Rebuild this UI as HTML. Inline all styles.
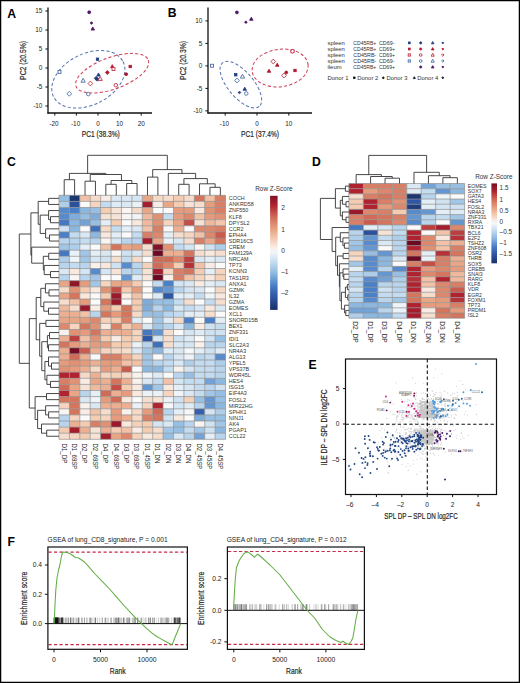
<!DOCTYPE html><html><head><meta charset="utf-8"><style>html,body{margin:0;padding:0;background:#fff;overflow:hidden}svg{display:block}</style></head><body>
<svg width="520" height="683" viewBox="0 0 520 683" font-family="&quot;Liberation Sans&quot;, sans-serif" fill="#222">
<rect x="0" y="0" width="520" height="683" fill="#fff"/>
<text x="7.30" y="17.50" font-size="12.2" fill="#000" font-weight="bold">A</text>
<text x="167.80" y="17.10" font-size="12.2" fill="#000" font-weight="bold">B</text>
<text x="7.00" y="165.80" font-size="12.2" fill="#000" font-weight="bold">C</text>
<text x="312.00" y="165.80" font-size="12.2" fill="#000" font-weight="bold">D</text>
<text x="308.60" y="369.00" font-size="12.2" fill="#000" font-weight="bold">E</text>
<text x="7.60" y="546.30" font-size="12.2" fill="#000" font-weight="bold">F</text>
<line x1="48.00" y1="7.50" x2="48.00" y2="113.60" stroke="#111" stroke-width="1.3"/>
<line x1="47.40" y1="113.00" x2="152.00" y2="113.00" stroke="#111" stroke-width="1.3"/>
<line x1="45.40" y1="11.00" x2="48.00" y2="11.00" stroke="#111" stroke-width="1"/>
<text x="42.40" y="13.20" font-size="6.4" text-anchor="end">15</text>
<line x1="45.40" y1="30.00" x2="48.00" y2="30.00" stroke="#111" stroke-width="1"/>
<text x="42.40" y="32.20" font-size="6.4" text-anchor="end">10</text>
<line x1="45.40" y1="49.00" x2="48.00" y2="49.00" stroke="#111" stroke-width="1"/>
<text x="42.40" y="51.20" font-size="6.4" text-anchor="end">5</text>
<line x1="45.40" y1="68.00" x2="48.00" y2="68.00" stroke="#111" stroke-width="1"/>
<text x="42.40" y="70.20" font-size="6.4" text-anchor="end">0</text>
<line x1="45.40" y1="87.00" x2="48.00" y2="87.00" stroke="#111" stroke-width="1"/>
<text x="42.40" y="89.20" font-size="6.4" text-anchor="end">-5</text>
<line x1="45.40" y1="106.00" x2="48.00" y2="106.00" stroke="#111" stroke-width="1"/>
<text x="42.40" y="108.20" font-size="6.4" text-anchor="end">-10</text>
<line x1="54.80" y1="113.00" x2="54.80" y2="115.60" stroke="#111" stroke-width="1"/>
<text x="54.00" y="125.70" font-size="6.4" text-anchor="middle">-20</text>
<line x1="76.40" y1="113.00" x2="76.40" y2="115.60" stroke="#111" stroke-width="1"/>
<text x="75.60" y="125.70" font-size="6.4" text-anchor="middle">-10</text>
<line x1="98.00" y1="113.00" x2="98.00" y2="115.60" stroke="#111" stroke-width="1"/>
<text x="98.00" y="125.70" font-size="6.4" text-anchor="middle">0</text>
<line x1="119.60" y1="113.00" x2="119.60" y2="115.60" stroke="#111" stroke-width="1"/>
<text x="119.60" y="125.70" font-size="6.4" text-anchor="middle">10</text>
<line x1="141.20" y1="113.00" x2="141.20" y2="115.60" stroke="#111" stroke-width="1"/>
<text x="141.20" y="125.70" font-size="6.4" text-anchor="middle">20</text>
<text x="100.80" y="137.20" font-size="8.3" stroke="#2a2a2a" stroke-width="0.2" text-anchor="middle" fill="#2a2a2a" textLength="38" lengthAdjust="spacingAndGlyphs">PC1 (38.3%)</text>
<text x="26.40" y="60.40" font-size="8.3" stroke="#2a2a2a" stroke-width="0.2" text-anchor="middle" fill="#2a2a2a" textLength="39" lengthAdjust="spacingAndGlyphs" transform="rotate(-90 26.40 60.40)">PC2 (20.5%)</text>
<ellipse cx="88.34" cy="79.29" rx="38.94" ry="25.51" transform="rotate(-27.07 88.34 79.29)" fill="none" stroke="#5273ad" stroke-width="1" stroke-dasharray="3.2 2.2"/>
<ellipse cx="112.18" cy="73.21" rx="38.43" ry="15.84" transform="rotate(-19.94 112.18 73.21)" fill="none" stroke="#cc3a50" stroke-width="1" stroke-dasharray="3.2 2.2"/>
<circle cx="89.20" cy="12.30" r="1.45" fill="#4a1562" stroke="#4a1562" stroke-width="0.8"/>
<path d="M91.50,21.65 L92.85,23.00 L91.50,24.35 L90.15,23.00 Z" fill="#4a1562" stroke="#4a1562" stroke-width="0.8"/>
<path d="M92.80,26.95 L94.56,30.09 L91.04,30.09 Z" fill="#4a1562" stroke="#4a1562" stroke-width="0.8"/>
<rect x="96.30" y="58.00" width="2.40" height="2.40" fill="#1f3f80" stroke="#1f3f80" stroke-width="0.8"/>
<path d="M112.30,64.65 L114.06,67.80 L110.54,67.80 Z" fill="#b0162e" stroke="#b0162e" stroke-width="0.8"/>
<rect x="112.04" y="67.54" width="2.93" height="2.93" fill="#fff" stroke="#c4364f" stroke-width="0.95"/>
<rect x="129.00" y="65.30" width="2.40" height="2.40" fill="#b0162e" stroke="#b0162e" stroke-width="0.8"/>
<path d="M107.30,70.55 L109.25,72.50 L107.30,74.45 L105.35,72.50 Z" fill="#b0162e" stroke="#b0162e" stroke-width="0.8"/>
<circle cx="126.20" cy="74.20" r="1.45" fill="#b0162e" stroke="#b0162e" stroke-width="0.8"/>
<rect x="58.04" y="70.44" width="2.93" height="2.93" fill="#fff" stroke="#5273ad" stroke-width="0.95"/>
<path d="M98.50,72.95 L100.26,76.09 L96.74,76.09 Z" fill="#1f3f80" stroke="#1f3f80" stroke-width="0.8"/>
<path d="M96.20,76.35 L98.15,78.30 L96.20,80.25 L94.25,78.30 Z" fill="#1f3f80" stroke="#1f3f80" stroke-width="0.8"/>
<circle cx="97.30" cy="79.40" r="1.45" fill="#1f3f80" stroke="#1f3f80" stroke-width="0.8"/>
<path d="M100.20,76.54 L102.34,80.38 L98.06,80.38 Z" fill="#fff" stroke="#c4364f" stroke-width="0.95"/>
<path d="M83.10,78.34 L85.24,82.18 L80.96,82.18 Z" fill="#fff" stroke="#5273ad" stroke-width="0.95"/>
<path d="M90.40,81.12 L92.78,83.50 L90.40,85.88 L88.02,83.50 Z" fill="#fff" stroke="#c4364f" stroke-width="0.95"/>
<circle cx="115.80" cy="85.20" r="1.77" fill="#fff" stroke="#c4364f" stroke-width="0.95"/>
<path d="M69.30,91.42 L71.68,93.80 L69.30,96.18 L66.92,93.80 Z" fill="#fff" stroke="#5273ad" stroke-width="0.95"/>
<circle cx="88.30" cy="94.10" r="1.77" fill="#fff" stroke="#5273ad" stroke-width="0.95"/>
<line x1="208.00" y1="7.50" x2="208.00" y2="113.60" stroke="#111" stroke-width="1.3"/>
<line x1="207.40" y1="113.00" x2="312.00" y2="113.00" stroke="#111" stroke-width="1.3"/>
<line x1="205.40" y1="20.90" x2="208.00" y2="20.90" stroke="#111" stroke-width="1"/>
<text x="202.40" y="23.10" font-size="6.4" text-anchor="end">10</text>
<line x1="205.40" y1="43.40" x2="208.00" y2="43.40" stroke="#111" stroke-width="1"/>
<text x="202.40" y="45.60" font-size="6.4" text-anchor="end">5</text>
<line x1="205.40" y1="65.90" x2="208.00" y2="65.90" stroke="#111" stroke-width="1"/>
<text x="202.40" y="68.10" font-size="6.4" text-anchor="end">0</text>
<line x1="205.40" y1="88.40" x2="208.00" y2="88.40" stroke="#111" stroke-width="1"/>
<text x="202.40" y="90.60" font-size="6.4" text-anchor="end">-5</text>
<line x1="205.40" y1="110.90" x2="208.00" y2="110.90" stroke="#111" stroke-width="1"/>
<text x="202.40" y="113.10" font-size="6.4" text-anchor="end">-10</text>
<line x1="225.20" y1="113.00" x2="225.20" y2="115.60" stroke="#111" stroke-width="1"/>
<text x="224.40" y="125.70" font-size="6.4" text-anchor="middle">-10</text>
<line x1="257.00" y1="113.00" x2="257.00" y2="115.60" stroke="#111" stroke-width="1"/>
<text x="257.00" y="125.70" font-size="6.4" text-anchor="middle">0</text>
<line x1="288.80" y1="113.00" x2="288.80" y2="115.60" stroke="#111" stroke-width="1"/>
<text x="288.80" y="125.70" font-size="6.4" text-anchor="middle">10</text>
<text x="260.00" y="137.20" font-size="8.3" stroke="#2a2a2a" stroke-width="0.2" text-anchor="middle" fill="#2a2a2a" textLength="38" lengthAdjust="spacingAndGlyphs">PC1 (37.4%)</text>
<text x="186.40" y="60.40" font-size="8.3" stroke="#2a2a2a" stroke-width="0.2" text-anchor="middle" fill="#2a2a2a" textLength="39" lengthAdjust="spacingAndGlyphs" transform="rotate(-90 186.40 60.40)">PC2 (20.3%)</text>
<ellipse cx="240.86" cy="84.67" rx="28.51" ry="12.8" transform="rotate(49.92 240.86 84.67)" fill="none" stroke="#5273ad" stroke-width="1" stroke-dasharray="3.2 2.2"/>
<ellipse cx="280.13" cy="67.99" rx="28.12" ry="18.75" transform="rotate(-7.39 280.13 67.99)" fill="none" stroke="#cc3a50" stroke-width="1" stroke-dasharray="3.2 2.2"/>
<circle cx="236.90" cy="12.40" r="1.45" fill="#4a1562" stroke="#4a1562" stroke-width="0.8"/>
<path d="M245.90,20.85 L247.25,22.20 L245.90,23.55 L244.55,22.20 Z" fill="#4a1562" stroke="#4a1562" stroke-width="0.8"/>
<path d="M251.30,17.15 L253.06,20.30 L249.54,20.30 Z" fill="#4a1562" stroke="#4a1562" stroke-width="0.8"/>
<rect x="210.54" y="64.29" width="2.93" height="2.93" fill="#fff" stroke="#5273ad" stroke-width="0.95"/>
<rect x="234.55" y="73.55" width="2.40" height="2.40" fill="#1f3f80" stroke="#1f3f80" stroke-width="0.8"/>
<path d="M242.50,74.24 L244.64,78.08 L240.36,78.08 Z" fill="#fff" stroke="#5273ad" stroke-width="0.95"/>
<path d="M237.00,78.12 L239.38,80.50 L237.00,82.88 L234.62,80.50 Z" fill="#fff" stroke="#5273ad" stroke-width="0.95"/>
<path d="M244.75,87.15 L246.51,90.30 L242.99,90.30 Z" fill="#1f3f80" stroke="#1f3f80" stroke-width="0.8"/>
<path d="M239.50,91.15 L240.85,92.50 L239.50,93.85 L238.15,92.50 Z" fill="#1f3f80" stroke="#1f3f80" stroke-width="0.8"/>
<circle cx="246.25" cy="93.50" r="1.77" fill="#fff" stroke="#5273ad" stroke-width="0.95"/>
<rect x="291.04" y="49.79" width="2.93" height="2.93" fill="#fff" stroke="#c4364f" stroke-width="0.95"/>
<circle cx="292.50" cy="51.25" r="1.77" fill="#fff" stroke="#c4364f" stroke-width="0.95"/>
<path d="M273.25,59.12 L275.63,61.50 L273.25,63.88 L270.87,61.50 Z" fill="#fff" stroke="#c4364f" stroke-width="0.95"/>
<path d="M277.25,63.15 L279.01,66.30 L275.49,66.30 Z" fill="#b0162e" stroke="#b0162e" stroke-width="0.8"/>
<path d="M269.00,69.15 L270.76,72.30 L267.24,72.30 Z" fill="#b0162e" stroke="#b0162e" stroke-width="0.8"/>
<circle cx="286.25" cy="72.50" r="1.45" fill="#b0162e" stroke="#b0162e" stroke-width="0.8"/>
<path d="M284.00,73.12 L286.38,75.50 L284.00,77.88 L281.62,75.50 Z" fill="#fff" stroke="#c4364f" stroke-width="0.95"/>
<rect x="293.80" y="69.30" width="2.40" height="2.40" fill="#b0162e" stroke="#b0162e" stroke-width="0.8"/>
<text x="327.50" y="45.00" font-size="5.9" fill="#333">spleen</text>
<text x="353.30" y="45.00" font-size="5.9" fill="#333" textLength="23" lengthAdjust="spacingAndGlyphs">CD45RB+</text>
<text x="379.00" y="45.00" font-size="5.9" fill="#333" textLength="15.5" lengthAdjust="spacingAndGlyphs">CD69-</text>
<rect x="408.40" y="42.00" width="1.80" height="1.80" fill="#1f3f80" stroke="#1f3f80" stroke-width="0.8"/>
<circle cx="420.70" cy="42.90" r="1.09" fill="#1f3f80" stroke="#1f3f80" stroke-width="0.8"/>
<path d="M432.70,41.51 L434.02,43.87 L431.38,43.87 Z" fill="#1f3f80" stroke="#1f3f80" stroke-width="0.8"/>
<path d="M442.80,41.89 L443.81,42.90 L442.80,43.91 L441.79,42.90 Z" fill="#1f3f80" stroke="#1f3f80" stroke-width="0.8"/>
<text x="327.50" y="51.10" font-size="5.9" fill="#333">spleen</text>
<text x="353.30" y="51.10" font-size="5.9" fill="#333" textLength="23" lengthAdjust="spacingAndGlyphs">CD45RB+</text>
<text x="379.00" y="51.10" font-size="5.9" fill="#333" textLength="16" lengthAdjust="spacingAndGlyphs">CD69+</text>
<rect x="408.40" y="48.10" width="1.80" height="1.80" fill="#b0162e" stroke="#b0162e" stroke-width="0.8"/>
<circle cx="420.70" cy="49.00" r="1.09" fill="#b0162e" stroke="#b0162e" stroke-width="0.8"/>
<path d="M432.70,47.61 L434.02,49.97 L431.38,49.97 Z" fill="#b0162e" stroke="#b0162e" stroke-width="0.8"/>
<path d="M442.80,47.99 L443.81,49.00 L442.80,50.01 L441.79,49.00 Z" fill="#b0162e" stroke="#b0162e" stroke-width="0.8"/>
<text x="327.50" y="57.10" font-size="5.9" fill="#333">spleen</text>
<text x="353.30" y="57.10" font-size="5.9" fill="#333" textLength="23" lengthAdjust="spacingAndGlyphs">CD45RB-</text>
<text x="379.00" y="57.10" font-size="5.9" fill="#333" textLength="16" lengthAdjust="spacingAndGlyphs">CD69+</text>
<rect x="408.20" y="53.90" width="2.20" height="2.20" fill="#fff" stroke="#c4364f" stroke-width="0.95"/>
<circle cx="420.70" cy="55.00" r="1.33" fill="#fff" stroke="#c4364f" stroke-width="0.95"/>
<path d="M432.70,53.31 L434.31,56.18 L431.09,56.18 Z" fill="#fff" stroke="#c4364f" stroke-width="0.95"/>
<path d="M442.80,53.76 L444.04,55.00 L442.80,56.24 L441.56,55.00 Z" fill="#fff" stroke="#c4364f" stroke-width="0.95"/>
<text x="327.50" y="63.10" font-size="5.9" fill="#333">spleen</text>
<text x="353.30" y="63.10" font-size="5.9" fill="#333" textLength="23" lengthAdjust="spacingAndGlyphs">CD45RB-</text>
<text x="379.00" y="63.10" font-size="5.9" fill="#333" textLength="15.5" lengthAdjust="spacingAndGlyphs">CD69-</text>
<rect x="408.20" y="59.90" width="2.20" height="2.20" fill="#fff" stroke="#5273ad" stroke-width="0.95"/>
<circle cx="420.70" cy="61.00" r="1.33" fill="#fff" stroke="#5273ad" stroke-width="0.95"/>
<path d="M432.70,59.31 L434.31,62.18 L431.09,62.18 Z" fill="#fff" stroke="#5273ad" stroke-width="0.95"/>
<path d="M442.80,59.76 L444.04,61.00 L442.80,62.24 L441.56,61.00 Z" fill="#fff" stroke="#5273ad" stroke-width="0.95"/>
<text x="327.50" y="69.10" font-size="5.9" fill="#333">ileum</text>
<text x="353.30" y="69.10" font-size="5.9" fill="#333" textLength="23" lengthAdjust="spacingAndGlyphs">CD45RB+</text>
<text x="379.00" y="69.10" font-size="5.9" fill="#333" textLength="16" lengthAdjust="spacingAndGlyphs">CD69+</text>
<circle cx="420.70" cy="67.00" r="1.09" fill="#4a1562" stroke="#4a1562" stroke-width="0.8"/>
<path d="M432.70,65.61 L434.02,67.97 L431.38,67.97 Z" fill="#4a1562" stroke="#4a1562" stroke-width="0.8"/>
<path d="M442.80,65.99 L443.81,67.00 L442.80,68.01 L441.79,67.00 Z" fill="#4a1562" stroke="#4a1562" stroke-width="0.8"/>
<text x="327.50" y="79.90" font-size="5.9" fill="#333">Donor 1</text>
<rect x="353.52" y="77.02" width="1.56" height="1.56" fill="#111" stroke="#111" stroke-width="0.8"/>
<text x="357.30" y="79.90" font-size="5.9" fill="#333">Donor 2</text>
<circle cx="383.30" cy="77.80" r="0.87" fill="#111" stroke="#111" stroke-width="0.8"/>
<text x="386.50" y="79.90" font-size="5.9" fill="#333">Donor 3</text>
<path d="M414.30,76.69 L415.35,78.58 L413.25,78.58 Z" fill="#111" stroke="#111" stroke-width="0.8"/>
<text x="417.30" y="79.90" font-size="5.9" fill="#333">Donor 4</text>
<path d="M442.80,76.79 L443.81,77.80 L442.80,78.81 L441.79,77.80 Z" fill="#111" stroke="#111" stroke-width="0.8"/>
<rect x="59.00" y="195.30" width="10.41" height="6.10" fill="#97bfe3"/>
<rect x="69.41" y="195.30" width="10.41" height="6.10" fill="#1d3772"/>
<rect x="79.82" y="195.30" width="10.41" height="6.10" fill="#f1c2a7"/>
<rect x="90.23" y="195.30" width="10.41" height="6.10" fill="#f6dac8"/>
<rect x="100.64" y="195.30" width="10.41" height="6.10" fill="#f8ece4"/>
<rect x="111.05" y="195.30" width="10.41" height="6.10" fill="#dae8f4"/>
<rect x="121.46" y="195.30" width="10.41" height="6.10" fill="#dae8f4"/>
<rect x="131.87" y="195.30" width="10.41" height="6.10" fill="#d4e5f3"/>
<rect x="142.28" y="195.30" width="10.41" height="6.10" fill="#e9a687"/>
<rect x="152.69" y="195.30" width="10.41" height="6.10" fill="#f6dac8"/>
<rect x="163.10" y="195.30" width="10.41" height="6.10" fill="#f6decf"/>
<rect x="173.51" y="195.30" width="10.41" height="6.10" fill="#f4ccb2"/>
<rect x="183.92" y="195.30" width="10.41" height="6.10" fill="#f6decf"/>
<rect x="194.33" y="195.30" width="10.41" height="6.10" fill="#d4755e"/>
<rect x="204.74" y="195.30" width="10.41" height="6.10" fill="#f1c2a7"/>
<rect x="215.15" y="195.30" width="10.41" height="6.10" fill="#d87f65"/>
<rect x="59.00" y="201.40" width="10.41" height="6.10" fill="#aeceea"/>
<rect x="69.41" y="201.40" width="10.41" height="6.10" fill="#2b519c"/>
<rect x="79.82" y="201.40" width="10.41" height="6.10" fill="#fafafa"/>
<rect x="90.23" y="201.40" width="10.41" height="6.10" fill="#f5d5c0"/>
<rect x="100.64" y="201.40" width="10.41" height="6.10" fill="#c4dcf0"/>
<rect x="111.05" y="201.40" width="10.41" height="6.10" fill="#dfebf5"/>
<rect x="121.46" y="201.40" width="10.41" height="6.10" fill="#dae8f4"/>
<rect x="131.87" y="201.40" width="10.41" height="6.10" fill="#eaf1f7"/>
<rect x="142.28" y="201.40" width="10.41" height="6.10" fill="#a41e2e"/>
<rect x="152.69" y="201.40" width="10.41" height="6.10" fill="#f8ece4"/>
<rect x="163.10" y="201.40" width="10.41" height="6.10" fill="#e9a687"/>
<rect x="173.51" y="201.40" width="10.41" height="6.10" fill="#f4ccb2"/>
<rect x="183.92" y="201.40" width="10.41" height="6.10" fill="#f7e3d6"/>
<rect x="194.33" y="201.40" width="10.41" height="6.10" fill="#f6decf"/>
<rect x="204.74" y="201.40" width="10.41" height="6.10" fill="#e69c7c"/>
<rect x="215.15" y="201.40" width="10.41" height="6.10" fill="#d87f65"/>
<rect x="59.00" y="207.50" width="10.41" height="6.10" fill="#578bcd"/>
<rect x="69.41" y="207.50" width="10.41" height="6.10" fill="#4a80c8"/>
<rect x="79.82" y="207.50" width="10.41" height="6.10" fill="#8cb8e0"/>
<rect x="90.23" y="207.50" width="10.41" height="6.10" fill="#97bfe3"/>
<rect x="100.64" y="207.50" width="10.41" height="6.10" fill="#f4ccb2"/>
<rect x="111.05" y="207.50" width="10.41" height="6.10" fill="#f7e3d6"/>
<rect x="121.46" y="207.50" width="10.41" height="6.10" fill="#f9f5f3"/>
<rect x="131.87" y="207.50" width="10.41" height="6.10" fill="#f6dac8"/>
<rect x="142.28" y="207.50" width="10.41" height="6.10" fill="#e9a687"/>
<rect x="152.69" y="207.50" width="10.41" height="6.10" fill="#fafafa"/>
<rect x="163.10" y="207.50" width="10.41" height="6.10" fill="#fafafa"/>
<rect x="173.51" y="207.50" width="10.41" height="6.10" fill="#e69c7c"/>
<rect x="183.92" y="207.50" width="10.41" height="6.10" fill="#e69c7c"/>
<rect x="194.33" y="207.50" width="10.41" height="6.10" fill="#f8e8dd"/>
<rect x="204.74" y="207.50" width="10.41" height="6.10" fill="#e19274"/>
<rect x="215.15" y="207.50" width="10.41" height="6.10" fill="#d87f65"/>
<rect x="59.00" y="213.60" width="10.41" height="6.10" fill="#578bcd"/>
<rect x="69.41" y="213.60" width="10.41" height="6.10" fill="#7faddb"/>
<rect x="79.82" y="213.60" width="10.41" height="6.10" fill="#97bfe3"/>
<rect x="90.23" y="213.60" width="10.41" height="6.10" fill="#7faddb"/>
<rect x="100.64" y="213.60" width="10.41" height="6.10" fill="#f7e3d6"/>
<rect x="111.05" y="213.60" width="10.41" height="6.10" fill="#f7e3d6"/>
<rect x="121.46" y="213.60" width="10.41" height="6.10" fill="#f9f5f3"/>
<rect x="131.87" y="213.60" width="10.41" height="6.10" fill="#eff4f8"/>
<rect x="142.28" y="213.60" width="10.41" height="6.10" fill="#eeb99c"/>
<rect x="152.69" y="213.60" width="10.41" height="6.10" fill="#e19274"/>
<rect x="163.10" y="213.60" width="10.41" height="6.10" fill="#c4dcf0"/>
<rect x="173.51" y="213.60" width="10.41" height="6.10" fill="#e69c7c"/>
<rect x="183.92" y="213.60" width="10.41" height="6.10" fill="#dd886d"/>
<rect x="194.33" y="213.60" width="10.41" height="6.10" fill="#f1c2a7"/>
<rect x="204.74" y="213.60" width="10.41" height="6.10" fill="#e69c7c"/>
<rect x="215.15" y="213.60" width="10.41" height="6.10" fill="#e19274"/>
<rect x="59.00" y="219.70" width="10.41" height="6.10" fill="#4478c1"/>
<rect x="69.41" y="219.70" width="10.41" height="6.10" fill="#8cb8e0"/>
<rect x="79.82" y="219.70" width="10.41" height="6.10" fill="#72a2d6"/>
<rect x="90.23" y="219.70" width="10.41" height="6.10" fill="#97bfe3"/>
<rect x="100.64" y="219.70" width="10.41" height="6.10" fill="#e4eef6"/>
<rect x="111.05" y="219.70" width="10.41" height="6.10" fill="#f4ccb2"/>
<rect x="121.46" y="219.70" width="10.41" height="6.10" fill="#fafafa"/>
<rect x="131.87" y="219.70" width="10.41" height="6.10" fill="#f8e8dd"/>
<rect x="142.28" y="219.70" width="10.41" height="6.10" fill="#eeb99c"/>
<rect x="152.69" y="219.70" width="10.41" height="6.10" fill="#e19274"/>
<rect x="163.10" y="219.70" width="10.41" height="6.10" fill="#f5d5c0"/>
<rect x="173.51" y="219.70" width="10.41" height="6.10" fill="#e9a687"/>
<rect x="183.92" y="219.70" width="10.41" height="6.10" fill="#c34e47"/>
<rect x="194.33" y="219.70" width="10.41" height="6.10" fill="#f7e3d6"/>
<rect x="204.74" y="219.70" width="10.41" height="6.10" fill="#eeb99c"/>
<rect x="215.15" y="219.70" width="10.41" height="6.10" fill="#f3c7ad"/>
<rect x="59.00" y="225.80" width="10.41" height="6.10" fill="#cfe2f2"/>
<rect x="69.41" y="225.80" width="10.41" height="6.10" fill="#8cb8e0"/>
<rect x="79.82" y="225.80" width="10.41" height="6.10" fill="#fafafa"/>
<rect x="90.23" y="225.80" width="10.41" height="6.10" fill="#3f70ba"/>
<rect x="100.64" y="225.80" width="10.41" height="6.10" fill="#f6dac8"/>
<rect x="111.05" y="225.80" width="10.41" height="6.10" fill="#c4dcf0"/>
<rect x="121.46" y="225.80" width="10.41" height="6.10" fill="#e4eef6"/>
<rect x="131.87" y="225.80" width="10.41" height="6.10" fill="#dae8f4"/>
<rect x="142.28" y="225.80" width="10.41" height="6.10" fill="#f1c2a7"/>
<rect x="152.69" y="225.80" width="10.41" height="6.10" fill="#d87f65"/>
<rect x="163.10" y="225.80" width="10.41" height="6.10" fill="#f5f7f9"/>
<rect x="173.51" y="225.80" width="10.41" height="6.10" fill="#ecaf92"/>
<rect x="183.92" y="225.80" width="10.41" height="6.10" fill="#fafafa"/>
<rect x="194.33" y="225.80" width="10.41" height="6.10" fill="#dd886d"/>
<rect x="204.74" y="225.80" width="10.41" height="6.10" fill="#dd886d"/>
<rect x="215.15" y="225.80" width="10.41" height="6.10" fill="#d87f65"/>
<rect x="59.00" y="231.90" width="10.41" height="6.10" fill="#4a80c8"/>
<rect x="69.41" y="231.90" width="10.41" height="6.10" fill="#c4dcf0"/>
<rect x="79.82" y="231.90" width="10.41" height="6.10" fill="#dae8f4"/>
<rect x="90.23" y="231.90" width="10.41" height="6.10" fill="#8cb8e0"/>
<rect x="100.64" y="231.90" width="10.41" height="6.10" fill="#f8e8dd"/>
<rect x="111.05" y="231.90" width="10.41" height="6.10" fill="#e4eef6"/>
<rect x="121.46" y="231.90" width="10.41" height="6.10" fill="#fafafa"/>
<rect x="131.87" y="231.90" width="10.41" height="6.10" fill="#c4dcf0"/>
<rect x="142.28" y="231.90" width="10.41" height="6.10" fill="#d87f65"/>
<rect x="152.69" y="231.90" width="10.41" height="6.10" fill="#dd886d"/>
<rect x="163.10" y="231.90" width="10.41" height="6.10" fill="#e4eef6"/>
<rect x="173.51" y="231.90" width="10.41" height="6.10" fill="#f6decf"/>
<rect x="183.92" y="231.90" width="10.41" height="6.10" fill="#f5d5c0"/>
<rect x="194.33" y="231.90" width="10.41" height="6.10" fill="#f1c2a7"/>
<rect x="204.74" y="231.90" width="10.41" height="6.10" fill="#dd886d"/>
<rect x="215.15" y="231.90" width="10.41" height="6.10" fill="#c95c4e"/>
<rect x="59.00" y="238.00" width="10.41" height="6.10" fill="#b9d5ed"/>
<rect x="69.41" y="238.00" width="10.41" height="6.10" fill="#b9d5ed"/>
<rect x="79.82" y="238.00" width="10.41" height="6.10" fill="#c4dcf0"/>
<rect x="90.23" y="238.00" width="10.41" height="6.10" fill="#b9d5ed"/>
<rect x="100.64" y="238.00" width="10.41" height="6.10" fill="#f9f5f3"/>
<rect x="111.05" y="238.00" width="10.41" height="6.10" fill="#dae8f4"/>
<rect x="121.46" y="238.00" width="10.41" height="6.10" fill="#b9d5ed"/>
<rect x="131.87" y="238.00" width="10.41" height="6.10" fill="#b9d5ed"/>
<rect x="142.28" y="238.00" width="10.41" height="6.10" fill="#a41e2e"/>
<rect x="152.69" y="238.00" width="10.41" height="6.10" fill="#e9a687"/>
<rect x="163.10" y="238.00" width="10.41" height="6.10" fill="#eaf1f7"/>
<rect x="173.51" y="238.00" width="10.41" height="6.10" fill="#dae8f4"/>
<rect x="183.92" y="238.00" width="10.41" height="6.10" fill="#f6decf"/>
<rect x="194.33" y="238.00" width="10.41" height="6.10" fill="#d87f65"/>
<rect x="204.74" y="238.00" width="10.41" height="6.10" fill="#e9a687"/>
<rect x="215.15" y="238.00" width="10.41" height="6.10" fill="#d4755e"/>
<rect x="59.00" y="244.10" width="10.41" height="6.10" fill="#a2c6e6"/>
<rect x="69.41" y="244.10" width="10.41" height="6.10" fill="#aeceea"/>
<rect x="79.82" y="244.10" width="10.41" height="6.10" fill="#e4eef6"/>
<rect x="90.23" y="244.10" width="10.41" height="6.10" fill="#fafafa"/>
<rect x="100.64" y="244.10" width="10.41" height="6.10" fill="#f1c2a7"/>
<rect x="111.05" y="244.10" width="10.41" height="6.10" fill="#d4755e"/>
<rect x="121.46" y="244.10" width="10.41" height="6.10" fill="#e9a687"/>
<rect x="131.87" y="244.10" width="10.41" height="6.10" fill="#e69c7c"/>
<rect x="142.28" y="244.10" width="10.41" height="6.10" fill="#f6decf"/>
<rect x="152.69" y="244.10" width="10.41" height="6.10" fill="#821227"/>
<rect x="163.10" y="244.10" width="10.41" height="6.10" fill="#e19274"/>
<rect x="173.51" y="244.10" width="10.41" height="6.10" fill="#c4dcf0"/>
<rect x="183.92" y="244.10" width="10.41" height="6.10" fill="#d4e5f3"/>
<rect x="194.33" y="244.10" width="10.41" height="6.10" fill="#f9f5f3"/>
<rect x="204.74" y="244.10" width="10.41" height="6.10" fill="#cfe2f2"/>
<rect x="215.15" y="244.10" width="10.41" height="6.10" fill="#aeceea"/>
<rect x="59.00" y="250.20" width="10.41" height="6.10" fill="#4478c1"/>
<rect x="69.41" y="250.20" width="10.41" height="6.10" fill="#eaf1f7"/>
<rect x="79.82" y="250.20" width="10.41" height="6.10" fill="#a2c6e6"/>
<rect x="90.23" y="250.20" width="10.41" height="6.10" fill="#e4eef6"/>
<rect x="100.64" y="250.20" width="10.41" height="6.10" fill="#dae8f4"/>
<rect x="111.05" y="250.20" width="10.41" height="6.10" fill="#f9f5f3"/>
<rect x="121.46" y="250.20" width="10.41" height="6.10" fill="#cfe2f2"/>
<rect x="131.87" y="250.20" width="10.41" height="6.10" fill="#dae8f4"/>
<rect x="142.28" y="250.20" width="10.41" height="6.10" fill="#f6decf"/>
<rect x="152.69" y="250.20" width="10.41" height="6.10" fill="#6b0a22"/>
<rect x="163.10" y="250.20" width="10.41" height="6.10" fill="#ecaf92"/>
<rect x="173.51" y="250.20" width="10.41" height="6.10" fill="#ecaf92"/>
<rect x="183.92" y="250.20" width="10.41" height="6.10" fill="#d4755e"/>
<rect x="194.33" y="250.20" width="10.41" height="6.10" fill="#f6decf"/>
<rect x="204.74" y="250.20" width="10.41" height="6.10" fill="#f8e8dd"/>
<rect x="215.15" y="250.20" width="10.41" height="6.10" fill="#f6decf"/>
<rect x="59.00" y="256.30" width="10.41" height="6.10" fill="#aeceea"/>
<rect x="69.41" y="256.30" width="10.41" height="6.10" fill="#eff4f8"/>
<rect x="79.82" y="256.30" width="10.41" height="6.10" fill="#a2c6e6"/>
<rect x="90.23" y="256.30" width="10.41" height="6.10" fill="#d4e5f3"/>
<rect x="100.64" y="256.30" width="10.41" height="6.10" fill="#cfe2f2"/>
<rect x="111.05" y="256.30" width="10.41" height="6.10" fill="#f6decf"/>
<rect x="121.46" y="256.30" width="10.41" height="6.10" fill="#c4dcf0"/>
<rect x="131.87" y="256.30" width="10.41" height="6.10" fill="#f6dac8"/>
<rect x="142.28" y="256.30" width="10.41" height="6.10" fill="#fafafa"/>
<rect x="152.69" y="256.30" width="10.41" height="6.10" fill="#cf6b56"/>
<rect x="163.10" y="256.30" width="10.41" height="6.10" fill="#cf6b56"/>
<rect x="173.51" y="256.30" width="10.41" height="6.10" fill="#dd886d"/>
<rect x="183.92" y="256.30" width="10.41" height="6.10" fill="#bc3f3f"/>
<rect x="194.33" y="256.30" width="10.41" height="6.10" fill="#dae8f4"/>
<rect x="204.74" y="256.30" width="10.41" height="6.10" fill="#e4eef6"/>
<rect x="215.15" y="256.30" width="10.41" height="6.10" fill="#dae8f4"/>
<rect x="59.00" y="262.40" width="10.41" height="6.10" fill="#b9d5ed"/>
<rect x="69.41" y="262.40" width="10.41" height="6.10" fill="#c4dcf0"/>
<rect x="79.82" y="262.40" width="10.41" height="6.10" fill="#b9d5ed"/>
<rect x="90.23" y="262.40" width="10.41" height="6.10" fill="#f9f1ec"/>
<rect x="100.64" y="262.40" width="10.41" height="6.10" fill="#f8e8dd"/>
<rect x="111.05" y="262.40" width="10.41" height="6.10" fill="#cfe2f2"/>
<rect x="121.46" y="262.40" width="10.41" height="6.10" fill="#578bcd"/>
<rect x="131.87" y="262.40" width="10.41" height="6.10" fill="#b9d5ed"/>
<rect x="142.28" y="262.40" width="10.41" height="6.10" fill="#f5d1b9"/>
<rect x="152.69" y="262.40" width="10.41" height="6.10" fill="#cf6b56"/>
<rect x="163.10" y="262.40" width="10.41" height="6.10" fill="#dd886d"/>
<rect x="173.51" y="262.40" width="10.41" height="6.10" fill="#f4ccb2"/>
<rect x="183.92" y="262.40" width="10.41" height="6.10" fill="#b63138"/>
<rect x="194.33" y="262.40" width="10.41" height="6.10" fill="#f1c2a7"/>
<rect x="204.74" y="262.40" width="10.41" height="6.10" fill="#f8ece4"/>
<rect x="215.15" y="262.40" width="10.41" height="6.10" fill="#fafafa"/>
<rect x="59.00" y="268.50" width="10.41" height="6.10" fill="#dae8f4"/>
<rect x="69.41" y="268.50" width="10.41" height="6.10" fill="#f8e8dd"/>
<rect x="79.82" y="268.50" width="10.41" height="6.10" fill="#d4e5f3"/>
<rect x="90.23" y="268.50" width="10.41" height="6.10" fill="#578bcd"/>
<rect x="100.64" y="268.50" width="10.41" height="6.10" fill="#d4e5f3"/>
<rect x="111.05" y="268.50" width="10.41" height="6.10" fill="#f7e3d6"/>
<rect x="121.46" y="268.50" width="10.41" height="6.10" fill="#b9d5ed"/>
<rect x="131.87" y="268.50" width="10.41" height="6.10" fill="#b9d5ed"/>
<rect x="142.28" y="268.50" width="10.41" height="6.10" fill="#f7e3d6"/>
<rect x="152.69" y="268.50" width="10.41" height="6.10" fill="#a41e2e"/>
<rect x="163.10" y="268.50" width="10.41" height="6.10" fill="#f5d5c0"/>
<rect x="173.51" y="268.50" width="10.41" height="6.10" fill="#d87f65"/>
<rect x="183.92" y="268.50" width="10.41" height="6.10" fill="#d4755e"/>
<rect x="194.33" y="268.50" width="10.41" height="6.10" fill="#f4ccb2"/>
<rect x="204.74" y="268.50" width="10.41" height="6.10" fill="#e4eef6"/>
<rect x="215.15" y="268.50" width="10.41" height="6.10" fill="#f5d5c0"/>
<rect x="59.00" y="274.60" width="10.41" height="6.10" fill="#b9d5ed"/>
<rect x="69.41" y="274.60" width="10.41" height="6.10" fill="#f9f5f3"/>
<rect x="79.82" y="274.60" width="10.41" height="6.10" fill="#b9d5ed"/>
<rect x="90.23" y="274.60" width="10.41" height="6.10" fill="#a2c6e6"/>
<rect x="100.64" y="274.60" width="10.41" height="6.10" fill="#fafafa"/>
<rect x="111.05" y="274.60" width="10.41" height="6.10" fill="#fafafa"/>
<rect x="121.46" y="274.60" width="10.41" height="6.10" fill="#6496d2"/>
<rect x="131.87" y="274.60" width="10.41" height="6.10" fill="#dfebf5"/>
<rect x="142.28" y="274.60" width="10.41" height="6.10" fill="#f8e8dd"/>
<rect x="152.69" y="274.60" width="10.41" height="6.10" fill="#6b0a22"/>
<rect x="163.10" y="274.60" width="10.41" height="6.10" fill="#f9f1ec"/>
<rect x="173.51" y="274.60" width="10.41" height="6.10" fill="#d87f65"/>
<rect x="183.92" y="274.60" width="10.41" height="6.10" fill="#f1c2a7"/>
<rect x="194.33" y="274.60" width="10.41" height="6.10" fill="#f5d5c0"/>
<rect x="204.74" y="274.60" width="10.41" height="6.10" fill="#f8e8dd"/>
<rect x="215.15" y="274.60" width="10.41" height="6.10" fill="#f5d1b9"/>
<rect x="59.00" y="280.70" width="10.41" height="6.10" fill="#e9a687"/>
<rect x="69.41" y="280.70" width="10.41" height="6.10" fill="#8e1629"/>
<rect x="79.82" y="280.70" width="10.41" height="6.10" fill="#e69c7c"/>
<rect x="90.23" y="280.70" width="10.41" height="6.10" fill="#a2c6e6"/>
<rect x="100.64" y="280.70" width="10.41" height="6.10" fill="#f5d5c0"/>
<rect x="111.05" y="280.70" width="10.41" height="6.10" fill="#e9a687"/>
<rect x="121.46" y="280.70" width="10.41" height="6.10" fill="#e9a687"/>
<rect x="131.87" y="280.70" width="10.41" height="6.10" fill="#f4ccb2"/>
<rect x="142.28" y="280.70" width="10.41" height="6.10" fill="#fafafa"/>
<rect x="152.69" y="280.70" width="10.41" height="6.10" fill="#c4dcf0"/>
<rect x="163.10" y="280.70" width="10.41" height="6.10" fill="#4a80c8"/>
<rect x="173.51" y="280.70" width="10.41" height="6.10" fill="#d4e5f3"/>
<rect x="183.92" y="280.70" width="10.41" height="6.10" fill="#dae8f4"/>
<rect x="194.33" y="280.70" width="10.41" height="6.10" fill="#f8ece4"/>
<rect x="204.74" y="280.70" width="10.41" height="6.10" fill="#e4eef6"/>
<rect x="215.15" y="280.70" width="10.41" height="6.10" fill="#dae8f4"/>
<rect x="59.00" y="286.80" width="10.41" height="6.10" fill="#f6decf"/>
<rect x="69.41" y="286.80" width="10.41" height="6.10" fill="#e19274"/>
<rect x="79.82" y="286.80" width="10.41" height="6.10" fill="#f4ccb2"/>
<rect x="90.23" y="286.80" width="10.41" height="6.10" fill="#f8e8dd"/>
<rect x="100.64" y="286.80" width="10.41" height="6.10" fill="#e19274"/>
<rect x="111.05" y="286.80" width="10.41" height="6.10" fill="#c34e47"/>
<rect x="121.46" y="286.80" width="10.41" height="6.10" fill="#f4ccb2"/>
<rect x="131.87" y="286.80" width="10.41" height="6.10" fill="#e69c7c"/>
<rect x="142.28" y="286.80" width="10.41" height="6.10" fill="#fafafa"/>
<rect x="152.69" y="286.80" width="10.41" height="6.10" fill="#578bcd"/>
<rect x="163.10" y="286.80" width="10.41" height="6.10" fill="#6496d2"/>
<rect x="173.51" y="286.80" width="10.41" height="6.10" fill="#b9d5ed"/>
<rect x="183.92" y="286.80" width="10.41" height="6.10" fill="#d4e5f3"/>
<rect x="194.33" y="286.80" width="10.41" height="6.10" fill="#dae8f4"/>
<rect x="204.74" y="286.80" width="10.41" height="6.10" fill="#fafafa"/>
<rect x="215.15" y="286.80" width="10.41" height="6.10" fill="#f6dac8"/>
<rect x="59.00" y="292.90" width="10.41" height="6.10" fill="#e9a687"/>
<rect x="69.41" y="292.90" width="10.41" height="6.10" fill="#d4755e"/>
<rect x="79.82" y="292.90" width="10.41" height="6.10" fill="#f8e8dd"/>
<rect x="90.23" y="292.90" width="10.41" height="6.10" fill="#fafafa"/>
<rect x="100.64" y="292.90" width="10.41" height="6.10" fill="#f4ccb2"/>
<rect x="111.05" y="292.90" width="10.41" height="6.10" fill="#991a2b"/>
<rect x="121.46" y="292.90" width="10.41" height="6.10" fill="#f8ece4"/>
<rect x="131.87" y="292.90" width="10.41" height="6.10" fill="#f1c2a7"/>
<rect x="142.28" y="292.90" width="10.41" height="6.10" fill="#fafafa"/>
<rect x="152.69" y="292.90" width="10.41" height="6.10" fill="#dfebf5"/>
<rect x="163.10" y="292.90" width="10.41" height="6.10" fill="#2e58a6"/>
<rect x="173.51" y="292.90" width="10.41" height="6.10" fill="#e4eef6"/>
<rect x="183.92" y="292.90" width="10.41" height="6.10" fill="#e4eef6"/>
<rect x="194.33" y="292.90" width="10.41" height="6.10" fill="#c4dcf0"/>
<rect x="204.74" y="292.90" width="10.41" height="6.10" fill="#eff4f8"/>
<rect x="215.15" y="292.90" width="10.41" height="6.10" fill="#f8e8dd"/>
<rect x="59.00" y="299.00" width="10.41" height="6.10" fill="#f6decf"/>
<rect x="69.41" y="299.00" width="10.41" height="6.10" fill="#f1c2a7"/>
<rect x="79.82" y="299.00" width="10.41" height="6.10" fill="#e69c7c"/>
<rect x="90.23" y="299.00" width="10.41" height="6.10" fill="#fafafa"/>
<rect x="100.64" y="299.00" width="10.41" height="6.10" fill="#d4755e"/>
<rect x="111.05" y="299.00" width="10.41" height="6.10" fill="#991a2b"/>
<rect x="121.46" y="299.00" width="10.41" height="6.10" fill="#fafafa"/>
<rect x="131.87" y="299.00" width="10.41" height="6.10" fill="#f4ccb2"/>
<rect x="142.28" y="299.00" width="10.41" height="6.10" fill="#7faddb"/>
<rect x="152.69" y="299.00" width="10.41" height="6.10" fill="#97bfe3"/>
<rect x="163.10" y="299.00" width="10.41" height="6.10" fill="#97bfe3"/>
<rect x="173.51" y="299.00" width="10.41" height="6.10" fill="#c4dcf0"/>
<rect x="183.92" y="299.00" width="10.41" height="6.10" fill="#f6decf"/>
<rect x="194.33" y="299.00" width="10.41" height="6.10" fill="#fafafa"/>
<rect x="204.74" y="299.00" width="10.41" height="6.10" fill="#c4dcf0"/>
<rect x="215.15" y="299.00" width="10.41" height="6.10" fill="#f6decf"/>
<rect x="59.00" y="305.10" width="10.41" height="6.10" fill="#eeb99c"/>
<rect x="69.41" y="305.10" width="10.41" height="6.10" fill="#f6decf"/>
<rect x="79.82" y="305.10" width="10.41" height="6.10" fill="#991a2b"/>
<rect x="90.23" y="305.10" width="10.41" height="6.10" fill="#f8ece4"/>
<rect x="100.64" y="305.10" width="10.41" height="6.10" fill="#e69c7c"/>
<rect x="111.05" y="305.10" width="10.41" height="6.10" fill="#f4ccb2"/>
<rect x="121.46" y="305.10" width="10.41" height="6.10" fill="#d4755e"/>
<rect x="131.87" y="305.10" width="10.41" height="6.10" fill="#f4ccb2"/>
<rect x="142.28" y="305.10" width="10.41" height="6.10" fill="#7faddb"/>
<rect x="152.69" y="305.10" width="10.41" height="6.10" fill="#b9d5ed"/>
<rect x="163.10" y="305.10" width="10.41" height="6.10" fill="#8cb8e0"/>
<rect x="173.51" y="305.10" width="10.41" height="6.10" fill="#dae8f4"/>
<rect x="183.92" y="305.10" width="10.41" height="6.10" fill="#c4dcf0"/>
<rect x="194.33" y="305.10" width="10.41" height="6.10" fill="#d4e5f3"/>
<rect x="204.74" y="305.10" width="10.41" height="6.10" fill="#f8e8dd"/>
<rect x="215.15" y="305.10" width="10.41" height="6.10" fill="#dae8f4"/>
<rect x="59.00" y="311.20" width="10.41" height="6.10" fill="#ecaf92"/>
<rect x="69.41" y="311.20" width="10.41" height="6.10" fill="#ecaf92"/>
<rect x="79.82" y="311.20" width="10.41" height="6.10" fill="#f1c2a7"/>
<rect x="90.23" y="311.20" width="10.41" height="6.10" fill="#b9d5ed"/>
<rect x="100.64" y="311.20" width="10.41" height="6.10" fill="#d4755e"/>
<rect x="111.05" y="311.20" width="10.41" height="6.10" fill="#e69c7c"/>
<rect x="121.46" y="311.20" width="10.41" height="6.10" fill="#d4755e"/>
<rect x="131.87" y="311.20" width="10.41" height="6.10" fill="#f6dac8"/>
<rect x="142.28" y="311.20" width="10.41" height="6.10" fill="#97bfe3"/>
<rect x="152.69" y="311.20" width="10.41" height="6.10" fill="#97bfe3"/>
<rect x="163.10" y="311.20" width="10.41" height="6.10" fill="#b9d5ed"/>
<rect x="173.51" y="311.20" width="10.41" height="6.10" fill="#c4dcf0"/>
<rect x="183.92" y="311.20" width="10.41" height="6.10" fill="#e4eef6"/>
<rect x="194.33" y="311.20" width="10.41" height="6.10" fill="#e4eef6"/>
<rect x="204.74" y="311.20" width="10.41" height="6.10" fill="#f6decf"/>
<rect x="215.15" y="311.20" width="10.41" height="6.10" fill="#fafafa"/>
<rect x="59.00" y="317.30" width="10.41" height="6.10" fill="#e9a687"/>
<rect x="69.41" y="317.30" width="10.41" height="6.10" fill="#e9a687"/>
<rect x="79.82" y="317.30" width="10.41" height="6.10" fill="#e69c7c"/>
<rect x="90.23" y="317.30" width="10.41" height="6.10" fill="#dd886d"/>
<rect x="100.64" y="317.30" width="10.41" height="6.10" fill="#f5d1b9"/>
<rect x="111.05" y="317.30" width="10.41" height="6.10" fill="#f4ccb2"/>
<rect x="121.46" y="317.30" width="10.41" height="6.10" fill="#d87f65"/>
<rect x="131.87" y="317.30" width="10.41" height="6.10" fill="#dfebf5"/>
<rect x="142.28" y="317.30" width="10.41" height="6.10" fill="#fafafa"/>
<rect x="152.69" y="317.30" width="10.41" height="6.10" fill="#a2c6e6"/>
<rect x="163.10" y="317.30" width="10.41" height="6.10" fill="#dfebf5"/>
<rect x="173.51" y="317.30" width="10.41" height="6.10" fill="#f6dac8"/>
<rect x="183.92" y="317.30" width="10.41" height="6.10" fill="#4a80c8"/>
<rect x="194.33" y="317.30" width="10.41" height="6.10" fill="#fafafa"/>
<rect x="204.74" y="317.30" width="10.41" height="6.10" fill="#4a80c8"/>
<rect x="215.15" y="317.30" width="10.41" height="6.10" fill="#e4eef6"/>
<rect x="59.00" y="323.40" width="10.41" height="6.10" fill="#dd886d"/>
<rect x="69.41" y="323.40" width="10.41" height="6.10" fill="#f5d5c0"/>
<rect x="79.82" y="323.40" width="10.41" height="6.10" fill="#d4755e"/>
<rect x="90.23" y="323.40" width="10.41" height="6.10" fill="#e19274"/>
<rect x="100.64" y="323.40" width="10.41" height="6.10" fill="#f8e8dd"/>
<rect x="111.05" y="323.40" width="10.41" height="6.10" fill="#d87f65"/>
<rect x="121.46" y="323.40" width="10.41" height="6.10" fill="#f4ccb2"/>
<rect x="131.87" y="323.40" width="10.41" height="6.10" fill="#ecaf92"/>
<rect x="142.28" y="323.40" width="10.41" height="6.10" fill="#dae8f4"/>
<rect x="152.69" y="323.40" width="10.41" height="6.10" fill="#a2c6e6"/>
<rect x="163.10" y="323.40" width="10.41" height="6.10" fill="#b9d5ed"/>
<rect x="173.51" y="323.40" width="10.41" height="6.10" fill="#dae8f4"/>
<rect x="183.92" y="323.40" width="10.41" height="6.10" fill="#8cb8e0"/>
<rect x="194.33" y="323.40" width="10.41" height="6.10" fill="#f8ece4"/>
<rect x="204.74" y="323.40" width="10.41" height="6.10" fill="#cfe2f2"/>
<rect x="215.15" y="323.40" width="10.41" height="6.10" fill="#c4dcf0"/>
<rect x="59.00" y="329.50" width="10.41" height="6.10" fill="#f9f1ec"/>
<rect x="69.41" y="329.50" width="10.41" height="6.10" fill="#e19274"/>
<rect x="79.82" y="329.50" width="10.41" height="6.10" fill="#e69c7c"/>
<rect x="90.23" y="329.50" width="10.41" height="6.10" fill="#d4755e"/>
<rect x="100.64" y="329.50" width="10.41" height="6.10" fill="#ecaf92"/>
<rect x="111.05" y="329.50" width="10.41" height="6.10" fill="#ecaf92"/>
<rect x="121.46" y="329.50" width="10.41" height="6.10" fill="#ecaf92"/>
<rect x="131.87" y="329.50" width="10.41" height="6.10" fill="#f5d5c0"/>
<rect x="142.28" y="329.50" width="10.41" height="6.10" fill="#4478c1"/>
<rect x="152.69" y="329.50" width="10.41" height="6.10" fill="#6496d2"/>
<rect x="163.10" y="329.50" width="10.41" height="6.10" fill="#f6decf"/>
<rect x="173.51" y="329.50" width="10.41" height="6.10" fill="#fafafa"/>
<rect x="183.92" y="329.50" width="10.41" height="6.10" fill="#d4e5f3"/>
<rect x="194.33" y="329.50" width="10.41" height="6.10" fill="#dfebf5"/>
<rect x="204.74" y="329.50" width="10.41" height="6.10" fill="#cfe2f2"/>
<rect x="215.15" y="329.50" width="10.41" height="6.10" fill="#cfe2f2"/>
<rect x="59.00" y="335.60" width="10.41" height="6.10" fill="#ecaf92"/>
<rect x="69.41" y="335.60" width="10.41" height="6.10" fill="#bc3f3f"/>
<rect x="79.82" y="335.60" width="10.41" height="6.10" fill="#f1c2a7"/>
<rect x="90.23" y="335.60" width="10.41" height="6.10" fill="#e19274"/>
<rect x="100.64" y="335.60" width="10.41" height="6.10" fill="#f4ccb2"/>
<rect x="111.05" y="335.60" width="10.41" height="6.10" fill="#f8ece4"/>
<rect x="121.46" y="335.60" width="10.41" height="6.10" fill="#f4ccb2"/>
<rect x="131.87" y="335.60" width="10.41" height="6.10" fill="#f5d5c0"/>
<rect x="142.28" y="335.60" width="10.41" height="6.10" fill="#2e58a6"/>
<rect x="152.69" y="335.60" width="10.41" height="6.10" fill="#d4e5f3"/>
<rect x="163.10" y="335.60" width="10.41" height="6.10" fill="#f6decf"/>
<rect x="173.51" y="335.60" width="10.41" height="6.10" fill="#cfe2f2"/>
<rect x="183.92" y="335.60" width="10.41" height="6.10" fill="#dfebf5"/>
<rect x="194.33" y="335.60" width="10.41" height="6.10" fill="#fafafa"/>
<rect x="204.74" y="335.60" width="10.41" height="6.10" fill="#cfe2f2"/>
<rect x="215.15" y="335.60" width="10.41" height="6.10" fill="#97bfe3"/>
<rect x="59.00" y="341.70" width="10.41" height="6.10" fill="#d4755e"/>
<rect x="69.41" y="341.70" width="10.41" height="6.10" fill="#e69c7c"/>
<rect x="79.82" y="341.70" width="10.41" height="6.10" fill="#ecaf92"/>
<rect x="90.23" y="341.70" width="10.41" height="6.10" fill="#e69c7c"/>
<rect x="100.64" y="341.70" width="10.41" height="6.10" fill="#e69c7c"/>
<rect x="111.05" y="341.70" width="10.41" height="6.10" fill="#f4ccb2"/>
<rect x="121.46" y="341.70" width="10.41" height="6.10" fill="#f4ccb2"/>
<rect x="131.87" y="341.70" width="10.41" height="6.10" fill="#eaf1f7"/>
<rect x="142.28" y="341.70" width="10.41" height="6.10" fill="#b9d5ed"/>
<rect x="152.69" y="341.70" width="10.41" height="6.10" fill="#3f70ba"/>
<rect x="163.10" y="341.70" width="10.41" height="6.10" fill="#f6decf"/>
<rect x="173.51" y="341.70" width="10.41" height="6.10" fill="#dae8f4"/>
<rect x="183.92" y="341.70" width="10.41" height="6.10" fill="#d4e5f3"/>
<rect x="194.33" y="341.70" width="10.41" height="6.10" fill="#f9f1ec"/>
<rect x="204.74" y="341.70" width="10.41" height="6.10" fill="#b9d5ed"/>
<rect x="215.15" y="341.70" width="10.41" height="6.10" fill="#b9d5ed"/>
<rect x="59.00" y="347.80" width="10.41" height="6.10" fill="#ecaf92"/>
<rect x="69.41" y="347.80" width="10.41" height="6.10" fill="#760e24"/>
<rect x="79.82" y="347.80" width="10.41" height="6.10" fill="#c95c4e"/>
<rect x="90.23" y="347.80" width="10.41" height="6.10" fill="#ecaf92"/>
<rect x="100.64" y="347.80" width="10.41" height="6.10" fill="#f5d5c0"/>
<rect x="111.05" y="347.80" width="10.41" height="6.10" fill="#f6dac8"/>
<rect x="121.46" y="347.80" width="10.41" height="6.10" fill="#f6decf"/>
<rect x="131.87" y="347.80" width="10.41" height="6.10" fill="#dae8f4"/>
<rect x="142.28" y="347.80" width="10.41" height="6.10" fill="#a2c6e6"/>
<rect x="152.69" y="347.80" width="10.41" height="6.10" fill="#8cb8e0"/>
<rect x="163.10" y="347.80" width="10.41" height="6.10" fill="#dfebf5"/>
<rect x="173.51" y="347.80" width="10.41" height="6.10" fill="#dae8f4"/>
<rect x="183.92" y="347.80" width="10.41" height="6.10" fill="#f5f7f9"/>
<rect x="194.33" y="347.80" width="10.41" height="6.10" fill="#e4eef6"/>
<rect x="204.74" y="347.80" width="10.41" height="6.10" fill="#cfe2f2"/>
<rect x="215.15" y="347.80" width="10.41" height="6.10" fill="#dfebf5"/>
<rect x="59.00" y="353.90" width="10.41" height="6.10" fill="#ecaf92"/>
<rect x="69.41" y="353.90" width="10.41" height="6.10" fill="#cf6b56"/>
<rect x="79.82" y="353.90" width="10.41" height="6.10" fill="#ecaf92"/>
<rect x="90.23" y="353.90" width="10.41" height="6.10" fill="#fafafa"/>
<rect x="100.64" y="353.90" width="10.41" height="6.10" fill="#d87f65"/>
<rect x="111.05" y="353.90" width="10.41" height="6.10" fill="#d87f65"/>
<rect x="121.46" y="353.90" width="10.41" height="6.10" fill="#ecaf92"/>
<rect x="131.87" y="353.90" width="10.41" height="6.10" fill="#f5d5c0"/>
<rect x="142.28" y="353.90" width="10.41" height="6.10" fill="#a2c6e6"/>
<rect x="152.69" y="353.90" width="10.41" height="6.10" fill="#fafafa"/>
<rect x="163.10" y="353.90" width="10.41" height="6.10" fill="#b9d5ed"/>
<rect x="173.51" y="353.90" width="10.41" height="6.10" fill="#dae8f4"/>
<rect x="183.92" y="353.90" width="10.41" height="6.10" fill="#eff4f8"/>
<rect x="194.33" y="353.90" width="10.41" height="6.10" fill="#b9d5ed"/>
<rect x="204.74" y="353.90" width="10.41" height="6.10" fill="#c4dcf0"/>
<rect x="215.15" y="353.90" width="10.41" height="6.10" fill="#578bcd"/>
<rect x="59.00" y="360.00" width="10.41" height="6.10" fill="#e69c7c"/>
<rect x="69.41" y="360.00" width="10.41" height="6.10" fill="#e19274"/>
<rect x="79.82" y="360.00" width="10.41" height="6.10" fill="#e69c7c"/>
<rect x="90.23" y="360.00" width="10.41" height="6.10" fill="#ecaf92"/>
<rect x="100.64" y="360.00" width="10.41" height="6.10" fill="#e69c7c"/>
<rect x="111.05" y="360.00" width="10.41" height="6.10" fill="#e69c7c"/>
<rect x="121.46" y="360.00" width="10.41" height="6.10" fill="#f1c2a7"/>
<rect x="131.87" y="360.00" width="10.41" height="6.10" fill="#f1c2a7"/>
<rect x="142.28" y="360.00" width="10.41" height="6.10" fill="#a2c6e6"/>
<rect x="152.69" y="360.00" width="10.41" height="6.10" fill="#b9d5ed"/>
<rect x="163.10" y="360.00" width="10.41" height="6.10" fill="#c4dcf0"/>
<rect x="173.51" y="360.00" width="10.41" height="6.10" fill="#dae8f4"/>
<rect x="183.92" y="360.00" width="10.41" height="6.10" fill="#aeceea"/>
<rect x="194.33" y="360.00" width="10.41" height="6.10" fill="#c4dcf0"/>
<rect x="204.74" y="360.00" width="10.41" height="6.10" fill="#c4dcf0"/>
<rect x="215.15" y="360.00" width="10.41" height="6.10" fill="#aeceea"/>
<rect x="59.00" y="366.10" width="10.41" height="6.10" fill="#e19274"/>
<rect x="69.41" y="366.10" width="10.41" height="6.10" fill="#e69c7c"/>
<rect x="79.82" y="366.10" width="10.41" height="6.10" fill="#ecaf92"/>
<rect x="90.23" y="366.10" width="10.41" height="6.10" fill="#f6dac8"/>
<rect x="100.64" y="366.10" width="10.41" height="6.10" fill="#e69c7c"/>
<rect x="111.05" y="366.10" width="10.41" height="6.10" fill="#ecaf92"/>
<rect x="121.46" y="366.10" width="10.41" height="6.10" fill="#c95c4e"/>
<rect x="131.87" y="366.10" width="10.41" height="6.10" fill="#fafafa"/>
<rect x="142.28" y="366.10" width="10.41" height="6.10" fill="#8cb8e0"/>
<rect x="152.69" y="366.10" width="10.41" height="6.10" fill="#8cb8e0"/>
<rect x="163.10" y="366.10" width="10.41" height="6.10" fill="#c4dcf0"/>
<rect x="173.51" y="366.10" width="10.41" height="6.10" fill="#f9f1ec"/>
<rect x="183.92" y="366.10" width="10.41" height="6.10" fill="#d4e5f3"/>
<rect x="194.33" y="366.10" width="10.41" height="6.10" fill="#c4dcf0"/>
<rect x="204.74" y="366.10" width="10.41" height="6.10" fill="#c4dcf0"/>
<rect x="215.15" y="366.10" width="10.41" height="6.10" fill="#b9d5ed"/>
<rect x="59.00" y="372.20" width="10.41" height="6.10" fill="#b02230"/>
<rect x="69.41" y="372.20" width="10.41" height="6.10" fill="#b02230"/>
<rect x="79.82" y="372.20" width="10.41" height="6.10" fill="#f6dac8"/>
<rect x="90.23" y="372.20" width="10.41" height="6.10" fill="#ecaf92"/>
<rect x="100.64" y="372.20" width="10.41" height="6.10" fill="#f5d5c0"/>
<rect x="111.05" y="372.20" width="10.41" height="6.10" fill="#f5d1b9"/>
<rect x="121.46" y="372.20" width="10.41" height="6.10" fill="#f6dac8"/>
<rect x="131.87" y="372.20" width="10.41" height="6.10" fill="#f9f1ec"/>
<rect x="142.28" y="372.20" width="10.41" height="6.10" fill="#eff4f8"/>
<rect x="152.69" y="372.20" width="10.41" height="6.10" fill="#dfebf5"/>
<rect x="163.10" y="372.20" width="10.41" height="6.10" fill="#fafafa"/>
<rect x="173.51" y="372.20" width="10.41" height="6.10" fill="#b9d5ed"/>
<rect x="183.92" y="372.20" width="10.41" height="6.10" fill="#97bfe3"/>
<rect x="194.33" y="372.20" width="10.41" height="6.10" fill="#c4dcf0"/>
<rect x="204.74" y="372.20" width="10.41" height="6.10" fill="#c4dcf0"/>
<rect x="215.15" y="372.20" width="10.41" height="6.10" fill="#b9d5ed"/>
<rect x="59.00" y="378.30" width="10.41" height="6.10" fill="#d87f65"/>
<rect x="69.41" y="378.30" width="10.41" height="6.10" fill="#e19274"/>
<rect x="79.82" y="378.30" width="10.41" height="6.10" fill="#f8ece4"/>
<rect x="90.23" y="378.30" width="10.41" height="6.10" fill="#e9a687"/>
<rect x="100.64" y="378.30" width="10.41" height="6.10" fill="#ecaf92"/>
<rect x="111.05" y="378.30" width="10.41" height="6.10" fill="#d4755e"/>
<rect x="121.46" y="378.30" width="10.41" height="6.10" fill="#ecaf92"/>
<rect x="131.87" y="378.30" width="10.41" height="6.10" fill="#f9f1ec"/>
<rect x="142.28" y="378.30" width="10.41" height="6.10" fill="#dae8f4"/>
<rect x="152.69" y="378.30" width="10.41" height="6.10" fill="#c4dcf0"/>
<rect x="163.10" y="378.30" width="10.41" height="6.10" fill="#f1c2a7"/>
<rect x="173.51" y="378.30" width="10.41" height="6.10" fill="#d4e5f3"/>
<rect x="183.92" y="378.30" width="10.41" height="6.10" fill="#c4dcf0"/>
<rect x="194.33" y="378.30" width="10.41" height="6.10" fill="#c4dcf0"/>
<rect x="204.74" y="378.30" width="10.41" height="6.10" fill="#72a2d6"/>
<rect x="215.15" y="378.30" width="10.41" height="6.10" fill="#8cb8e0"/>
<rect x="59.00" y="384.40" width="10.41" height="6.10" fill="#cf6b56"/>
<rect x="69.41" y="384.40" width="10.41" height="6.10" fill="#e9a687"/>
<rect x="79.82" y="384.40" width="10.41" height="6.10" fill="#f7e3d6"/>
<rect x="90.23" y="384.40" width="10.41" height="6.10" fill="#eeb99c"/>
<rect x="100.64" y="384.40" width="10.41" height="6.10" fill="#ecaf92"/>
<rect x="111.05" y="384.40" width="10.41" height="6.10" fill="#c34e47"/>
<rect x="121.46" y="384.40" width="10.41" height="6.10" fill="#f4ccb2"/>
<rect x="131.87" y="384.40" width="10.41" height="6.10" fill="#f8e8dd"/>
<rect x="142.28" y="384.40" width="10.41" height="6.10" fill="#6496d2"/>
<rect x="152.69" y="384.40" width="10.41" height="6.10" fill="#a2c6e6"/>
<rect x="163.10" y="384.40" width="10.41" height="6.10" fill="#f8e8dd"/>
<rect x="173.51" y="384.40" width="10.41" height="6.10" fill="#e4eef6"/>
<rect x="183.92" y="384.40" width="10.41" height="6.10" fill="#d4e5f3"/>
<rect x="194.33" y="384.40" width="10.41" height="6.10" fill="#c4dcf0"/>
<rect x="204.74" y="384.40" width="10.41" height="6.10" fill="#b9d5ed"/>
<rect x="215.15" y="384.40" width="10.41" height="6.10" fill="#cfe2f2"/>
<rect x="59.00" y="390.50" width="10.41" height="6.10" fill="#b02230"/>
<rect x="69.41" y="390.50" width="10.41" height="6.10" fill="#e9a687"/>
<rect x="79.82" y="390.50" width="10.41" height="6.10" fill="#b9d5ed"/>
<rect x="90.23" y="390.50" width="10.41" height="6.10" fill="#e4eef6"/>
<rect x="100.64" y="390.50" width="10.41" height="6.10" fill="#cf6b56"/>
<rect x="111.05" y="390.50" width="10.41" height="6.10" fill="#ecaf92"/>
<rect x="121.46" y="390.50" width="10.41" height="6.10" fill="#e69c7c"/>
<rect x="131.87" y="390.50" width="10.41" height="6.10" fill="#f8e8dd"/>
<rect x="142.28" y="390.50" width="10.41" height="6.10" fill="#eaf1f7"/>
<rect x="152.69" y="390.50" width="10.41" height="6.10" fill="#eaf1f7"/>
<rect x="163.10" y="390.50" width="10.41" height="6.10" fill="#f5d5c0"/>
<rect x="173.51" y="390.50" width="10.41" height="6.10" fill="#eff4f8"/>
<rect x="183.92" y="390.50" width="10.41" height="6.10" fill="#dae8f4"/>
<rect x="194.33" y="390.50" width="10.41" height="6.10" fill="#c4dcf0"/>
<rect x="204.74" y="390.50" width="10.41" height="6.10" fill="#a2c6e6"/>
<rect x="215.15" y="390.50" width="10.41" height="6.10" fill="#97bfe3"/>
<rect x="59.00" y="396.60" width="10.41" height="6.10" fill="#d4755e"/>
<rect x="69.41" y="396.60" width="10.41" height="6.10" fill="#d4755e"/>
<rect x="79.82" y="396.60" width="10.41" height="6.10" fill="#dae8f4"/>
<rect x="90.23" y="396.60" width="10.41" height="6.10" fill="#eff4f8"/>
<rect x="100.64" y="396.60" width="10.41" height="6.10" fill="#e69c7c"/>
<rect x="111.05" y="396.60" width="10.41" height="6.10" fill="#cf6b56"/>
<rect x="121.46" y="396.60" width="10.41" height="6.10" fill="#f8e8dd"/>
<rect x="131.87" y="396.60" width="10.41" height="6.10" fill="#fafafa"/>
<rect x="142.28" y="396.60" width="10.41" height="6.10" fill="#f6decf"/>
<rect x="152.69" y="396.60" width="10.41" height="6.10" fill="#f7e3d6"/>
<rect x="163.10" y="396.60" width="10.41" height="6.10" fill="#eaf1f7"/>
<rect x="173.51" y="396.60" width="10.41" height="6.10" fill="#cfe2f2"/>
<rect x="183.92" y="396.60" width="10.41" height="6.10" fill="#f5d1b9"/>
<rect x="194.33" y="396.60" width="10.41" height="6.10" fill="#97bfe3"/>
<rect x="204.74" y="396.60" width="10.41" height="6.10" fill="#6496d2"/>
<rect x="215.15" y="396.60" width="10.41" height="6.10" fill="#97bfe3"/>
<rect x="59.00" y="402.70" width="10.41" height="6.10" fill="#f5d5c0"/>
<rect x="69.41" y="402.70" width="10.41" height="6.10" fill="#d4755e"/>
<rect x="79.82" y="402.70" width="10.41" height="6.10" fill="#f9f1ec"/>
<rect x="90.23" y="402.70" width="10.41" height="6.10" fill="#dae8f4"/>
<rect x="100.64" y="402.70" width="10.41" height="6.10" fill="#ecaf92"/>
<rect x="111.05" y="402.70" width="10.41" height="6.10" fill="#ecaf92"/>
<rect x="121.46" y="402.70" width="10.41" height="6.10" fill="#ecaf92"/>
<rect x="131.87" y="402.70" width="10.41" height="6.10" fill="#eaf1f7"/>
<rect x="142.28" y="402.70" width="10.41" height="6.10" fill="#f5d5c0"/>
<rect x="152.69" y="402.70" width="10.41" height="6.10" fill="#b02230"/>
<rect x="163.10" y="402.70" width="10.41" height="6.10" fill="#f5f7f9"/>
<rect x="173.51" y="402.70" width="10.41" height="6.10" fill="#d4e5f3"/>
<rect x="183.92" y="402.70" width="10.41" height="6.10" fill="#dfebf5"/>
<rect x="194.33" y="402.70" width="10.41" height="6.10" fill="#b9d5ed"/>
<rect x="204.74" y="402.70" width="10.41" height="6.10" fill="#6496d2"/>
<rect x="215.15" y="402.70" width="10.41" height="6.10" fill="#8cb8e0"/>
<rect x="59.00" y="408.80" width="10.41" height="6.10" fill="#f9f5f3"/>
<rect x="69.41" y="408.80" width="10.41" height="6.10" fill="#d4755e"/>
<rect x="79.82" y="408.80" width="10.41" height="6.10" fill="#f8ece4"/>
<rect x="90.23" y="408.80" width="10.41" height="6.10" fill="#f1c2a7"/>
<rect x="100.64" y="408.80" width="10.41" height="6.10" fill="#f6decf"/>
<rect x="111.05" y="408.80" width="10.41" height="6.10" fill="#e69c7c"/>
<rect x="121.46" y="408.80" width="10.41" height="6.10" fill="#f9f1ec"/>
<rect x="131.87" y="408.80" width="10.41" height="6.10" fill="#f6dac8"/>
<rect x="142.28" y="408.80" width="10.41" height="6.10" fill="#e69c7c"/>
<rect x="152.69" y="408.80" width="10.41" height="6.10" fill="#cf6b56"/>
<rect x="163.10" y="408.80" width="10.41" height="6.10" fill="#b9d5ed"/>
<rect x="173.51" y="408.80" width="10.41" height="6.10" fill="#e4eef6"/>
<rect x="183.92" y="408.80" width="10.41" height="6.10" fill="#f5f7f9"/>
<rect x="194.33" y="408.80" width="10.41" height="6.10" fill="#3460ad"/>
<rect x="204.74" y="408.80" width="10.41" height="6.10" fill="#d4e5f3"/>
<rect x="215.15" y="408.80" width="10.41" height="6.10" fill="#aeceea"/>
<rect x="59.00" y="414.90" width="10.41" height="6.10" fill="#b9d5ed"/>
<rect x="69.41" y="414.90" width="10.41" height="6.10" fill="#f5d5c0"/>
<rect x="79.82" y="414.90" width="10.41" height="6.10" fill="#fafafa"/>
<rect x="90.23" y="414.90" width="10.41" height="6.10" fill="#f4ccb2"/>
<rect x="100.64" y="414.90" width="10.41" height="6.10" fill="#f5d5c0"/>
<rect x="111.05" y="414.90" width="10.41" height="6.10" fill="#e69c7c"/>
<rect x="121.46" y="414.90" width="10.41" height="6.10" fill="#ecaf92"/>
<rect x="131.87" y="414.90" width="10.41" height="6.10" fill="#f6dac8"/>
<rect x="142.28" y="414.90" width="10.41" height="6.10" fill="#d87f65"/>
<rect x="152.69" y="414.90" width="10.41" height="6.10" fill="#d4755e"/>
<rect x="163.10" y="414.90" width="10.41" height="6.10" fill="#cfe2f2"/>
<rect x="173.51" y="414.90" width="10.41" height="6.10" fill="#f8e8dd"/>
<rect x="183.92" y="414.90" width="10.41" height="6.10" fill="#fafafa"/>
<rect x="194.33" y="414.90" width="10.41" height="6.10" fill="#7faddb"/>
<rect x="204.74" y="414.90" width="10.41" height="6.10" fill="#97bfe3"/>
<rect x="215.15" y="414.90" width="10.41" height="6.10" fill="#97bfe3"/>
<rect x="59.00" y="421.00" width="10.41" height="6.10" fill="#b9d5ed"/>
<rect x="69.41" y="421.00" width="10.41" height="6.10" fill="#ecaf92"/>
<rect x="79.82" y="421.00" width="10.41" height="6.10" fill="#f4ccb2"/>
<rect x="90.23" y="421.00" width="10.41" height="6.10" fill="#d87f65"/>
<rect x="100.64" y="421.00" width="10.41" height="6.10" fill="#e19274"/>
<rect x="111.05" y="421.00" width="10.41" height="6.10" fill="#991a2b"/>
<rect x="121.46" y="421.00" width="10.41" height="6.10" fill="#f8e8dd"/>
<rect x="131.87" y="421.00" width="10.41" height="6.10" fill="#f5d1b9"/>
<rect x="142.28" y="421.00" width="10.41" height="6.10" fill="#f4ccb2"/>
<rect x="152.69" y="421.00" width="10.41" height="6.10" fill="#d4e5f3"/>
<rect x="163.10" y="421.00" width="10.41" height="6.10" fill="#dae8f4"/>
<rect x="173.51" y="421.00" width="10.41" height="6.10" fill="#97bfe3"/>
<rect x="183.92" y="421.00" width="10.41" height="6.10" fill="#b9d5ed"/>
<rect x="194.33" y="421.00" width="10.41" height="6.10" fill="#f9f5f3"/>
<rect x="204.74" y="421.00" width="10.41" height="6.10" fill="#cfe2f2"/>
<rect x="215.15" y="421.00" width="10.41" height="6.10" fill="#a2c6e6"/>
<rect x="59.00" y="427.10" width="10.41" height="6.10" fill="#f4ccb2"/>
<rect x="69.41" y="427.10" width="10.41" height="6.10" fill="#a41e2e"/>
<rect x="79.82" y="427.10" width="10.41" height="6.10" fill="#ecaf92"/>
<rect x="90.23" y="427.10" width="10.41" height="6.10" fill="#f7e3d6"/>
<rect x="100.64" y="427.10" width="10.41" height="6.10" fill="#ecaf92"/>
<rect x="111.05" y="427.10" width="10.41" height="6.10" fill="#f4ccb2"/>
<rect x="121.46" y="427.10" width="10.41" height="6.10" fill="#f1c2a7"/>
<rect x="131.87" y="427.10" width="10.41" height="6.10" fill="#f8ece4"/>
<rect x="142.28" y="427.10" width="10.41" height="6.10" fill="#f4ccb2"/>
<rect x="152.69" y="427.10" width="10.41" height="6.10" fill="#f6decf"/>
<rect x="163.10" y="427.10" width="10.41" height="6.10" fill="#a2c6e6"/>
<rect x="173.51" y="427.10" width="10.41" height="6.10" fill="#97bfe3"/>
<rect x="183.92" y="427.10" width="10.41" height="6.10" fill="#c4dcf0"/>
<rect x="194.33" y="427.10" width="10.41" height="6.10" fill="#a2c6e6"/>
<rect x="204.74" y="427.10" width="10.41" height="6.10" fill="#cfe2f2"/>
<rect x="215.15" y="427.10" width="10.41" height="6.10" fill="#8cb8e0"/>
<rect x="59.00" y="433.20" width="10.41" height="6.10" fill="#f6decf"/>
<rect x="69.41" y="433.20" width="10.41" height="6.10" fill="#f5d5c0"/>
<rect x="79.82" y="433.20" width="10.41" height="6.10" fill="#f4ccb2"/>
<rect x="90.23" y="433.20" width="10.41" height="6.10" fill="#f7e3d6"/>
<rect x="100.64" y="433.20" width="10.41" height="6.10" fill="#a41e2e"/>
<rect x="111.05" y="433.20" width="10.41" height="6.10" fill="#e9a687"/>
<rect x="121.46" y="433.20" width="10.41" height="6.10" fill="#dd886d"/>
<rect x="131.87" y="433.20" width="10.41" height="6.10" fill="#f5d1b9"/>
<rect x="142.28" y="433.20" width="10.41" height="6.10" fill="#f8e8dd"/>
<rect x="152.69" y="433.20" width="10.41" height="6.10" fill="#f6decf"/>
<rect x="163.10" y="433.20" width="10.41" height="6.10" fill="#97bfe3"/>
<rect x="173.51" y="433.20" width="10.41" height="6.10" fill="#dae8f4"/>
<rect x="183.92" y="433.20" width="10.41" height="6.10" fill="#b9d5ed"/>
<rect x="194.33" y="433.20" width="10.41" height="6.10" fill="#72a2d6"/>
<rect x="204.74" y="433.20" width="10.41" height="6.10" fill="#e4eef6"/>
<rect x="215.15" y="433.20" width="10.41" height="6.10" fill="#b9d5ed"/>
<path d="M59.00,195.30H225.56M59.00,201.40H225.56M59.00,207.50H225.56M59.00,213.60H225.56M59.00,219.70H225.56M59.00,225.80H225.56M59.00,231.90H225.56M59.00,238.00H225.56M59.00,244.10H225.56M59.00,250.20H225.56M59.00,256.30H225.56M59.00,262.40H225.56M59.00,268.50H225.56M59.00,274.60H225.56M59.00,280.70H225.56M59.00,286.80H225.56M59.00,292.90H225.56M59.00,299.00H225.56M59.00,305.10H225.56M59.00,311.20H225.56M59.00,317.30H225.56M59.00,323.40H225.56M59.00,329.50H225.56M59.00,335.60H225.56M59.00,341.70H225.56M59.00,347.80H225.56M59.00,353.90H225.56M59.00,360.00H225.56M59.00,366.10H225.56M59.00,372.20H225.56M59.00,378.30H225.56M59.00,384.40H225.56M59.00,390.50H225.56M59.00,396.60H225.56M59.00,402.70H225.56M59.00,408.80H225.56M59.00,414.90H225.56M59.00,421.00H225.56M59.00,427.10H225.56M59.00,433.20H225.56M59.00,439.30H225.56M59.00,195.30V439.30M69.41,195.30V439.30M79.82,195.30V439.30M90.23,195.30V439.30M100.64,195.30V439.30M111.05,195.30V439.30M121.46,195.30V439.30M131.87,195.30V439.30M142.28,195.30V439.30M152.69,195.30V439.30M163.10,195.30V439.30M173.51,195.30V439.30M183.92,195.30V439.30M194.33,195.30V439.30M204.74,195.30V439.30M215.15,195.30V439.30M225.56,195.30V439.30" stroke="#8e8e8e" stroke-width="0.7" fill="none"/>
<text x="228.80" y="200.25" font-size="5.4" fill="#333">COCH</text>
<text x="228.80" y="206.35" font-size="5.4" fill="#333">ANKRD58</text>
<text x="228.80" y="212.45" font-size="5.4" fill="#333">ZNF550</text>
<text x="228.80" y="218.55" font-size="5.4" fill="#333">KLF8</text>
<text x="228.80" y="224.65" font-size="5.4" fill="#333">DPYSL2</text>
<text x="228.80" y="230.75" font-size="5.4" fill="#333">CCR2</text>
<text x="228.80" y="236.85" font-size="5.4" fill="#333">EPHA4</text>
<text x="228.80" y="242.95" font-size="5.4" fill="#333">SDR16C5</text>
<text x="228.80" y="249.05" font-size="5.4" fill="#333">CREM</text>
<text x="228.80" y="255.15" font-size="5.4" fill="#333">FAM129A</text>
<text x="228.80" y="261.25" font-size="5.4" fill="#333">NRCAM</text>
<text x="228.80" y="267.35" font-size="5.4" fill="#333">TP73</text>
<text x="228.80" y="273.45" font-size="5.4" fill="#333">KCNN3</text>
<text x="228.80" y="279.55" font-size="5.4" fill="#333">TAS1R3</text>
<text x="228.80" y="285.65" font-size="5.4" fill="#333">ANXA1</text>
<text x="228.80" y="291.75" font-size="5.4" fill="#333">GZMK</text>
<text x="228.80" y="297.85" font-size="5.4" fill="#333">IL32</text>
<text x="228.80" y="303.95" font-size="5.4" fill="#333">GZMA</text>
<text x="228.80" y="310.05" font-size="5.4" fill="#333">EOMES</text>
<text x="228.80" y="316.15" font-size="5.4" fill="#333">XCL1</text>
<text x="228.80" y="322.25" font-size="5.4" fill="#333">SNORD15B</text>
<text x="228.80" y="328.35" font-size="5.4" fill="#333">BEX1</text>
<text x="228.80" y="334.45" font-size="5.4" fill="#333">ZNF331</text>
<text x="228.80" y="340.55" font-size="5.4" fill="#333">IDI1</text>
<text x="228.80" y="346.65" font-size="5.4" fill="#333">SLC2A3</text>
<text x="228.80" y="352.75" font-size="5.4" fill="#333">NR4A3</text>
<text x="228.80" y="358.85" font-size="5.4" fill="#333">ALG13</text>
<text x="228.80" y="364.95" font-size="5.4" fill="#333">YPEL5</text>
<text x="228.80" y="371.05" font-size="5.4" fill="#333">VPS37B</text>
<text x="228.80" y="377.15" font-size="5.4" fill="#333">WDR45L</text>
<text x="228.80" y="383.25" font-size="5.4" fill="#333">HES4</text>
<text x="228.80" y="389.35" font-size="5.4" fill="#333">ISG15</text>
<text x="228.80" y="395.45" font-size="5.4" fill="#333">EIF4A3</text>
<text x="228.80" y="401.55" font-size="5.4" fill="#333">FOSL2</text>
<text x="228.80" y="407.65" font-size="5.4" fill="#333">MIR22HG</text>
<text x="228.80" y="413.75" font-size="5.4" fill="#333">SPHK1</text>
<text x="228.80" y="419.85" font-size="5.4" fill="#333">NINJ1</text>
<text x="228.80" y="425.95" font-size="5.4" fill="#333">AK4</text>
<text x="228.80" y="432.05" font-size="5.4" fill="#333">PGAP1</text>
<text x="228.80" y="438.15" font-size="5.4" fill="#333">CCL22</text>
<text x="61.50" y="443.40" font-size="7.8" fill="#2a2a2a" textLength="20" lengthAdjust="spacingAndGlyphs" transform="rotate(90 61.50 443.40)">D1_DP</text>
<text x="71.91" y="443.40" font-size="7.8" fill="#2a2a2a" textLength="26" lengthAdjust="spacingAndGlyphs" transform="rotate(90 71.91 443.40)">D1_69SP</text>
<text x="82.33" y="443.40" font-size="7.8" fill="#2a2a2a" textLength="20" lengthAdjust="spacingAndGlyphs" transform="rotate(90 82.33 443.40)">D2_DP</text>
<text x="92.73" y="443.40" font-size="7.8" fill="#2a2a2a" textLength="26" lengthAdjust="spacingAndGlyphs" transform="rotate(90 92.73 443.40)">D2_69SP</text>
<text x="103.14" y="443.40" font-size="7.8" fill="#2a2a2a" textLength="20" lengthAdjust="spacingAndGlyphs" transform="rotate(90 103.14 443.40)">D4_DP</text>
<text x="113.55" y="443.40" font-size="7.8" fill="#2a2a2a" textLength="26" lengthAdjust="spacingAndGlyphs" transform="rotate(90 113.55 443.40)">D4_69SP</text>
<text x="123.97" y="443.40" font-size="7.8" fill="#2a2a2a" textLength="20" lengthAdjust="spacingAndGlyphs" transform="rotate(90 123.97 443.40)">D3_DP</text>
<text x="134.38" y="443.40" font-size="7.8" fill="#2a2a2a" textLength="26" lengthAdjust="spacingAndGlyphs" transform="rotate(90 134.38 443.40)">D3_69SP</text>
<text x="144.79" y="443.40" font-size="7.8" fill="#2a2a2a" textLength="26" lengthAdjust="spacingAndGlyphs" transform="rotate(90 144.79 443.40)">D1_45SP</text>
<text x="155.19" y="443.40" font-size="7.8" fill="#2a2a2a" textLength="20" lengthAdjust="spacingAndGlyphs" transform="rotate(90 155.19 443.40)">D1_DN</text>
<text x="165.61" y="443.40" font-size="7.8" fill="#2a2a2a" textLength="20" lengthAdjust="spacingAndGlyphs" transform="rotate(90 165.61 443.40)">D2_DN</text>
<text x="176.02" y="443.40" font-size="7.8" fill="#2a2a2a" textLength="20" lengthAdjust="spacingAndGlyphs" transform="rotate(90 176.02 443.40)">D3_DN</text>
<text x="186.43" y="443.40" font-size="7.8" fill="#2a2a2a" textLength="20" lengthAdjust="spacingAndGlyphs" transform="rotate(90 186.43 443.40)">D4_DN</text>
<text x="196.84" y="443.40" font-size="7.8" fill="#2a2a2a" textLength="26" lengthAdjust="spacingAndGlyphs" transform="rotate(90 196.84 443.40)">D2_45SP</text>
<text x="207.25" y="443.40" font-size="7.8" fill="#2a2a2a" textLength="26" lengthAdjust="spacingAndGlyphs" transform="rotate(90 207.25 443.40)">D3_45SP</text>
<text x="217.66" y="443.40" font-size="7.8" fill="#2a2a2a" textLength="26" lengthAdjust="spacingAndGlyphs" transform="rotate(90 217.66 443.40)">D4_45SP</text>
<path d="M64.20,195.30V179.70H74.61V195.30M85.03,195.30V181.20H95.44V195.30M105.84,195.30V184.30H116.25V195.30M126.67,195.30V183.50H137.07V195.30M111.05,184.30V180.50H131.87V183.50M90.23,181.20V174.50H121.46V180.50M69.41,179.70V173.40H105.84V174.50M147.49,195.30V177.10H157.89V195.30M178.72,195.30V184.30H189.12V195.30M209.94,195.30V187.30H220.35V195.30M199.53,195.30V183.80H215.15V187.30M183.92,184.30V178.60H207.34V183.80M168.31,195.30V173.40H195.63V178.60M152.69,177.10V169.60H181.97V173.40M87.63,173.40V155.30H167.33V169.60" stroke="#333" stroke-width="0.9" fill="none"/>
<path d="M59.00,198.35H48.60V204.45H59.00M59.00,216.65H50.50V222.75H59.00M59.00,210.55H48.60V219.70H50.50M59.00,234.95H49.50V241.05H59.00M59.00,228.85H45.60V238.00H49.50M48.60,215.12H40.20V233.43H45.60M48.60,201.40H38.20V224.28H40.20M59.00,253.25H48.70V259.35H59.00M59.00,271.55H50.50V277.65H59.00M59.00,265.45H44.20V274.60H50.50M48.70,256.30H43.30V270.02H44.20M59.00,247.15H31.70V263.16H43.30M38.20,212.84H30.90V255.16H31.70M59.00,289.85H49.00V295.95H59.00M59.00,283.75H45.40V292.90H49.00M59.00,308.15H48.50V314.25H59.00M59.00,302.05H43.80V311.20H48.50M45.40,288.32H40.80V306.62H43.80M59.00,320.35H45.90V326.45H59.00M59.00,332.55H49.50V338.65H59.00M59.00,344.75H48.50V350.85H59.00M49.50,335.60H47.40V347.80H48.50M59.00,363.05H51.50V369.15H59.00M59.00,356.95H48.50V366.10H51.50M59.00,381.35H50.50V387.45H59.00M59.00,375.25H46.90V384.40H50.50M48.50,361.52H44.90V379.82H46.90M47.40,341.70H41.80V370.67H44.90M45.90,323.40H39.70V356.19H41.80M40.80,297.48H36.20V339.79H39.70M59.00,393.55H46.50V399.65H59.00M59.00,411.85H48.60V417.95H59.00M59.00,405.75H45.60V414.90H48.60M59.00,430.15H46.70V436.25H59.00M59.00,424.05H41.50V433.20H46.70M45.60,410.32H37.60V428.62H41.50M46.50,396.60H35.10V419.48H37.60M36.20,318.63H29.30V408.04H35.10M30.90,234.00H19.30V363.34H29.30" stroke="#333" stroke-width="0.9" fill="none"/>
<defs><linearGradient id="g270" x1="0" y1="0" x2="0" y2="1"><stop offset="0.000" stop-color="#801126"/><stop offset="0.042" stop-color="#981a2b"/><stop offset="0.083" stop-color="#b02330"/><stop offset="0.125" stop-color="#bd4140"/><stop offset="0.167" stop-color="#ca6050"/><stop offset="0.208" stop-color="#d57860"/><stop offset="0.250" stop-color="#df8c70"/><stop offset="0.292" stop-color="#e7a181"/><stop offset="0.333" stop-color="#edb598"/><stop offset="0.375" stop-color="#f3c9ae"/><stop offset="0.417" stop-color="#f6dccb"/><stop offset="0.458" stop-color="#f9efe9"/><stop offset="0.500" stop-color="#f0f4f8"/><stop offset="0.542" stop-color="#d9e8f4"/><stop offset="0.583" stop-color="#c3dbf0"/><stop offset="0.625" stop-color="#abcce9"/><stop offset="0.667" stop-color="#94bde2"/><stop offset="0.708" stop-color="#7aa9d9"/><stop offset="0.750" stop-color="#5e91cf"/><stop offset="0.792" stop-color="#477cc4"/><stop offset="0.833" stop-color="#3b6bb6"/><stop offset="0.875" stop-color="#2f5aa8"/><stop offset="0.917" stop-color="#284c93"/><stop offset="0.958" stop-color="#213e7e"/><stop offset="1.000" stop-color="#1a3068"/></linearGradient></defs>
<rect x="270.10" y="195.80" width="7.50" height="114.10" fill="url(#g270)"/>
<text x="281.20" y="210.40" font-size="6.6" fill="#333">2</text>
<text x="281.20" y="232.00" font-size="6.6" fill="#333">1</text>
<text x="281.20" y="252.90" font-size="6.6" fill="#333">0</text>
<text x="281.20" y="274.00" font-size="6.6" fill="#333">–1</text>
<text x="281.20" y="294.70" font-size="6.6" fill="#333">–2</text>
<text x="255.20" y="190.60" font-size="6.6" fill="#333" textLength="37.4" lengthAdjust="spacingAndGlyphs">Row Z-Score</text>
<rect x="348.90" y="183.50" width="14.46" height="5.18" fill="#b02230"/>
<rect x="363.36" y="183.50" width="14.46" height="5.18" fill="#d87f65"/>
<rect x="377.82" y="183.50" width="14.46" height="5.18" fill="#d87f65"/>
<rect x="392.28" y="183.50" width="14.46" height="5.18" fill="#d87f65"/>
<rect x="406.74" y="183.50" width="14.46" height="5.18" fill="#dae8f4"/>
<rect x="421.20" y="183.50" width="14.46" height="5.18" fill="#72a2d6"/>
<rect x="435.66" y="183.50" width="14.46" height="5.18" fill="#97bfe3"/>
<rect x="450.12" y="183.50" width="14.46" height="5.18" fill="#97bfe3"/>
<rect x="348.90" y="188.68" width="14.46" height="5.18" fill="#b02230"/>
<rect x="363.36" y="188.68" width="14.46" height="5.18" fill="#e69c7c"/>
<rect x="377.82" y="188.68" width="14.46" height="5.18" fill="#dd886d"/>
<rect x="392.28" y="188.68" width="14.46" height="5.18" fill="#d87f65"/>
<rect x="406.74" y="188.68" width="14.46" height="5.18" fill="#dfebf5"/>
<rect x="421.20" y="188.68" width="14.46" height="5.18" fill="#c4dcf0"/>
<rect x="435.66" y="188.68" width="14.46" height="5.18" fill="#6496d2"/>
<rect x="450.12" y="188.68" width="14.46" height="5.18" fill="#8cb8e0"/>
<rect x="348.90" y="193.86" width="14.46" height="5.18" fill="#f6decf"/>
<rect x="363.36" y="193.86" width="14.46" height="5.18" fill="#d87f65"/>
<rect x="377.82" y="193.86" width="14.46" height="5.18" fill="#d4755e"/>
<rect x="392.28" y="193.86" width="14.46" height="5.18" fill="#d87f65"/>
<rect x="406.74" y="193.86" width="14.46" height="5.18" fill="#1d3772"/>
<rect x="421.20" y="193.86" width="14.46" height="5.18" fill="#b9d5ed"/>
<rect x="435.66" y="193.86" width="14.46" height="5.18" fill="#eff4f8"/>
<rect x="450.12" y="193.86" width="14.46" height="5.18" fill="#fafafa"/>
<rect x="348.90" y="199.04" width="14.46" height="5.18" fill="#f4ccb2"/>
<rect x="363.36" y="199.04" width="14.46" height="5.18" fill="#b02230"/>
<rect x="377.82" y="199.04" width="14.46" height="5.18" fill="#d87f65"/>
<rect x="392.28" y="199.04" width="14.46" height="5.18" fill="#e19274"/>
<rect x="406.74" y="199.04" width="14.46" height="5.18" fill="#2e58a6"/>
<rect x="421.20" y="199.04" width="14.46" height="5.18" fill="#e4eef6"/>
<rect x="435.66" y="199.04" width="14.46" height="5.18" fill="#cfe2f2"/>
<rect x="450.12" y="199.04" width="14.46" height="5.18" fill="#a2c6e6"/>
<rect x="348.90" y="204.22" width="14.46" height="5.18" fill="#f4ccb2"/>
<rect x="363.36" y="204.22" width="14.46" height="5.18" fill="#b02230"/>
<rect x="377.82" y="204.22" width="14.46" height="5.18" fill="#e69c7c"/>
<rect x="392.28" y="204.22" width="14.46" height="5.18" fill="#dd886d"/>
<rect x="406.74" y="204.22" width="14.46" height="5.18" fill="#213d7d"/>
<rect x="421.20" y="204.22" width="14.46" height="5.18" fill="#e4eef6"/>
<rect x="435.66" y="204.22" width="14.46" height="5.18" fill="#d4e5f3"/>
<rect x="450.12" y="204.22" width="14.46" height="5.18" fill="#cfe2f2"/>
<rect x="348.90" y="209.40" width="14.46" height="5.18" fill="#991a2b"/>
<rect x="363.36" y="209.40" width="14.46" height="5.18" fill="#dd886d"/>
<rect x="377.82" y="209.40" width="14.46" height="5.18" fill="#d87f65"/>
<rect x="392.28" y="209.40" width="14.46" height="5.18" fill="#f4ccb2"/>
<rect x="406.74" y="209.40" width="14.46" height="5.18" fill="#578bcd"/>
<rect x="421.20" y="209.40" width="14.46" height="5.18" fill="#6496d2"/>
<rect x="435.66" y="209.40" width="14.46" height="5.18" fill="#e4eef6"/>
<rect x="450.12" y="209.40" width="14.46" height="5.18" fill="#dfebf5"/>
<rect x="348.90" y="214.58" width="14.46" height="5.18" fill="#d87f65"/>
<rect x="363.36" y="214.58" width="14.46" height="5.18" fill="#cf6b56"/>
<rect x="377.82" y="214.58" width="14.46" height="5.18" fill="#d4755e"/>
<rect x="392.28" y="214.58" width="14.46" height="5.18" fill="#d87f65"/>
<rect x="406.74" y="214.58" width="14.46" height="5.18" fill="#6496d2"/>
<rect x="421.20" y="214.58" width="14.46" height="5.18" fill="#b9d5ed"/>
<rect x="435.66" y="214.58" width="14.46" height="5.18" fill="#c4dcf0"/>
<rect x="450.12" y="214.58" width="14.46" height="5.18" fill="#a2c6e6"/>
<rect x="348.90" y="219.76" width="14.46" height="5.18" fill="#d87f65"/>
<rect x="363.36" y="219.76" width="14.46" height="5.18" fill="#c95c4e"/>
<rect x="377.82" y="219.76" width="14.46" height="5.18" fill="#d4755e"/>
<rect x="392.28" y="219.76" width="14.46" height="5.18" fill="#dd886d"/>
<rect x="406.74" y="219.76" width="14.46" height="5.18" fill="#578bcd"/>
<rect x="421.20" y="219.76" width="14.46" height="5.18" fill="#b9d5ed"/>
<rect x="435.66" y="219.76" width="14.46" height="5.18" fill="#fafafa"/>
<rect x="450.12" y="219.76" width="14.46" height="5.18" fill="#6496d2"/>
<rect x="348.90" y="224.94" width="14.46" height="5.18" fill="#4478c1"/>
<rect x="363.36" y="224.94" width="14.46" height="5.18" fill="#e4eef6"/>
<rect x="377.82" y="224.94" width="14.46" height="5.18" fill="#d4e5f3"/>
<rect x="392.28" y="224.94" width="14.46" height="5.18" fill="#b9d5ed"/>
<rect x="406.74" y="224.94" width="14.46" height="5.18" fill="#fafafa"/>
<rect x="421.20" y="224.94" width="14.46" height="5.18" fill="#bc3f3f"/>
<rect x="435.66" y="224.94" width="14.46" height="5.18" fill="#a41e2e"/>
<rect x="450.12" y="224.94" width="14.46" height="5.18" fill="#dd886d"/>
<rect x="348.90" y="230.12" width="14.46" height="5.18" fill="#b9d5ed"/>
<rect x="363.36" y="230.12" width="14.46" height="5.18" fill="#2b519c"/>
<rect x="377.82" y="230.12" width="14.46" height="5.18" fill="#f7e3d6"/>
<rect x="392.28" y="230.12" width="14.46" height="5.18" fill="#c4dcf0"/>
<rect x="406.74" y="230.12" width="14.46" height="5.18" fill="#b02230"/>
<rect x="421.20" y="230.12" width="14.46" height="5.18" fill="#fafafa"/>
<rect x="435.66" y="230.12" width="14.46" height="5.18" fill="#f1c2a7"/>
<rect x="450.12" y="230.12" width="14.46" height="5.18" fill="#bc3f3f"/>
<rect x="348.90" y="235.30" width="14.46" height="5.18" fill="#aeceea"/>
<rect x="363.36" y="235.30" width="14.46" height="5.18" fill="#6496d2"/>
<rect x="377.82" y="235.30" width="14.46" height="5.18" fill="#c4dcf0"/>
<rect x="392.28" y="235.30" width="14.46" height="5.18" fill="#aeceea"/>
<rect x="406.74" y="235.30" width="14.46" height="5.18" fill="#b02230"/>
<rect x="421.20" y="235.30" width="14.46" height="5.18" fill="#dd886d"/>
<rect x="435.66" y="235.30" width="14.46" height="5.18" fill="#f8e8dd"/>
<rect x="450.12" y="235.30" width="14.46" height="5.18" fill="#b63138"/>
<rect x="348.90" y="240.48" width="14.46" height="5.18" fill="#a2c6e6"/>
<rect x="363.36" y="240.48" width="14.46" height="5.18" fill="#578bcd"/>
<rect x="377.82" y="240.48" width="14.46" height="5.18" fill="#dae8f4"/>
<rect x="392.28" y="240.48" width="14.46" height="5.18" fill="#b9d5ed"/>
<rect x="406.74" y="240.48" width="14.46" height="5.18" fill="#6b0a22"/>
<rect x="421.20" y="240.48" width="14.46" height="5.18" fill="#dd886d"/>
<rect x="435.66" y="240.48" width="14.46" height="5.18" fill="#f1c2a7"/>
<rect x="450.12" y="240.48" width="14.46" height="5.18" fill="#ecaf92"/>
<rect x="348.90" y="245.66" width="14.46" height="5.18" fill="#97bfe3"/>
<rect x="363.36" y="245.66" width="14.46" height="5.18" fill="#6496d2"/>
<rect x="377.82" y="245.66" width="14.46" height="5.18" fill="#fafafa"/>
<rect x="392.28" y="245.66" width="14.46" height="5.18" fill="#b9d5ed"/>
<rect x="406.74" y="245.66" width="14.46" height="5.18" fill="#b02230"/>
<rect x="421.20" y="245.66" width="14.46" height="5.18" fill="#e19274"/>
<rect x="435.66" y="245.66" width="14.46" height="5.18" fill="#f1c2a7"/>
<rect x="450.12" y="245.66" width="14.46" height="5.18" fill="#d87f65"/>
<rect x="348.90" y="250.84" width="14.46" height="5.18" fill="#f5d5c0"/>
<rect x="363.36" y="250.84" width="14.46" height="5.18" fill="#97bfe3"/>
<rect x="377.82" y="250.84" width="14.46" height="5.18" fill="#6496d2"/>
<rect x="392.28" y="250.84" width="14.46" height="5.18" fill="#b9d5ed"/>
<rect x="406.74" y="250.84" width="14.46" height="5.18" fill="#d4755e"/>
<rect x="421.20" y="250.84" width="14.46" height="5.18" fill="#e4eef6"/>
<rect x="435.66" y="250.84" width="14.46" height="5.18" fill="#b63138"/>
<rect x="450.12" y="250.84" width="14.46" height="5.18" fill="#d4755e"/>
<rect x="348.90" y="256.02" width="14.46" height="5.18" fill="#f6decf"/>
<rect x="363.36" y="256.02" width="14.46" height="5.18" fill="#578bcd"/>
<rect x="377.82" y="256.02" width="14.46" height="5.18" fill="#8cb8e0"/>
<rect x="392.28" y="256.02" width="14.46" height="5.18" fill="#dae8f4"/>
<rect x="406.74" y="256.02" width="14.46" height="5.18" fill="#6b0a22"/>
<rect x="421.20" y="256.02" width="14.46" height="5.18" fill="#eaf1f7"/>
<rect x="435.66" y="256.02" width="14.46" height="5.18" fill="#d87f65"/>
<rect x="450.12" y="256.02" width="14.46" height="5.18" fill="#ecaf92"/>
<rect x="348.90" y="261.20" width="14.46" height="5.18" fill="#a2c6e6"/>
<rect x="363.36" y="261.20" width="14.46" height="5.18" fill="#578bcd"/>
<rect x="377.82" y="261.20" width="14.46" height="5.18" fill="#8cb8e0"/>
<rect x="392.28" y="261.20" width="14.46" height="5.18" fill="#fafafa"/>
<rect x="406.74" y="261.20" width="14.46" height="5.18" fill="#d87f65"/>
<rect x="421.20" y="261.20" width="14.46" height="5.18" fill="#c34e47"/>
<rect x="435.66" y="261.20" width="14.46" height="5.18" fill="#d87f65"/>
<rect x="450.12" y="261.20" width="14.46" height="5.18" fill="#e9a687"/>
<rect x="348.90" y="266.38" width="14.46" height="5.18" fill="#e4eef6"/>
<rect x="363.36" y="266.38" width="14.46" height="5.18" fill="#578bcd"/>
<rect x="377.82" y="266.38" width="14.46" height="5.18" fill="#b9d5ed"/>
<rect x="392.28" y="266.38" width="14.46" height="5.18" fill="#578bcd"/>
<rect x="406.74" y="266.38" width="14.46" height="5.18" fill="#b02230"/>
<rect x="421.20" y="266.38" width="14.46" height="5.18" fill="#e69c7c"/>
<rect x="435.66" y="266.38" width="14.46" height="5.18" fill="#dd886d"/>
<rect x="450.12" y="266.38" width="14.46" height="5.18" fill="#e69c7c"/>
<rect x="348.90" y="271.56" width="14.46" height="5.18" fill="#b9d5ed"/>
<rect x="363.36" y="271.56" width="14.46" height="5.18" fill="#aeceea"/>
<rect x="377.82" y="271.56" width="14.46" height="5.18" fill="#6496d2"/>
<rect x="392.28" y="271.56" width="14.46" height="5.18" fill="#97bfe3"/>
<rect x="406.74" y="271.56" width="14.46" height="5.18" fill="#b02230"/>
<rect x="421.20" y="271.56" width="14.46" height="5.18" fill="#dd886d"/>
<rect x="435.66" y="271.56" width="14.46" height="5.18" fill="#d4755e"/>
<rect x="450.12" y="271.56" width="14.46" height="5.18" fill="#eeb99c"/>
<rect x="348.90" y="276.74" width="14.46" height="5.18" fill="#c4dcf0"/>
<rect x="363.36" y="276.74" width="14.46" height="5.18" fill="#578bcd"/>
<rect x="377.82" y="276.74" width="14.46" height="5.18" fill="#72a2d6"/>
<rect x="392.28" y="276.74" width="14.46" height="5.18" fill="#aeceea"/>
<rect x="406.74" y="276.74" width="14.46" height="5.18" fill="#b63138"/>
<rect x="421.20" y="276.74" width="14.46" height="5.18" fill="#f1c2a7"/>
<rect x="435.66" y="276.74" width="14.46" height="5.18" fill="#b02230"/>
<rect x="450.12" y="276.74" width="14.46" height="5.18" fill="#eeb99c"/>
<rect x="348.90" y="281.92" width="14.46" height="5.18" fill="#b9d5ed"/>
<rect x="363.36" y="281.92" width="14.46" height="5.18" fill="#4a80c8"/>
<rect x="377.82" y="281.92" width="14.46" height="5.18" fill="#b9d5ed"/>
<rect x="392.28" y="281.92" width="14.46" height="5.18" fill="#b9d5ed"/>
<rect x="406.74" y="281.92" width="14.46" height="5.18" fill="#b02230"/>
<rect x="421.20" y="281.92" width="14.46" height="5.18" fill="#f1c2a7"/>
<rect x="435.66" y="281.92" width="14.46" height="5.18" fill="#dd886d"/>
<rect x="450.12" y="281.92" width="14.46" height="5.18" fill="#d87f65"/>
<rect x="348.90" y="287.10" width="14.46" height="5.18" fill="#d4e5f3"/>
<rect x="363.36" y="287.10" width="14.46" height="5.18" fill="#4a80c8"/>
<rect x="377.82" y="287.10" width="14.46" height="5.18" fill="#cfe2f2"/>
<rect x="392.28" y="287.10" width="14.46" height="5.18" fill="#b9d5ed"/>
<rect x="406.74" y="287.10" width="14.46" height="5.18" fill="#b02230"/>
<rect x="421.20" y="287.10" width="14.46" height="5.18" fill="#f8e8dd"/>
<rect x="435.66" y="287.10" width="14.46" height="5.18" fill="#dd886d"/>
<rect x="450.12" y="287.10" width="14.46" height="5.18" fill="#c95c4e"/>
<rect x="348.90" y="292.28" width="14.46" height="5.18" fill="#b9d5ed"/>
<rect x="363.36" y="292.28" width="14.46" height="5.18" fill="#4a80c8"/>
<rect x="377.82" y="292.28" width="14.46" height="5.18" fill="#c4dcf0"/>
<rect x="392.28" y="292.28" width="14.46" height="5.18" fill="#c4dcf0"/>
<rect x="406.74" y="292.28" width="14.46" height="5.18" fill="#d4755e"/>
<rect x="421.20" y="292.28" width="14.46" height="5.18" fill="#f6decf"/>
<rect x="435.66" y="292.28" width="14.46" height="5.18" fill="#dd886d"/>
<rect x="450.12" y="292.28" width="14.46" height="5.18" fill="#b02230"/>
<rect x="348.90" y="297.46" width="14.46" height="5.18" fill="#b9d5ed"/>
<rect x="363.36" y="297.46" width="14.46" height="5.18" fill="#578bcd"/>
<rect x="377.82" y="297.46" width="14.46" height="5.18" fill="#b9d5ed"/>
<rect x="392.28" y="297.46" width="14.46" height="5.18" fill="#a2c6e6"/>
<rect x="406.74" y="297.46" width="14.46" height="5.18" fill="#d4755e"/>
<rect x="421.20" y="297.46" width="14.46" height="5.18" fill="#e9a687"/>
<rect x="435.66" y="297.46" width="14.46" height="5.18" fill="#e69c7c"/>
<rect x="450.12" y="297.46" width="14.46" height="5.18" fill="#b63138"/>
<rect x="348.90" y="302.64" width="14.46" height="5.18" fill="#8cb8e0"/>
<rect x="363.36" y="302.64" width="14.46" height="5.18" fill="#8cb8e0"/>
<rect x="377.82" y="302.64" width="14.46" height="5.18" fill="#8cb8e0"/>
<rect x="392.28" y="302.64" width="14.46" height="5.18" fill="#eff4f8"/>
<rect x="406.74" y="302.64" width="14.46" height="5.18" fill="#b02230"/>
<rect x="421.20" y="302.64" width="14.46" height="5.18" fill="#e69c7c"/>
<rect x="435.66" y="302.64" width="14.46" height="5.18" fill="#e69c7c"/>
<rect x="450.12" y="302.64" width="14.46" height="5.18" fill="#d87f65"/>
<rect x="348.90" y="307.82" width="14.46" height="5.18" fill="#72a2d6"/>
<rect x="363.36" y="307.82" width="14.46" height="5.18" fill="#72a2d6"/>
<rect x="377.82" y="307.82" width="14.46" height="5.18" fill="#b9d5ed"/>
<rect x="392.28" y="307.82" width="14.46" height="5.18" fill="#eaf1f7"/>
<rect x="406.74" y="307.82" width="14.46" height="5.18" fill="#a41e2e"/>
<rect x="421.20" y="307.82" width="14.46" height="5.18" fill="#f8ece4"/>
<rect x="435.66" y="307.82" width="14.46" height="5.18" fill="#d4755e"/>
<rect x="450.12" y="307.82" width="14.46" height="5.18" fill="#e69c7c"/>
<rect x="348.90" y="313.00" width="14.46" height="5.18" fill="#aeceea"/>
<rect x="363.36" y="313.00" width="14.46" height="5.18" fill="#8cb8e0"/>
<rect x="377.82" y="313.00" width="14.46" height="5.18" fill="#8cb8e0"/>
<rect x="392.28" y="313.00" width="14.46" height="5.18" fill="#c4dcf0"/>
<rect x="406.74" y="313.00" width="14.46" height="5.18" fill="#a41e2e"/>
<rect x="421.20" y="313.00" width="14.46" height="5.18" fill="#f6decf"/>
<rect x="435.66" y="313.00" width="14.46" height="5.18" fill="#d87f65"/>
<rect x="450.12" y="313.00" width="14.46" height="5.18" fill="#d4755e"/>
<path d="M348.90,183.50H464.58M348.90,188.68H464.58M348.90,193.86H464.58M348.90,199.04H464.58M348.90,204.22H464.58M348.90,209.40H464.58M348.90,214.58H464.58M348.90,219.76H464.58M348.90,224.94H464.58M348.90,230.12H464.58M348.90,235.30H464.58M348.90,240.48H464.58M348.90,245.66H464.58M348.90,250.84H464.58M348.90,256.02H464.58M348.90,261.20H464.58M348.90,266.38H464.58M348.90,271.56H464.58M348.90,276.74H464.58M348.90,281.92H464.58M348.90,287.10H464.58M348.90,292.28H464.58M348.90,297.46H464.58M348.90,302.64H464.58M348.90,307.82H464.58M348.90,313.00H464.58M348.90,318.18H464.58M348.90,183.50V318.18M363.36,183.50V318.18M377.82,183.50V318.18M392.28,183.50V318.18M406.74,183.50V318.18M421.20,183.50V318.18M435.66,183.50V318.18M450.12,183.50V318.18M464.58,183.50V318.18" stroke="#8e8e8e" stroke-width="0.7" fill="none"/>
<text x="467.70" y="187.89" font-size="5.2" fill="#333">EOMES</text>
<text x="467.70" y="193.07" font-size="5.2" fill="#333">SOX7</text>
<text x="467.70" y="198.25" font-size="5.2" fill="#333">GATA3</text>
<text x="467.70" y="203.43" font-size="5.2" fill="#333">HES4</text>
<text x="467.70" y="208.61" font-size="5.2" fill="#333">FOSL2</text>
<text x="467.70" y="213.79" font-size="5.2" fill="#333">NR4A3</text>
<text x="467.70" y="218.97" font-size="5.2" fill="#333">ZNF331</text>
<text x="467.70" y="224.15" font-size="5.2" fill="#333">RXRA</text>
<text x="467.70" y="229.33" font-size="5.2" fill="#333">TBX21</text>
<text x="467.70" y="234.51" font-size="5.2" fill="#333">BCL6</text>
<text x="467.70" y="239.69" font-size="5.2" fill="#333">E2F2</text>
<text x="467.70" y="244.87" font-size="5.2" fill="#333">TSHZ2</text>
<text x="467.70" y="250.05" font-size="5.2" fill="#333">ZNF608</text>
<text x="467.70" y="255.23" font-size="5.2" fill="#333">OSR2</text>
<text x="467.70" y="260.41" font-size="5.2" fill="#333">THRB</text>
<text x="467.70" y="265.59" font-size="5.2" fill="#333">SOX5</text>
<text x="467.70" y="270.77" font-size="5.2" fill="#333">CREB5</text>
<text x="467.70" y="275.95" font-size="5.2" fill="#333">SNAI3</text>
<text x="467.70" y="281.13" font-size="5.2" fill="#333">RARG</text>
<text x="467.70" y="286.31" font-size="5.2" fill="#333">KLF8</text>
<text x="467.70" y="291.49" font-size="5.2" fill="#333">VDR</text>
<text x="467.70" y="296.67" font-size="5.2" fill="#333">EGR2</text>
<text x="467.70" y="301.85" font-size="5.2" fill="#333">FOXM1</text>
<text x="467.70" y="307.03" font-size="5.2" fill="#333">TP73</text>
<text x="467.70" y="312.21" font-size="5.2" fill="#333">PRDM1</text>
<text x="467.70" y="317.39" font-size="5.2" fill="#333">ISL2</text>
<text x="353.43" y="321.20" font-size="7.8" fill="#2a2a2a" textLength="21.6" lengthAdjust="spacingAndGlyphs" transform="rotate(90 353.43 321.20)">D2_DP</text>
<text x="367.89" y="321.20" font-size="7.8" fill="#2a2a2a" textLength="21.6" lengthAdjust="spacingAndGlyphs" transform="rotate(90 367.89 321.20)">D1_DP</text>
<text x="382.35" y="321.20" font-size="7.8" fill="#2a2a2a" textLength="21.6" lengthAdjust="spacingAndGlyphs" transform="rotate(90 382.35 321.20)">D3_DP</text>
<text x="396.81" y="321.20" font-size="7.8" fill="#2a2a2a" textLength="21.6" lengthAdjust="spacingAndGlyphs" transform="rotate(90 396.81 321.20)">D4_DP</text>
<text x="411.27" y="321.20" font-size="7.8" fill="#2a2a2a" textLength="21.6" lengthAdjust="spacingAndGlyphs" transform="rotate(90 411.27 321.20)">D1_DN</text>
<text x="425.73" y="321.20" font-size="7.8" fill="#2a2a2a" textLength="21.6" lengthAdjust="spacingAndGlyphs" transform="rotate(90 425.73 321.20)">D2_DN</text>
<text x="440.19" y="321.20" font-size="7.8" fill="#2a2a2a" textLength="21.6" lengthAdjust="spacingAndGlyphs" transform="rotate(90 440.19 321.20)">D3_DN</text>
<text x="454.65" y="321.20" font-size="7.8" fill="#2a2a2a" textLength="21.6" lengthAdjust="spacingAndGlyphs" transform="rotate(90 454.65 321.20)">D4_DN</text>
<path d="M385.05,183.50V178.20H399.51V183.50M370.59,183.50V176.50H392.28V178.20M356.13,183.50V174.60H381.43V176.50M442.89,183.50V177.70H457.35V183.50M428.43,183.50V175.70H450.12V177.70M413.97,183.50V172.30H439.27V175.70M368.78,174.60V155.40H426.62V172.30" stroke="#333" stroke-width="0.9" fill="none"/>
<path d="M348.90,186.09H345.40V191.27H348.90M348.90,201.63H346.00V206.81H348.90M348.90,196.45H342.40V204.22H346.00M348.90,217.17H346.00V222.35H348.90M348.90,211.99H342.40V219.76H346.00M342.40,200.33H340.30V215.88H342.40M345.40,188.68H335.40V208.10H340.30M348.90,243.07H344.40V248.25H348.90M348.90,237.89H342.90V245.66H344.40M348.90,232.71H340.30V241.77H342.90M348.90,253.43H343.10V258.61H348.90M348.90,274.15H343.80V279.33H348.90M348.90,268.97H343.00V276.74H343.80M348.90,284.51H347.40V289.69H348.90M348.90,294.87H347.80V300.05H348.90M347.40,287.10H345.40V297.46H347.80M348.90,310.41H345.80V315.59H348.90M348.90,305.23H344.60V313.00H345.80M345.40,292.28H341.40V309.12H344.60M343.00,272.86H339.90V300.70H341.40M348.90,263.79H339.40V286.78H339.90M343.10,256.02H337.50V275.28H339.40M340.30,237.24H335.70V265.65H337.50M348.90,227.53H332.10V251.45H335.70M335.40,198.39H320.40V239.49H332.10" stroke="#333" stroke-width="0.9" fill="none"/>
<defs><linearGradient id="g491" x1="0" y1="0" x2="0" y2="1"><stop offset="0.000" stop-color="#740d24"/><stop offset="0.042" stop-color="#8c1629"/><stop offset="0.083" stop-color="#a51e2e"/><stop offset="0.125" stop-color="#b73339"/><stop offset="0.167" stop-color="#c45249"/><stop offset="0.208" stop-color="#d16f59"/><stop offset="0.250" stop-color="#db8469"/><stop offset="0.292" stop-color="#e5997a"/><stop offset="0.333" stop-color="#ebae90"/><stop offset="0.375" stop-color="#f1c2a7"/><stop offset="0.417" stop-color="#f5d6c2"/><stop offset="0.458" stop-color="#f8eae1"/><stop offset="0.500" stop-color="#f6f8f9"/><stop offset="0.542" stop-color="#dfebf5"/><stop offset="0.583" stop-color="#c8def1"/><stop offset="0.625" stop-color="#b0cfea"/><stop offset="0.667" stop-color="#98c0e3"/><stop offset="0.708" stop-color="#7eacdb"/><stop offset="0.750" stop-color="#6294d1"/><stop offset="0.792" stop-color="#487dc6"/><stop offset="0.833" stop-color="#3c6cb7"/><stop offset="0.875" stop-color="#305ba9"/><stop offset="0.917" stop-color="#284c94"/><stop offset="0.958" stop-color="#213e7e"/><stop offset="1.000" stop-color="#1a3068"/></linearGradient></defs>
<rect x="491.40" y="183.40" width="5.60" height="79.90" fill="url(#g491)"/>
<text x="499.60" y="190.40" font-size="6.4" fill="#333">1.5</text>
<text x="499.60" y="201.80" font-size="6.4" fill="#333">1</text>
<text x="499.60" y="212.70" font-size="6.4" fill="#333">0.5</text>
<text x="499.60" y="223.50" font-size="6.4" fill="#333">0</text>
<text x="499.60" y="234.30" font-size="6.4" fill="#333">–0.5</text>
<text x="499.60" y="244.90" font-size="6.4" fill="#333">–1</text>
<text x="499.60" y="256.00" font-size="6.4" fill="#333">–1.5</text>
<text x="475.20" y="178.90" font-size="6.4" fill="#333" textLength="37.3" lengthAdjust="spacingAndGlyphs">Row Z-Score</text>
<defs><clipPath id="clipE"><rect x="345.5" y="359.0" width="151.0" height="135.5"/></clipPath></defs>
<g clip-path="url(#clipE)">
<circle cx="402.4" cy="426.7" r="0.55" fill="#c8c8c8"/><circle cx="431.6" cy="406.2" r="0.55" fill="#c8c8c8"/><circle cx="402.5" cy="451.5" r="0.55" fill="#c8c8c8"/><circle cx="435.5" cy="414.2" r="0.55" fill="#c8c8c8"/><circle cx="449.7" cy="401.9" r="0.55" fill="#c8c8c8"/><circle cx="421.6" cy="429.9" r="0.55" fill="#c8c8c8"/><circle cx="467.5" cy="414.8" r="0.55" fill="#c8c8c8"/><circle cx="409.9" cy="446.7" r="0.55" fill="#c8c8c8"/><circle cx="433.8" cy="418.3" r="0.55" fill="#c8c8c8"/><circle cx="410.6" cy="443.1" r="0.55" fill="#c8c8c8"/><circle cx="413.5" cy="442.6" r="0.55" fill="#c8c8c8"/><circle cx="412.9" cy="377.9" r="0.55" fill="#c8c8c8"/><circle cx="456.2" cy="415.1" r="0.55" fill="#c8c8c8"/><circle cx="419.5" cy="439.1" r="0.55" fill="#c8c8c8"/><circle cx="425.2" cy="412.5" r="0.55" fill="#c8c8c8"/><circle cx="449.8" cy="405.6" r="0.55" fill="#c8c8c8"/><circle cx="396.5" cy="417.4" r="0.55" fill="#c8c8c8"/><circle cx="390.7" cy="411.7" r="0.55" fill="#c8c8c8"/><circle cx="439.7" cy="428.8" r="0.55" fill="#c8c8c8"/><circle cx="402.9" cy="450.9" r="0.55" fill="#c8c8c8"/><circle cx="422.5" cy="419.3" r="0.55" fill="#c8c8c8"/><circle cx="401.5" cy="399.3" r="0.55" fill="#c8c8c8"/><circle cx="423.8" cy="432.6" r="0.55" fill="#c8c8c8"/><circle cx="423.6" cy="418.4" r="0.55" fill="#c8c8c8"/><circle cx="451.9" cy="406.0" r="0.55" fill="#c8c8c8"/><circle cx="433.0" cy="405.0" r="0.55" fill="#c8c8c8"/><circle cx="412.8" cy="425.7" r="0.55" fill="#c8c8c8"/><circle cx="440.1" cy="404.0" r="0.55" fill="#c8c8c8"/><circle cx="436.7" cy="410.4" r="0.55" fill="#c8c8c8"/><circle cx="426.5" cy="412.8" r="0.55" fill="#c8c8c8"/><circle cx="432.2" cy="429.1" r="0.55" fill="#c8c8c8"/><circle cx="396.9" cy="416.1" r="0.55" fill="#c8c8c8"/><circle cx="418.4" cy="432.2" r="0.55" fill="#c8c8c8"/><circle cx="425.6" cy="437.7" r="0.55" fill="#c8c8c8"/><circle cx="412.3" cy="434.5" r="0.55" fill="#c8c8c8"/><circle cx="410.1" cy="438.2" r="0.55" fill="#c8c8c8"/><circle cx="381.9" cy="428.3" r="0.55" fill="#c8c8c8"/><circle cx="401.1" cy="430.7" r="0.55" fill="#c8c8c8"/><circle cx="430.7" cy="429.9" r="0.55" fill="#c8c8c8"/><circle cx="444.6" cy="391.4" r="0.55" fill="#c8c8c8"/><circle cx="428.8" cy="433.7" r="0.55" fill="#c8c8c8"/><circle cx="433.8" cy="399.1" r="0.55" fill="#c8c8c8"/><circle cx="433.9" cy="425.3" r="0.55" fill="#c8c8c8"/><circle cx="440.6" cy="433.2" r="0.55" fill="#c8c8c8"/><circle cx="435.7" cy="423.7" r="0.55" fill="#c8c8c8"/><circle cx="422.0" cy="398.1" r="0.55" fill="#c8c8c8"/><circle cx="411.6" cy="436.3" r="0.55" fill="#c8c8c8"/><circle cx="435.7" cy="400.0" r="0.55" fill="#c8c8c8"/><circle cx="434.6" cy="417.0" r="0.55" fill="#c8c8c8"/><circle cx="392.2" cy="446.3" r="0.55" fill="#c8c8c8"/><circle cx="412.9" cy="436.7" r="0.55" fill="#c8c8c8"/><circle cx="421.1" cy="410.0" r="0.55" fill="#c8c8c8"/><circle cx="433.3" cy="418.5" r="0.55" fill="#c8c8c8"/><circle cx="408.2" cy="416.1" r="0.55" fill="#c8c8c8"/><circle cx="434.4" cy="411.2" r="0.55" fill="#c8c8c8"/><circle cx="460.6" cy="439.2" r="0.55" fill="#c8c8c8"/><circle cx="408.9" cy="449.1" r="0.55" fill="#c8c8c8"/><circle cx="415.3" cy="432.1" r="0.55" fill="#c8c8c8"/><circle cx="426.6" cy="423.6" r="0.55" fill="#c8c8c8"/><circle cx="410.1" cy="466.1" r="0.55" fill="#c8c8c8"/><circle cx="447.6" cy="414.4" r="0.55" fill="#c8c8c8"/><circle cx="395.8" cy="431.8" r="0.55" fill="#c8c8c8"/><circle cx="395.8" cy="382.8" r="0.55" fill="#c8c8c8"/><circle cx="442.6" cy="410.3" r="0.55" fill="#c8c8c8"/><circle cx="420.4" cy="458.1" r="0.55" fill="#c8c8c8"/><circle cx="421.2" cy="449.1" r="0.55" fill="#c8c8c8"/><circle cx="433.6" cy="453.7" r="0.55" fill="#c8c8c8"/><circle cx="407.8" cy="412.3" r="0.55" fill="#c8c8c8"/><circle cx="451.6" cy="433.4" r="0.55" fill="#c8c8c8"/><circle cx="397.1" cy="421.0" r="0.55" fill="#c8c8c8"/><circle cx="401.8" cy="441.7" r="0.55" fill="#c8c8c8"/><circle cx="406.6" cy="417.6" r="0.55" fill="#c8c8c8"/><circle cx="418.0" cy="430.9" r="0.55" fill="#c8c8c8"/><circle cx="388.6" cy="473.0" r="0.55" fill="#c8c8c8"/><circle cx="443.5" cy="435.0" r="0.55" fill="#c8c8c8"/><circle cx="402.0" cy="416.8" r="0.55" fill="#c8c8c8"/><circle cx="407.3" cy="438.5" r="0.55" fill="#c8c8c8"/><circle cx="427.2" cy="429.3" r="0.55" fill="#c8c8c8"/><circle cx="423.4" cy="428.9" r="0.55" fill="#c8c8c8"/><circle cx="407.6" cy="440.7" r="0.55" fill="#c8c8c8"/><circle cx="426.7" cy="401.3" r="0.55" fill="#c8c8c8"/><circle cx="399.7" cy="432.8" r="0.55" fill="#c8c8c8"/><circle cx="415.3" cy="406.7" r="0.55" fill="#c8c8c8"/><circle cx="426.5" cy="415.6" r="0.55" fill="#c8c8c8"/><circle cx="444.3" cy="430.5" r="0.55" fill="#c8c8c8"/><circle cx="417.6" cy="435.7" r="0.55" fill="#c8c8c8"/><circle cx="395.2" cy="423.4" r="0.55" fill="#c8c8c8"/><circle cx="435.7" cy="431.2" r="0.55" fill="#c8c8c8"/><circle cx="410.4" cy="436.1" r="0.55" fill="#c8c8c8"/><circle cx="436.6" cy="407.7" r="0.55" fill="#c8c8c8"/><circle cx="440.7" cy="444.2" r="0.55" fill="#c8c8c8"/><circle cx="413.3" cy="464.0" r="0.55" fill="#c8c8c8"/><circle cx="421.6" cy="416.9" r="0.55" fill="#c8c8c8"/><circle cx="410.3" cy="403.6" r="0.55" fill="#c8c8c8"/><circle cx="457.5" cy="407.9" r="0.55" fill="#c8c8c8"/><circle cx="449.4" cy="410.6" r="0.55" fill="#c8c8c8"/><circle cx="410.1" cy="435.2" r="0.55" fill="#c8c8c8"/><circle cx="419.7" cy="425.6" r="0.55" fill="#c8c8c8"/><circle cx="424.1" cy="416.9" r="0.55" fill="#c8c8c8"/><circle cx="446.5" cy="411.5" r="0.55" fill="#c8c8c8"/><circle cx="400.6" cy="426.0" r="0.55" fill="#c8c8c8"/><circle cx="438.6" cy="455.3" r="0.55" fill="#c8c8c8"/><circle cx="418.8" cy="435.9" r="0.55" fill="#c8c8c8"/><circle cx="396.7" cy="430.1" r="0.55" fill="#c8c8c8"/><circle cx="429.3" cy="412.6" r="0.55" fill="#c8c8c8"/><circle cx="408.4" cy="411.3" r="0.55" fill="#c8c8c8"/><circle cx="399.9" cy="435.8" r="0.55" fill="#c8c8c8"/><circle cx="424.1" cy="439.9" r="0.55" fill="#c8c8c8"/><circle cx="433.1" cy="453.3" r="0.55" fill="#c8c8c8"/><circle cx="457.4" cy="395.9" r="0.55" fill="#c8c8c8"/><circle cx="421.8" cy="433.5" r="0.55" fill="#c8c8c8"/><circle cx="400.4" cy="427.0" r="0.55" fill="#c8c8c8"/><circle cx="407.5" cy="417.1" r="0.55" fill="#c8c8c8"/><circle cx="445.6" cy="436.1" r="0.55" fill="#c8c8c8"/><circle cx="441.4" cy="425.0" r="0.55" fill="#c8c8c8"/><circle cx="431.1" cy="399.9" r="0.55" fill="#c8c8c8"/><circle cx="433.6" cy="441.2" r="0.55" fill="#c8c8c8"/><circle cx="421.0" cy="436.2" r="0.55" fill="#c8c8c8"/><circle cx="462.3" cy="436.8" r="0.55" fill="#c8c8c8"/><circle cx="444.5" cy="420.8" r="0.55" fill="#c8c8c8"/><circle cx="407.3" cy="401.2" r="0.55" fill="#c8c8c8"/><circle cx="433.2" cy="432.8" r="0.55" fill="#c8c8c8"/><circle cx="439.4" cy="411.9" r="0.55" fill="#c8c8c8"/><circle cx="395.5" cy="442.5" r="0.55" fill="#c8c8c8"/><circle cx="419.3" cy="426.4" r="0.55" fill="#c8c8c8"/><circle cx="451.7" cy="405.4" r="0.55" fill="#c8c8c8"/><circle cx="430.6" cy="411.0" r="0.55" fill="#c8c8c8"/><circle cx="425.6" cy="432.5" r="0.55" fill="#c8c8c8"/><circle cx="435.7" cy="406.8" r="0.55" fill="#c8c8c8"/><circle cx="418.0" cy="455.2" r="0.55" fill="#c8c8c8"/><circle cx="408.0" cy="463.7" r="0.55" fill="#c8c8c8"/><circle cx="381.6" cy="437.6" r="0.55" fill="#c8c8c8"/><circle cx="433.8" cy="416.4" r="0.55" fill="#c8c8c8"/><circle cx="409.4" cy="432.0" r="0.55" fill="#c8c8c8"/><circle cx="420.1" cy="447.4" r="0.55" fill="#c8c8c8"/><circle cx="390.7" cy="440.3" r="0.55" fill="#c8c8c8"/><circle cx="409.6" cy="434.6" r="0.55" fill="#c8c8c8"/><circle cx="399.1" cy="413.9" r="0.55" fill="#c8c8c8"/><circle cx="432.9" cy="428.0" r="0.55" fill="#c8c8c8"/><circle cx="429.8" cy="405.6" r="0.55" fill="#c8c8c8"/><circle cx="400.0" cy="433.5" r="0.55" fill="#c8c8c8"/><circle cx="468.0" cy="403.5" r="0.55" fill="#c8c8c8"/><circle cx="406.1" cy="432.6" r="0.55" fill="#c8c8c8"/><circle cx="430.3" cy="441.1" r="0.55" fill="#c8c8c8"/><circle cx="397.2" cy="432.8" r="0.55" fill="#c8c8c8"/><circle cx="442.9" cy="411.3" r="0.55" fill="#c8c8c8"/><circle cx="386.6" cy="418.4" r="0.55" fill="#c8c8c8"/><circle cx="436.2" cy="409.7" r="0.55" fill="#c8c8c8"/><circle cx="438.2" cy="449.6" r="0.55" fill="#c8c8c8"/><circle cx="408.6" cy="428.3" r="0.55" fill="#c8c8c8"/><circle cx="431.9" cy="403.2" r="0.55" fill="#c8c8c8"/><circle cx="431.4" cy="426.1" r="0.55" fill="#c8c8c8"/><circle cx="417.6" cy="439.3" r="0.55" fill="#c8c8c8"/><circle cx="408.7" cy="413.9" r="0.55" fill="#c8c8c8"/><circle cx="445.4" cy="403.2" r="0.55" fill="#c8c8c8"/><circle cx="438.1" cy="408.0" r="0.55" fill="#c8c8c8"/><circle cx="423.4" cy="415.4" r="0.55" fill="#c8c8c8"/><circle cx="405.4" cy="434.3" r="0.55" fill="#c8c8c8"/><circle cx="410.8" cy="418.7" r="0.55" fill="#c8c8c8"/><circle cx="413.4" cy="430.2" r="0.55" fill="#c8c8c8"/><circle cx="430.3" cy="402.8" r="0.55" fill="#c8c8c8"/><circle cx="409.8" cy="443.8" r="0.55" fill="#c8c8c8"/><circle cx="437.4" cy="437.0" r="0.55" fill="#c8c8c8"/><circle cx="431.1" cy="431.2" r="0.55" fill="#c8c8c8"/><circle cx="421.6" cy="453.0" r="0.55" fill="#c8c8c8"/><circle cx="435.6" cy="428.6" r="0.55" fill="#c8c8c8"/><circle cx="408.0" cy="399.5" r="0.55" fill="#c8c8c8"/><circle cx="435.6" cy="369.0" r="0.55" fill="#c8c8c8"/><circle cx="421.4" cy="437.3" r="0.55" fill="#c8c8c8"/><circle cx="449.9" cy="400.3" r="0.55" fill="#c8c8c8"/><circle cx="402.0" cy="419.5" r="0.55" fill="#c8c8c8"/><circle cx="434.8" cy="420.3" r="0.55" fill="#c8c8c8"/><circle cx="461.6" cy="433.1" r="0.55" fill="#c8c8c8"/><circle cx="438.6" cy="408.5" r="0.55" fill="#c8c8c8"/><circle cx="424.4" cy="442.5" r="0.55" fill="#c8c8c8"/><circle cx="419.0" cy="435.6" r="0.55" fill="#c8c8c8"/><circle cx="403.8" cy="437.5" r="0.55" fill="#c8c8c8"/><circle cx="414.6" cy="431.7" r="0.55" fill="#c8c8c8"/><circle cx="428.0" cy="414.5" r="0.55" fill="#c8c8c8"/><circle cx="451.4" cy="454.1" r="0.55" fill="#c8c8c8"/><circle cx="441.6" cy="424.2" r="0.55" fill="#c8c8c8"/><circle cx="414.5" cy="413.5" r="0.55" fill="#c8c8c8"/><circle cx="405.3" cy="432.8" r="0.55" fill="#c8c8c8"/><circle cx="421.1" cy="427.5" r="0.55" fill="#c8c8c8"/><circle cx="429.4" cy="431.1" r="0.55" fill="#c8c8c8"/><circle cx="426.9" cy="415.7" r="0.55" fill="#c8c8c8"/><circle cx="420.4" cy="426.5" r="0.55" fill="#c8c8c8"/><circle cx="431.9" cy="444.4" r="0.55" fill="#c8c8c8"/><circle cx="438.9" cy="436.2" r="0.55" fill="#c8c8c8"/><circle cx="454.2" cy="417.9" r="0.55" fill="#c8c8c8"/><circle cx="421.4" cy="393.2" r="0.55" fill="#c8c8c8"/><circle cx="422.4" cy="451.4" r="0.55" fill="#c8c8c8"/><circle cx="430.3" cy="436.9" r="0.55" fill="#c8c8c8"/><circle cx="451.5" cy="434.4" r="0.55" fill="#c8c8c8"/><circle cx="413.4" cy="452.5" r="0.55" fill="#c8c8c8"/><circle cx="425.1" cy="439.8" r="0.55" fill="#c8c8c8"/><circle cx="422.3" cy="431.3" r="0.55" fill="#c8c8c8"/><circle cx="412.9" cy="414.8" r="0.55" fill="#c8c8c8"/><circle cx="439.4" cy="419.0" r="0.55" fill="#c8c8c8"/><circle cx="408.0" cy="446.4" r="0.55" fill="#c8c8c8"/><circle cx="428.0" cy="388.2" r="0.55" fill="#c8c8c8"/><circle cx="415.6" cy="439.6" r="0.55" fill="#c8c8c8"/><circle cx="411.4" cy="445.6" r="0.55" fill="#c8c8c8"/><circle cx="406.7" cy="433.9" r="0.55" fill="#c8c8c8"/><circle cx="448.0" cy="417.1" r="0.55" fill="#c8c8c8"/><circle cx="414.6" cy="452.2" r="0.55" fill="#c8c8c8"/><circle cx="427.0" cy="424.5" r="0.55" fill="#c8c8c8"/><circle cx="422.5" cy="437.0" r="0.55" fill="#c8c8c8"/><circle cx="441.4" cy="429.8" r="0.55" fill="#c8c8c8"/><circle cx="378.6" cy="442.2" r="0.55" fill="#c8c8c8"/><circle cx="372.5" cy="462.4" r="0.55" fill="#c8c8c8"/><circle cx="403.2" cy="452.7" r="0.55" fill="#c8c8c8"/><circle cx="443.9" cy="409.2" r="0.55" fill="#c8c8c8"/><circle cx="423.7" cy="429.7" r="0.55" fill="#c8c8c8"/><circle cx="433.1" cy="406.8" r="0.55" fill="#c8c8c8"/><circle cx="418.8" cy="430.1" r="0.55" fill="#c8c8c8"/><circle cx="410.0" cy="437.9" r="0.55" fill="#c8c8c8"/><circle cx="417.8" cy="406.0" r="0.55" fill="#c8c8c8"/><circle cx="410.4" cy="434.1" r="0.55" fill="#c8c8c8"/><circle cx="420.4" cy="438.5" r="0.55" fill="#c8c8c8"/><circle cx="439.3" cy="399.2" r="0.55" fill="#c8c8c8"/><circle cx="395.2" cy="414.5" r="0.55" fill="#c8c8c8"/><circle cx="423.3" cy="430.1" r="0.55" fill="#c8c8c8"/><circle cx="464.5" cy="414.0" r="0.55" fill="#c8c8c8"/><circle cx="456.7" cy="399.7" r="0.55" fill="#c8c8c8"/><circle cx="405.7" cy="423.9" r="0.55" fill="#c8c8c8"/><circle cx="424.2" cy="406.9" r="0.55" fill="#c8c8c8"/><circle cx="454.7" cy="418.4" r="0.55" fill="#c8c8c8"/><circle cx="416.6" cy="432.0" r="0.55" fill="#c8c8c8"/><circle cx="410.0" cy="441.3" r="0.55" fill="#c8c8c8"/><circle cx="436.6" cy="409.5" r="0.55" fill="#c8c8c8"/><circle cx="414.1" cy="442.7" r="0.55" fill="#c8c8c8"/><circle cx="421.7" cy="406.3" r="0.55" fill="#c8c8c8"/><circle cx="465.7" cy="411.7" r="0.55" fill="#c8c8c8"/><circle cx="422.1" cy="436.6" r="0.55" fill="#c8c8c8"/><circle cx="450.7" cy="395.5" r="0.55" fill="#c8c8c8"/><circle cx="428.5" cy="443.9" r="0.55" fill="#c8c8c8"/><circle cx="414.7" cy="419.0" r="0.55" fill="#c8c8c8"/><circle cx="414.6" cy="445.8" r="0.55" fill="#c8c8c8"/><circle cx="403.0" cy="443.6" r="0.55" fill="#c8c8c8"/><circle cx="423.6" cy="434.8" r="0.55" fill="#c8c8c8"/><circle cx="423.7" cy="383.7" r="0.55" fill="#c8c8c8"/><circle cx="453.8" cy="430.5" r="0.55" fill="#c8c8c8"/><circle cx="417.0" cy="428.9" r="0.55" fill="#c8c8c8"/><circle cx="445.4" cy="406.4" r="0.55" fill="#c8c8c8"/><circle cx="400.4" cy="439.5" r="0.55" fill="#c8c8c8"/><circle cx="409.7" cy="417.7" r="0.55" fill="#c8c8c8"/><circle cx="427.2" cy="410.8" r="0.55" fill="#c8c8c8"/><circle cx="422.3" cy="454.0" r="0.55" fill="#c8c8c8"/><circle cx="431.1" cy="419.3" r="0.55" fill="#c8c8c8"/><circle cx="432.1" cy="441.7" r="0.55" fill="#c8c8c8"/><circle cx="424.8" cy="435.0" r="0.55" fill="#c8c8c8"/><circle cx="411.6" cy="424.0" r="0.55" fill="#c8c8c8"/><circle cx="406.4" cy="415.1" r="0.55" fill="#c8c8c8"/><circle cx="422.4" cy="459.1" r="0.55" fill="#c8c8c8"/><circle cx="405.2" cy="438.1" r="0.55" fill="#c8c8c8"/><circle cx="417.7" cy="438.7" r="0.55" fill="#c8c8c8"/><circle cx="424.5" cy="430.7" r="0.55" fill="#c8c8c8"/><circle cx="429.2" cy="402.0" r="0.55" fill="#c8c8c8"/><circle cx="436.1" cy="414.8" r="0.55" fill="#c8c8c8"/><circle cx="419.3" cy="449.3" r="0.55" fill="#c8c8c8"/><circle cx="421.4" cy="417.8" r="0.55" fill="#c8c8c8"/><circle cx="406.1" cy="412.4" r="0.55" fill="#c8c8c8"/><circle cx="417.7" cy="421.7" r="0.55" fill="#c8c8c8"/><circle cx="388.6" cy="451.0" r="0.55" fill="#c8c8c8"/><circle cx="428.2" cy="435.7" r="0.55" fill="#c8c8c8"/><circle cx="416.3" cy="414.0" r="0.55" fill="#c8c8c8"/><circle cx="412.8" cy="418.0" r="0.55" fill="#c8c8c8"/><circle cx="412.1" cy="417.7" r="0.55" fill="#c8c8c8"/><circle cx="429.6" cy="440.9" r="0.55" fill="#c8c8c8"/><circle cx="434.8" cy="437.8" r="0.55" fill="#c8c8c8"/><circle cx="436.3" cy="398.5" r="0.55" fill="#c8c8c8"/><circle cx="433.6" cy="430.1" r="0.55" fill="#c8c8c8"/><circle cx="443.8" cy="415.9" r="0.55" fill="#c8c8c8"/><circle cx="402.0" cy="437.7" r="0.55" fill="#c8c8c8"/><circle cx="447.7" cy="421.7" r="0.55" fill="#c8c8c8"/><circle cx="443.2" cy="411.3" r="0.55" fill="#c8c8c8"/><circle cx="425.1" cy="430.8" r="0.55" fill="#c8c8c8"/><circle cx="447.8" cy="405.2" r="0.55" fill="#c8c8c8"/><circle cx="429.2" cy="427.0" r="0.55" fill="#c8c8c8"/><circle cx="440.9" cy="400.1" r="0.55" fill="#c8c8c8"/><circle cx="415.8" cy="436.8" r="0.55" fill="#c8c8c8"/><circle cx="428.8" cy="398.6" r="0.55" fill="#c8c8c8"/><circle cx="394.5" cy="438.4" r="0.55" fill="#c8c8c8"/><circle cx="411.1" cy="421.1" r="0.55" fill="#c8c8c8"/><circle cx="414.0" cy="443.7" r="0.55" fill="#c8c8c8"/><circle cx="396.7" cy="439.7" r="0.55" fill="#c8c8c8"/><circle cx="413.5" cy="460.5" r="0.55" fill="#c8c8c8"/><circle cx="396.2" cy="419.5" r="0.55" fill="#c8c8c8"/><circle cx="406.6" cy="456.1" r="0.55" fill="#c8c8c8"/><circle cx="434.6" cy="448.0" r="0.55" fill="#c8c8c8"/><circle cx="456.4" cy="438.3" r="0.55" fill="#c8c8c8"/><circle cx="410.1" cy="443.7" r="0.55" fill="#c8c8c8"/><circle cx="415.7" cy="453.8" r="0.55" fill="#c8c8c8"/><circle cx="420.5" cy="471.8" r="0.55" fill="#c8c8c8"/><circle cx="410.7" cy="423.9" r="0.55" fill="#c8c8c8"/><circle cx="437.1" cy="416.0" r="0.55" fill="#c8c8c8"/><circle cx="442.0" cy="404.9" r="0.55" fill="#c8c8c8"/><circle cx="425.1" cy="433.9" r="0.55" fill="#c8c8c8"/><circle cx="440.9" cy="413.1" r="0.55" fill="#c8c8c8"/><circle cx="390.9" cy="452.5" r="0.55" fill="#c8c8c8"/><circle cx="425.9" cy="413.8" r="0.55" fill="#c8c8c8"/><circle cx="418.7" cy="446.4" r="0.55" fill="#c8c8c8"/><circle cx="425.2" cy="415.3" r="0.55" fill="#c8c8c8"/><circle cx="421.3" cy="417.0" r="0.55" fill="#c8c8c8"/><circle cx="424.1" cy="437.9" r="0.55" fill="#c8c8c8"/><circle cx="393.2" cy="443.5" r="0.55" fill="#c8c8c8"/><circle cx="410.2" cy="428.2" r="0.55" fill="#c8c8c8"/><circle cx="463.0" cy="400.9" r="0.55" fill="#c8c8c8"/><circle cx="428.8" cy="437.4" r="0.55" fill="#c8c8c8"/><circle cx="403.0" cy="435.2" r="0.55" fill="#c8c8c8"/><circle cx="415.4" cy="383.2" r="0.55" fill="#c8c8c8"/><circle cx="416.5" cy="436.7" r="0.55" fill="#c8c8c8"/><circle cx="442.7" cy="417.7" r="0.55" fill="#c8c8c8"/><circle cx="402.2" cy="413.2" r="0.55" fill="#c8c8c8"/><circle cx="418.0" cy="446.8" r="0.55" fill="#c8c8c8"/><circle cx="428.9" cy="416.2" r="0.55" fill="#c8c8c8"/><circle cx="417.6" cy="416.8" r="0.55" fill="#c8c8c8"/><circle cx="437.5" cy="433.7" r="0.55" fill="#c8c8c8"/><circle cx="388.1" cy="472.6" r="0.55" fill="#c8c8c8"/><circle cx="421.2" cy="407.7" r="0.55" fill="#c8c8c8"/><circle cx="440.6" cy="398.8" r="0.55" fill="#c8c8c8"/><circle cx="455.2" cy="414.4" r="0.55" fill="#c8c8c8"/><circle cx="441.5" cy="442.0" r="0.55" fill="#c8c8c8"/><circle cx="435.2" cy="415.5" r="0.55" fill="#c8c8c8"/><circle cx="421.8" cy="432.4" r="0.55" fill="#c8c8c8"/><circle cx="404.3" cy="429.6" r="0.55" fill="#c8c8c8"/><circle cx="445.3" cy="423.4" r="0.55" fill="#c8c8c8"/><circle cx="413.4" cy="403.9" r="0.55" fill="#c8c8c8"/><circle cx="428.8" cy="432.5" r="0.55" fill="#c8c8c8"/><circle cx="403.2" cy="436.9" r="0.55" fill="#c8c8c8"/><circle cx="441.2" cy="395.9" r="0.55" fill="#c8c8c8"/><circle cx="417.8" cy="415.3" r="0.55" fill="#c8c8c8"/><circle cx="436.4" cy="415.1" r="0.55" fill="#c8c8c8"/><circle cx="396.8" cy="429.4" r="0.55" fill="#c8c8c8"/><circle cx="406.8" cy="413.3" r="0.55" fill="#c8c8c8"/><circle cx="436.9" cy="411.6" r="0.55" fill="#c8c8c8"/><circle cx="379.9" cy="430.6" r="0.55" fill="#c8c8c8"/><circle cx="435.4" cy="440.3" r="0.55" fill="#c8c8c8"/><circle cx="440.0" cy="418.6" r="0.55" fill="#c8c8c8"/><circle cx="420.3" cy="436.9" r="0.55" fill="#c8c8c8"/><circle cx="405.9" cy="437.6" r="0.55" fill="#c8c8c8"/><circle cx="476.3" cy="404.6" r="0.55" fill="#c8c8c8"/><circle cx="427.0" cy="433.7" r="0.55" fill="#c8c8c8"/><circle cx="412.8" cy="437.0" r="0.55" fill="#c8c8c8"/><circle cx="408.2" cy="417.3" r="0.55" fill="#c8c8c8"/><circle cx="418.8" cy="414.0" r="0.55" fill="#c8c8c8"/><circle cx="403.6" cy="418.1" r="0.55" fill="#c8c8c8"/><circle cx="422.9" cy="415.5" r="0.55" fill="#c8c8c8"/><circle cx="421.6" cy="439.1" r="0.55" fill="#c8c8c8"/><circle cx="444.1" cy="424.8" r="0.55" fill="#c8c8c8"/><circle cx="407.6" cy="406.3" r="0.55" fill="#c8c8c8"/><circle cx="431.3" cy="418.1" r="0.55" fill="#c8c8c8"/><circle cx="444.8" cy="405.6" r="0.55" fill="#c8c8c8"/><circle cx="420.6" cy="435.3" r="0.55" fill="#c8c8c8"/><circle cx="396.7" cy="417.9" r="0.55" fill="#c8c8c8"/><circle cx="417.2" cy="430.9" r="0.55" fill="#c8c8c8"/><circle cx="424.9" cy="416.2" r="0.55" fill="#c8c8c8"/><circle cx="435.8" cy="410.4" r="0.55" fill="#c8c8c8"/><circle cx="458.0" cy="398.9" r="0.55" fill="#c8c8c8"/><circle cx="405.0" cy="423.6" r="0.55" fill="#c8c8c8"/><circle cx="426.8" cy="451.6" r="0.55" fill="#c8c8c8"/><circle cx="440.7" cy="418.0" r="0.55" fill="#c8c8c8"/><circle cx="408.3" cy="470.4" r="0.55" fill="#c8c8c8"/><circle cx="429.6" cy="444.4" r="0.55" fill="#c8c8c8"/><circle cx="409.8" cy="411.8" r="0.55" fill="#c8c8c8"/><circle cx="436.5" cy="411.9" r="0.55" fill="#c8c8c8"/><circle cx="393.2" cy="436.9" r="0.55" fill="#c8c8c8"/><circle cx="434.1" cy="439.9" r="0.55" fill="#c8c8c8"/><circle cx="439.3" cy="398.7" r="0.55" fill="#c8c8c8"/><circle cx="441.1" cy="430.1" r="0.55" fill="#c8c8c8"/><circle cx="411.3" cy="415.3" r="0.55" fill="#c8c8c8"/><circle cx="440.4" cy="401.3" r="0.55" fill="#c8c8c8"/><circle cx="444.0" cy="419.9" r="0.55" fill="#c8c8c8"/><circle cx="429.2" cy="431.8" r="0.55" fill="#c8c8c8"/><circle cx="434.5" cy="416.0" r="0.55" fill="#c8c8c8"/><circle cx="399.9" cy="443.8" r="0.55" fill="#c8c8c8"/><circle cx="404.6" cy="401.5" r="0.55" fill="#c8c8c8"/><circle cx="411.1" cy="416.7" r="0.55" fill="#c8c8c8"/><circle cx="456.3" cy="386.1" r="0.55" fill="#c8c8c8"/><circle cx="447.8" cy="392.9" r="0.55" fill="#c8c8c8"/><circle cx="402.2" cy="437.5" r="0.55" fill="#c8c8c8"/><circle cx="410.9" cy="433.8" r="0.55" fill="#c8c8c8"/><circle cx="468.3" cy="435.2" r="0.55" fill="#c8c8c8"/><circle cx="433.0" cy="440.5" r="0.55" fill="#c8c8c8"/><circle cx="446.3" cy="398.3" r="0.55" fill="#c8c8c8"/><circle cx="414.6" cy="397.4" r="0.55" fill="#c8c8c8"/><circle cx="424.7" cy="405.5" r="0.55" fill="#c8c8c8"/><circle cx="428.7" cy="431.8" r="0.55" fill="#c8c8c8"/><circle cx="416.9" cy="429.2" r="0.55" fill="#c8c8c8"/><circle cx="434.0" cy="419.9" r="0.55" fill="#c8c8c8"/><circle cx="410.1" cy="451.1" r="0.55" fill="#c8c8c8"/><circle cx="406.5" cy="417.4" r="0.55" fill="#c8c8c8"/><circle cx="413.8" cy="432.4" r="0.55" fill="#c8c8c8"/><circle cx="410.1" cy="431.2" r="0.55" fill="#c8c8c8"/><circle cx="409.4" cy="435.5" r="0.55" fill="#c8c8c8"/><circle cx="420.4" cy="429.5" r="0.55" fill="#c8c8c8"/><circle cx="418.8" cy="434.1" r="0.55" fill="#c8c8c8"/><circle cx="403.0" cy="421.1" r="0.55" fill="#c8c8c8"/><circle cx="424.8" cy="449.6" r="0.55" fill="#c8c8c8"/><circle cx="368.2" cy="439.5" r="0.55" fill="#c8c8c8"/><circle cx="441.1" cy="444.2" r="0.55" fill="#c8c8c8"/><circle cx="440.7" cy="429.7" r="0.55" fill="#c8c8c8"/><circle cx="405.4" cy="433.8" r="0.55" fill="#c8c8c8"/><circle cx="435.8" cy="428.5" r="0.55" fill="#c8c8c8"/><circle cx="449.4" cy="408.5" r="0.55" fill="#c8c8c8"/><circle cx="445.9" cy="431.9" r="0.55" fill="#c8c8c8"/><circle cx="400.0" cy="447.4" r="0.55" fill="#c8c8c8"/><circle cx="415.6" cy="409.1" r="0.55" fill="#c8c8c8"/><circle cx="431.4" cy="419.3" r="0.55" fill="#c8c8c8"/><circle cx="448.4" cy="409.6" r="0.55" fill="#c8c8c8"/><circle cx="410.9" cy="431.3" r="0.55" fill="#c8c8c8"/><circle cx="417.4" cy="413.3" r="0.55" fill="#c8c8c8"/><circle cx="424.0" cy="419.5" r="0.55" fill="#c8c8c8"/><circle cx="461.3" cy="433.1" r="0.55" fill="#c8c8c8"/><circle cx="406.0" cy="456.8" r="0.55" fill="#c8c8c8"/><circle cx="422.9" cy="444.7" r="0.55" fill="#c8c8c8"/><circle cx="429.8" cy="427.0" r="0.55" fill="#c8c8c8"/><circle cx="438.6" cy="407.2" r="0.55" fill="#c8c8c8"/><circle cx="418.8" cy="414.3" r="0.55" fill="#c8c8c8"/><circle cx="457.0" cy="401.9" r="0.55" fill="#c8c8c8"/><circle cx="430.3" cy="436.7" r="0.55" fill="#c8c8c8"/><circle cx="409.3" cy="414.5" r="0.55" fill="#c8c8c8"/><circle cx="427.5" cy="422.8" r="0.55" fill="#c8c8c8"/><circle cx="416.2" cy="411.3" r="0.55" fill="#c8c8c8"/><circle cx="427.3" cy="412.0" r="0.55" fill="#c8c8c8"/><circle cx="455.7" cy="429.3" r="0.55" fill="#c8c8c8"/><circle cx="434.4" cy="394.9" r="0.55" fill="#c8c8c8"/><circle cx="411.6" cy="415.9" r="0.55" fill="#c8c8c8"/><circle cx="440.0" cy="392.7" r="0.55" fill="#c8c8c8"/><circle cx="434.9" cy="421.7" r="0.55" fill="#c8c8c8"/><circle cx="436.1" cy="392.4" r="0.55" fill="#c8c8c8"/><circle cx="431.1" cy="420.5" r="0.55" fill="#c8c8c8"/><circle cx="409.2" cy="400.6" r="0.55" fill="#c8c8c8"/><circle cx="441.9" cy="436.3" r="0.55" fill="#c8c8c8"/><circle cx="440.9" cy="402.2" r="0.55" fill="#c8c8c8"/><circle cx="425.8" cy="411.9" r="0.55" fill="#c8c8c8"/><circle cx="420.6" cy="435.7" r="0.55" fill="#c8c8c8"/><circle cx="428.7" cy="413.6" r="0.55" fill="#c8c8c8"/><circle cx="407.9" cy="453.1" r="0.55" fill="#c8c8c8"/><circle cx="405.8" cy="415.4" r="0.55" fill="#c8c8c8"/><circle cx="440.5" cy="432.7" r="0.55" fill="#c8c8c8"/><circle cx="425.3" cy="412.2" r="0.55" fill="#c8c8c8"/><circle cx="418.6" cy="431.8" r="0.55" fill="#c8c8c8"/><circle cx="420.6" cy="415.2" r="0.55" fill="#c8c8c8"/><circle cx="425.8" cy="430.5" r="0.55" fill="#c8c8c8"/><circle cx="417.1" cy="403.0" r="0.55" fill="#c8c8c8"/><circle cx="423.7" cy="413.1" r="0.55" fill="#c8c8c8"/><circle cx="412.9" cy="431.6" r="0.55" fill="#c8c8c8"/><circle cx="464.0" cy="438.3" r="0.55" fill="#c8c8c8"/><circle cx="442.0" cy="415.6" r="0.55" fill="#c8c8c8"/><circle cx="423.5" cy="439.9" r="0.55" fill="#c8c8c8"/><circle cx="400.2" cy="440.4" r="0.55" fill="#c8c8c8"/><circle cx="407.4" cy="413.8" r="0.55" fill="#c8c8c8"/><circle cx="427.6" cy="441.4" r="0.55" fill="#c8c8c8"/><circle cx="390.3" cy="437.4" r="0.55" fill="#c8c8c8"/><circle cx="415.0" cy="444.6" r="0.55" fill="#c8c8c8"/><circle cx="433.5" cy="424.6" r="0.55" fill="#c8c8c8"/><circle cx="435.3" cy="403.8" r="0.55" fill="#c8c8c8"/><circle cx="425.1" cy="408.8" r="0.55" fill="#c8c8c8"/><circle cx="427.7" cy="449.7" r="0.55" fill="#c8c8c8"/><circle cx="426.6" cy="434.7" r="0.55" fill="#c8c8c8"/><circle cx="411.3" cy="428.6" r="0.55" fill="#c8c8c8"/><circle cx="405.7" cy="439.6" r="0.55" fill="#c8c8c8"/><circle cx="445.9" cy="413.3" r="0.55" fill="#c8c8c8"/><circle cx="418.5" cy="445.8" r="0.55" fill="#c8c8c8"/><circle cx="430.9" cy="429.5" r="0.55" fill="#c8c8c8"/><circle cx="425.4" cy="430.1" r="0.55" fill="#c8c8c8"/><circle cx="442.0" cy="429.7" r="0.55" fill="#c8c8c8"/><circle cx="394.1" cy="442.1" r="0.55" fill="#c8c8c8"/><circle cx="424.1" cy="416.7" r="0.55" fill="#c8c8c8"/><circle cx="408.2" cy="442.9" r="0.55" fill="#c8c8c8"/><circle cx="421.3" cy="406.2" r="0.55" fill="#c8c8c8"/><circle cx="450.4" cy="401.7" r="0.55" fill="#c8c8c8"/><circle cx="429.6" cy="413.1" r="0.55" fill="#c8c8c8"/><circle cx="437.5" cy="401.3" r="0.55" fill="#c8c8c8"/><circle cx="438.1" cy="443.2" r="0.55" fill="#c8c8c8"/><circle cx="439.7" cy="414.1" r="0.55" fill="#c8c8c8"/><circle cx="415.5" cy="420.1" r="0.55" fill="#c8c8c8"/><circle cx="442.6" cy="414.3" r="0.55" fill="#c8c8c8"/><circle cx="426.9" cy="467.5" r="0.55" fill="#c8c8c8"/><circle cx="435.0" cy="408.5" r="0.55" fill="#c8c8c8"/><circle cx="423.2" cy="429.5" r="0.55" fill="#c8c8c8"/><circle cx="425.5" cy="393.4" r="0.55" fill="#c8c8c8"/><circle cx="434.2" cy="410.1" r="0.55" fill="#c8c8c8"/><circle cx="418.0" cy="412.1" r="0.55" fill="#c8c8c8"/><circle cx="427.4" cy="422.1" r="0.55" fill="#c8c8c8"/><circle cx="425.7" cy="448.6" r="0.55" fill="#c8c8c8"/><circle cx="425.0" cy="413.5" r="0.55" fill="#c8c8c8"/><circle cx="411.3" cy="432.9" r="0.55" fill="#c8c8c8"/><circle cx="384.7" cy="429.9" r="0.55" fill="#c8c8c8"/><circle cx="413.2" cy="418.5" r="0.55" fill="#c8c8c8"/><circle cx="408.8" cy="411.1" r="0.55" fill="#c8c8c8"/><circle cx="438.5" cy="435.2" r="0.55" fill="#c8c8c8"/><circle cx="437.8" cy="431.3" r="0.55" fill="#c8c8c8"/><circle cx="397.6" cy="416.1" r="0.55" fill="#c8c8c8"/><circle cx="401.5" cy="415.0" r="0.55" fill="#c8c8c8"/><circle cx="426.8" cy="410.7" r="0.55" fill="#c8c8c8"/><circle cx="432.2" cy="405.2" r="0.55" fill="#c8c8c8"/><circle cx="429.4" cy="414.7" r="0.55" fill="#c8c8c8"/><circle cx="427.7" cy="407.6" r="0.55" fill="#c8c8c8"/><circle cx="416.7" cy="412.4" r="0.55" fill="#c8c8c8"/><circle cx="449.2" cy="417.6" r="0.55" fill="#c8c8c8"/><circle cx="430.9" cy="430.4" r="0.55" fill="#c8c8c8"/><circle cx="418.4" cy="423.1" r="0.55" fill="#c8c8c8"/><circle cx="414.4" cy="419.2" r="0.55" fill="#c8c8c8"/><circle cx="393.0" cy="414.4" r="0.55" fill="#c8c8c8"/><circle cx="420.4" cy="437.7" r="0.55" fill="#c8c8c8"/><circle cx="417.0" cy="420.8" r="0.55" fill="#c8c8c8"/><circle cx="404.8" cy="411.9" r="0.55" fill="#c8c8c8"/><circle cx="417.2" cy="459.3" r="0.55" fill="#c8c8c8"/><circle cx="438.4" cy="418.6" r="0.55" fill="#c8c8c8"/><circle cx="418.0" cy="422.9" r="0.55" fill="#c8c8c8"/><circle cx="410.0" cy="407.0" r="0.55" fill="#c8c8c8"/><circle cx="419.8" cy="428.6" r="0.55" fill="#c8c8c8"/><circle cx="416.5" cy="413.1" r="0.55" fill="#c8c8c8"/><circle cx="414.5" cy="430.5" r="0.55" fill="#c8c8c8"/><circle cx="419.8" cy="437.6" r="0.55" fill="#c8c8c8"/><circle cx="419.5" cy="448.3" r="0.55" fill="#c8c8c8"/><circle cx="430.4" cy="414.9" r="0.55" fill="#c8c8c8"/><circle cx="418.3" cy="403.9" r="0.55" fill="#c8c8c8"/><circle cx="409.4" cy="421.7" r="0.55" fill="#c8c8c8"/><circle cx="425.5" cy="412.3" r="0.55" fill="#c8c8c8"/><circle cx="416.7" cy="418.9" r="0.55" fill="#c8c8c8"/><circle cx="427.1" cy="423.2" r="0.55" fill="#c8c8c8"/><circle cx="394.8" cy="445.7" r="0.55" fill="#c8c8c8"/><circle cx="437.6" cy="422.4" r="0.55" fill="#c8c8c8"/><circle cx="433.8" cy="426.8" r="0.55" fill="#c8c8c8"/><circle cx="402.0" cy="464.5" r="0.55" fill="#c8c8c8"/><circle cx="431.9" cy="430.4" r="0.55" fill="#c8c8c8"/><circle cx="418.4" cy="431.7" r="0.55" fill="#c8c8c8"/><circle cx="421.5" cy="417.3" r="0.55" fill="#c8c8c8"/><circle cx="416.9" cy="436.9" r="0.55" fill="#c8c8c8"/><circle cx="436.5" cy="413.4" r="0.55" fill="#c8c8c8"/><circle cx="416.8" cy="445.5" r="0.55" fill="#c8c8c8"/><circle cx="422.3" cy="428.7" r="0.55" fill="#c8c8c8"/><circle cx="406.8" cy="439.4" r="0.55" fill="#c8c8c8"/><circle cx="417.4" cy="417.2" r="0.55" fill="#c8c8c8"/><circle cx="439.0" cy="418.0" r="0.55" fill="#c8c8c8"/><circle cx="440.6" cy="431.6" r="0.55" fill="#c8c8c8"/><circle cx="421.5" cy="403.9" r="0.55" fill="#c8c8c8"/><circle cx="430.9" cy="407.3" r="0.55" fill="#c8c8c8"/><circle cx="391.4" cy="460.5" r="0.55" fill="#c8c8c8"/><circle cx="408.8" cy="415.4" r="0.55" fill="#c8c8c8"/><circle cx="450.9" cy="425.1" r="0.55" fill="#c8c8c8"/><circle cx="410.6" cy="440.1" r="0.55" fill="#c8c8c8"/><circle cx="411.5" cy="423.2" r="0.55" fill="#c8c8c8"/><circle cx="435.6" cy="431.2" r="0.55" fill="#c8c8c8"/><circle cx="408.7" cy="430.8" r="0.55" fill="#c8c8c8"/><circle cx="393.3" cy="403.9" r="0.55" fill="#c8c8c8"/><circle cx="430.0" cy="415.2" r="0.55" fill="#c8c8c8"/><circle cx="426.9" cy="401.9" r="0.55" fill="#c8c8c8"/><circle cx="410.7" cy="444.7" r="0.55" fill="#c8c8c8"/><circle cx="407.8" cy="443.9" r="0.55" fill="#c8c8c8"/><circle cx="445.4" cy="452.1" r="0.55" fill="#c8c8c8"/><circle cx="415.5" cy="416.1" r="0.55" fill="#c8c8c8"/><circle cx="434.6" cy="430.0" r="0.55" fill="#c8c8c8"/><circle cx="417.8" cy="449.6" r="0.55" fill="#c8c8c8"/><circle cx="406.2" cy="466.3" r="0.55" fill="#c8c8c8"/><circle cx="427.9" cy="431.6" r="0.55" fill="#c8c8c8"/><circle cx="409.0" cy="442.0" r="0.55" fill="#c8c8c8"/><circle cx="408.2" cy="435.9" r="0.55" fill="#c8c8c8"/><circle cx="417.0" cy="403.3" r="0.55" fill="#c8c8c8"/><circle cx="411.1" cy="431.7" r="0.55" fill="#c8c8c8"/><circle cx="423.5" cy="412.1" r="0.55" fill="#c8c8c8"/><circle cx="432.4" cy="406.2" r="0.55" fill="#c8c8c8"/><circle cx="444.8" cy="404.2" r="0.55" fill="#c8c8c8"/><circle cx="437.7" cy="409.9" r="0.55" fill="#c8c8c8"/><circle cx="426.1" cy="441.2" r="0.55" fill="#c8c8c8"/><circle cx="441.3" cy="393.8" r="0.55" fill="#c8c8c8"/><circle cx="392.8" cy="436.7" r="0.55" fill="#c8c8c8"/><circle cx="402.2" cy="417.6" r="0.55" fill="#c8c8c8"/><circle cx="423.1" cy="401.8" r="0.55" fill="#c8c8c8"/><circle cx="416.2" cy="415.8" r="0.55" fill="#c8c8c8"/><circle cx="425.3" cy="453.2" r="0.55" fill="#c8c8c8"/><circle cx="433.9" cy="438.7" r="0.55" fill="#c8c8c8"/><circle cx="399.8" cy="422.0" r="0.55" fill="#c8c8c8"/><circle cx="438.4" cy="443.6" r="0.55" fill="#c8c8c8"/><circle cx="435.2" cy="411.1" r="0.55" fill="#c8c8c8"/><circle cx="417.4" cy="436.7" r="0.55" fill="#c8c8c8"/><circle cx="416.6" cy="441.9" r="0.55" fill="#c8c8c8"/><circle cx="411.7" cy="440.2" r="0.55" fill="#c8c8c8"/><circle cx="421.4" cy="433.2" r="0.55" fill="#c8c8c8"/><circle cx="437.0" cy="417.5" r="0.55" fill="#c8c8c8"/><circle cx="417.0" cy="474.4" r="0.55" fill="#c8c8c8"/><circle cx="434.6" cy="412.4" r="0.55" fill="#c8c8c8"/><circle cx="444.5" cy="415.1" r="0.55" fill="#c8c8c8"/><circle cx="406.9" cy="429.3" r="0.55" fill="#c8c8c8"/><circle cx="412.2" cy="404.1" r="0.55" fill="#c8c8c8"/><circle cx="430.8" cy="433.1" r="0.55" fill="#c8c8c8"/><circle cx="404.9" cy="418.5" r="0.55" fill="#c8c8c8"/><circle cx="428.0" cy="465.4" r="0.55" fill="#c8c8c8"/><circle cx="403.1" cy="417.4" r="0.55" fill="#c8c8c8"/><circle cx="393.9" cy="442.7" r="0.55" fill="#c8c8c8"/><circle cx="429.8" cy="415.8" r="0.55" fill="#c8c8c8"/><circle cx="454.6" cy="393.3" r="0.55" fill="#c8c8c8"/><circle cx="423.2" cy="408.1" r="0.55" fill="#c8c8c8"/><circle cx="434.4" cy="412.6" r="0.55" fill="#c8c8c8"/><circle cx="445.4" cy="415.6" r="0.55" fill="#c8c8c8"/><circle cx="438.3" cy="403.9" r="0.55" fill="#c8c8c8"/><circle cx="421.5" cy="415.3" r="0.55" fill="#c8c8c8"/><circle cx="407.1" cy="429.1" r="0.55" fill="#c8c8c8"/><circle cx="434.9" cy="429.4" r="0.55" fill="#c8c8c8"/><circle cx="433.0" cy="417.6" r="0.55" fill="#c8c8c8"/><circle cx="365.0" cy="439.5" r="0.55" fill="#c8c8c8"/><circle cx="433.6" cy="393.3" r="0.55" fill="#c8c8c8"/><circle cx="405.7" cy="429.7" r="0.55" fill="#c8c8c8"/><circle cx="429.4" cy="437.2" r="0.55" fill="#c8c8c8"/><circle cx="443.7" cy="411.8" r="0.55" fill="#c8c8c8"/><circle cx="410.2" cy="447.0" r="0.55" fill="#c8c8c8"/><circle cx="416.5" cy="392.9" r="0.55" fill="#c8c8c8"/><circle cx="459.7" cy="449.0" r="0.55" fill="#c8c8c8"/><circle cx="393.0" cy="425.6" r="0.55" fill="#c8c8c8"/><circle cx="428.3" cy="419.6" r="0.55" fill="#c8c8c8"/><circle cx="405.2" cy="412.1" r="0.55" fill="#c8c8c8"/><circle cx="415.8" cy="411.2" r="0.55" fill="#c8c8c8"/><circle cx="435.1" cy="420.7" r="0.55" fill="#c8c8c8"/><circle cx="444.3" cy="417.0" r="0.55" fill="#c8c8c8"/><circle cx="434.6" cy="446.0" r="0.55" fill="#c8c8c8"/><circle cx="421.8" cy="440.8" r="0.55" fill="#c8c8c8"/><circle cx="433.9" cy="448.1" r="0.55" fill="#c8c8c8"/><circle cx="428.9" cy="466.6" r="0.55" fill="#c8c8c8"/><circle cx="457.3" cy="392.4" r="0.55" fill="#c8c8c8"/><circle cx="401.5" cy="419.2" r="0.55" fill="#c8c8c8"/><circle cx="423.3" cy="392.7" r="0.55" fill="#c8c8c8"/><circle cx="445.6" cy="415.0" r="0.55" fill="#c8c8c8"/><circle cx="425.8" cy="409.9" r="0.55" fill="#c8c8c8"/><circle cx="406.3" cy="415.1" r="0.55" fill="#c8c8c8"/><circle cx="429.5" cy="436.4" r="0.55" fill="#c8c8c8"/><circle cx="413.0" cy="439.3" r="0.55" fill="#c8c8c8"/><circle cx="416.6" cy="395.8" r="0.55" fill="#c8c8c8"/><circle cx="422.8" cy="435.7" r="0.55" fill="#c8c8c8"/><circle cx="422.5" cy="444.3" r="0.55" fill="#c8c8c8"/><circle cx="418.8" cy="435.2" r="0.55" fill="#c8c8c8"/><circle cx="430.9" cy="417.7" r="0.55" fill="#c8c8c8"/><circle cx="412.7" cy="416.1" r="0.55" fill="#c8c8c8"/><circle cx="443.6" cy="417.5" r="0.55" fill="#c8c8c8"/><circle cx="434.5" cy="424.5" r="0.55" fill="#c8c8c8"/><circle cx="411.0" cy="406.9" r="0.55" fill="#c8c8c8"/><circle cx="462.8" cy="384.4" r="0.55" fill="#c8c8c8"/><circle cx="419.6" cy="404.4" r="0.55" fill="#c8c8c8"/><circle cx="391.1" cy="401.0" r="0.55" fill="#c8c8c8"/><circle cx="437.9" cy="403.5" r="0.55" fill="#c8c8c8"/><circle cx="405.6" cy="416.4" r="0.55" fill="#c8c8c8"/><circle cx="429.0" cy="403.4" r="0.55" fill="#c8c8c8"/><circle cx="449.1" cy="435.7" r="0.55" fill="#c8c8c8"/><circle cx="409.3" cy="442.7" r="0.55" fill="#c8c8c8"/><circle cx="415.7" cy="430.9" r="0.55" fill="#c8c8c8"/><circle cx="437.1" cy="440.1" r="0.55" fill="#c8c8c8"/><circle cx="414.1" cy="421.3" r="0.55" fill="#c8c8c8"/><circle cx="404.9" cy="439.4" r="0.55" fill="#c8c8c8"/><circle cx="447.0" cy="413.2" r="0.55" fill="#c8c8c8"/><circle cx="451.4" cy="417.0" r="0.55" fill="#c8c8c8"/><circle cx="412.6" cy="406.5" r="0.55" fill="#c8c8c8"/><circle cx="440.7" cy="420.5" r="0.55" fill="#c8c8c8"/><circle cx="459.8" cy="380.8" r="0.55" fill="#c8c8c8"/><circle cx="410.9" cy="428.8" r="0.55" fill="#c8c8c8"/><circle cx="436.7" cy="439.0" r="0.55" fill="#c8c8c8"/><circle cx="453.2" cy="426.0" r="0.55" fill="#c8c8c8"/><circle cx="369.0" cy="446.9" r="0.55" fill="#c8c8c8"/><circle cx="455.2" cy="402.7" r="0.55" fill="#c8c8c8"/><circle cx="420.3" cy="437.3" r="0.55" fill="#c8c8c8"/><circle cx="430.0" cy="438.4" r="0.55" fill="#c8c8c8"/><circle cx="389.9" cy="443.2" r="0.55" fill="#c8c8c8"/><circle cx="428.0" cy="412.4" r="0.55" fill="#c8c8c8"/><circle cx="419.2" cy="431.2" r="0.55" fill="#c8c8c8"/><circle cx="395.0" cy="443.6" r="0.55" fill="#c8c8c8"/><circle cx="410.7" cy="428.9" r="0.55" fill="#c8c8c8"/><circle cx="433.8" cy="449.6" r="0.55" fill="#c8c8c8"/><circle cx="426.2" cy="442.9" r="0.55" fill="#c8c8c8"/><circle cx="448.8" cy="431.6" r="0.55" fill="#c8c8c8"/><circle cx="432.9" cy="410.5" r="0.55" fill="#c8c8c8"/><circle cx="444.9" cy="439.2" r="0.55" fill="#c8c8c8"/><circle cx="431.4" cy="416.3" r="0.55" fill="#c8c8c8"/><circle cx="397.9" cy="415.2" r="0.55" fill="#c8c8c8"/><circle cx="396.0" cy="455.9" r="0.55" fill="#c8c8c8"/><circle cx="469.2" cy="390.7" r="0.55" fill="#c8c8c8"/><circle cx="429.9" cy="402.9" r="0.55" fill="#c8c8c8"/><circle cx="443.1" cy="435.5" r="0.55" fill="#c8c8c8"/><circle cx="431.7" cy="401.6" r="0.55" fill="#c8c8c8"/><circle cx="413.7" cy="409.3" r="0.55" fill="#c8c8c8"/><circle cx="419.2" cy="406.8" r="0.55" fill="#c8c8c8"/><circle cx="419.7" cy="435.3" r="0.55" fill="#c8c8c8"/><circle cx="441.7" cy="402.7" r="0.55" fill="#c8c8c8"/><circle cx="441.9" cy="373.6" r="0.55" fill="#c8c8c8"/><circle cx="413.4" cy="451.3" r="0.55" fill="#c8c8c8"/><circle cx="413.9" cy="418.6" r="0.55" fill="#c8c8c8"/><circle cx="415.3" cy="423.4" r="0.55" fill="#c8c8c8"/><circle cx="403.8" cy="427.1" r="0.55" fill="#c8c8c8"/><circle cx="408.2" cy="411.3" r="0.55" fill="#c8c8c8"/><circle cx="425.5" cy="405.1" r="0.55" fill="#c8c8c8"/><circle cx="415.8" cy="398.3" r="0.55" fill="#c8c8c8"/><circle cx="415.7" cy="399.4" r="0.55" fill="#c8c8c8"/><circle cx="415.0" cy="442.8" r="0.55" fill="#c8c8c8"/><circle cx="438.9" cy="426.0" r="0.55" fill="#c8c8c8"/><circle cx="408.3" cy="439.9" r="0.55" fill="#c8c8c8"/><circle cx="439.8" cy="413.7" r="0.55" fill="#c8c8c8"/><circle cx="419.8" cy="410.8" r="0.55" fill="#c8c8c8"/><circle cx="437.1" cy="424.2" r="0.55" fill="#c8c8c8"/><circle cx="417.3" cy="437.1" r="0.55" fill="#c8c8c8"/><circle cx="415.6" cy="423.7" r="0.55" fill="#c8c8c8"/><circle cx="423.2" cy="409.8" r="0.55" fill="#c8c8c8"/><circle cx="406.1" cy="407.9" r="0.55" fill="#c8c8c8"/><circle cx="436.9" cy="436.8" r="0.55" fill="#c8c8c8"/><circle cx="415.9" cy="429.7" r="0.55" fill="#c8c8c8"/><circle cx="404.0" cy="414.8" r="0.55" fill="#c8c8c8"/><circle cx="415.7" cy="439.8" r="0.55" fill="#c8c8c8"/><circle cx="457.0" cy="435.8" r="0.55" fill="#c8c8c8"/><circle cx="447.4" cy="414.2" r="0.55" fill="#c8c8c8"/><circle cx="413.1" cy="408.4" r="0.55" fill="#c8c8c8"/><circle cx="387.5" cy="461.6" r="0.55" fill="#c8c8c8"/><circle cx="476.5" cy="414.4" r="0.55" fill="#c8c8c8"/><circle cx="397.9" cy="416.7" r="0.55" fill="#c8c8c8"/><circle cx="407.7" cy="449.2" r="0.55" fill="#c8c8c8"/><circle cx="403.0" cy="419.5" r="0.55" fill="#c8c8c8"/><circle cx="433.7" cy="377.7" r="0.55" fill="#c8c8c8"/><circle cx="427.5" cy="410.1" r="0.55" fill="#c8c8c8"/><circle cx="434.1" cy="410.0" r="0.55" fill="#c8c8c8"/><circle cx="423.0" cy="431.6" r="0.55" fill="#c8c8c8"/><circle cx="435.8" cy="402.5" r="0.55" fill="#c8c8c8"/><circle cx="403.2" cy="449.1" r="0.55" fill="#c8c8c8"/><circle cx="422.7" cy="398.4" r="0.55" fill="#c8c8c8"/><circle cx="419.8" cy="452.0" r="0.55" fill="#c8c8c8"/><circle cx="437.5" cy="409.1" r="0.55" fill="#c8c8c8"/><circle cx="457.2" cy="411.0" r="0.55" fill="#c8c8c8"/><circle cx="410.8" cy="414.7" r="0.55" fill="#c8c8c8"/><circle cx="415.2" cy="429.5" r="0.55" fill="#c8c8c8"/><circle cx="426.9" cy="436.3" r="0.55" fill="#c8c8c8"/><circle cx="414.6" cy="428.6" r="0.55" fill="#c8c8c8"/><circle cx="415.2" cy="431.3" r="0.55" fill="#c8c8c8"/><circle cx="440.8" cy="410.0" r="0.55" fill="#c8c8c8"/><circle cx="415.3" cy="403.2" r="0.55" fill="#c8c8c8"/><circle cx="423.7" cy="409.8" r="0.55" fill="#c8c8c8"/><circle cx="434.7" cy="418.0" r="0.55" fill="#c8c8c8"/><circle cx="428.2" cy="429.3" r="0.55" fill="#c8c8c8"/><circle cx="429.2" cy="430.3" r="0.55" fill="#c8c8c8"/><circle cx="397.3" cy="453.2" r="0.55" fill="#c8c8c8"/><circle cx="441.4" cy="396.7" r="0.55" fill="#c8c8c8"/><circle cx="420.7" cy="449.5" r="0.55" fill="#c8c8c8"/><circle cx="435.1" cy="406.1" r="0.55" fill="#c8c8c8"/><circle cx="447.4" cy="421.7" r="0.55" fill="#c8c8c8"/><circle cx="440.4" cy="415.2" r="0.55" fill="#c8c8c8"/><circle cx="435.1" cy="415.9" r="0.55" fill="#c8c8c8"/><circle cx="452.7" cy="393.9" r="0.55" fill="#c8c8c8"/><circle cx="414.0" cy="413.3" r="0.55" fill="#c8c8c8"/><circle cx="403.1" cy="457.6" r="0.55" fill="#c8c8c8"/><circle cx="437.5" cy="429.0" r="0.55" fill="#c8c8c8"/><circle cx="414.8" cy="404.9" r="0.55" fill="#c8c8c8"/><circle cx="422.5" cy="411.3" r="0.55" fill="#c8c8c8"/><circle cx="426.5" cy="428.8" r="0.55" fill="#c8c8c8"/><circle cx="402.1" cy="435.6" r="0.55" fill="#c8c8c8"/><circle cx="413.1" cy="419.4" r="0.55" fill="#c8c8c8"/><circle cx="411.0" cy="428.3" r="0.55" fill="#c8c8c8"/><circle cx="423.3" cy="442.5" r="0.55" fill="#c8c8c8"/><circle cx="440.9" cy="418.6" r="0.55" fill="#c8c8c8"/><circle cx="413.5" cy="419.3" r="0.55" fill="#c8c8c8"/><circle cx="405.7" cy="443.8" r="0.55" fill="#c8c8c8"/><circle cx="415.4" cy="411.9" r="0.55" fill="#c8c8c8"/><circle cx="394.8" cy="437.4" r="0.55" fill="#c8c8c8"/><circle cx="419.5" cy="400.3" r="0.55" fill="#c8c8c8"/><circle cx="417.6" cy="405.3" r="0.55" fill="#c8c8c8"/><circle cx="465.8" cy="389.2" r="0.55" fill="#c8c8c8"/><circle cx="430.9" cy="434.3" r="0.55" fill="#c8c8c8"/><circle cx="410.4" cy="404.6" r="0.55" fill="#c8c8c8"/><circle cx="429.2" cy="444.0" r="0.55" fill="#c8c8c8"/><circle cx="450.7" cy="407.3" r="0.55" fill="#c8c8c8"/><circle cx="446.3" cy="411.4" r="0.55" fill="#c8c8c8"/><circle cx="386.2" cy="448.7" r="0.55" fill="#c8c8c8"/><circle cx="421.0" cy="428.5" r="0.55" fill="#c8c8c8"/><circle cx="451.4" cy="415.1" r="0.55" fill="#c8c8c8"/><circle cx="400.9" cy="421.8" r="0.55" fill="#c8c8c8"/><circle cx="429.3" cy="426.2" r="0.55" fill="#c8c8c8"/><circle cx="411.5" cy="407.3" r="0.55" fill="#c8c8c8"/><circle cx="431.1" cy="419.5" r="0.55" fill="#c8c8c8"/><circle cx="436.2" cy="440.0" r="0.55" fill="#c8c8c8"/><circle cx="415.4" cy="430.1" r="0.55" fill="#c8c8c8"/><circle cx="434.3" cy="413.0" r="0.55" fill="#c8c8c8"/><circle cx="444.4" cy="423.7" r="0.55" fill="#c8c8c8"/><circle cx="427.9" cy="438.9" r="0.6" fill="#c6c6c6"/><circle cx="428.0" cy="433.9" r="0.6" fill="#c6c6c6"/><circle cx="425.2" cy="417.6" r="0.6" fill="#c6c6c6"/><circle cx="420.8" cy="439.2" r="0.6" fill="#c6c6c6"/><circle cx="418.4" cy="417.4" r="0.6" fill="#c6c6c6"/><circle cx="427.0" cy="434.1" r="0.6" fill="#c6c6c6"/><circle cx="430.1" cy="407.8" r="0.6" fill="#c6c6c6"/><circle cx="424.8" cy="413.6" r="0.6" fill="#c6c6c6"/><circle cx="421.1" cy="412.2" r="0.6" fill="#c6c6c6"/><circle cx="417.4" cy="410.3" r="0.6" fill="#c6c6c6"/><circle cx="421.3" cy="435.1" r="0.6" fill="#c6c6c6"/><circle cx="422.7" cy="405.9" r="0.6" fill="#c6c6c6"/><circle cx="426.0" cy="444.3" r="0.6" fill="#c6c6c6"/><circle cx="426.5" cy="433.2" r="0.6" fill="#c6c6c6"/><circle cx="420.5" cy="408.2" r="0.6" fill="#c6c6c6"/><circle cx="421.5" cy="437.7" r="0.6" fill="#c6c6c6"/><circle cx="431.5" cy="412.7" r="0.6" fill="#c6c6c6"/><circle cx="427.6" cy="403.3" r="0.6" fill="#c6c6c6"/><circle cx="423.0" cy="401.9" r="0.6" fill="#c6c6c6"/><circle cx="424.4" cy="440.9" r="0.6" fill="#c6c6c6"/><circle cx="425.0" cy="434.4" r="0.6" fill="#c6c6c6"/><circle cx="427.5" cy="402.0" r="0.6" fill="#c6c6c6"/><circle cx="427.4" cy="411.9" r="0.6" fill="#c6c6c6"/><circle cx="419.4" cy="415.3" r="0.6" fill="#c6c6c6"/><circle cx="427.2" cy="441.7" r="0.6" fill="#c6c6c6"/><circle cx="433.8" cy="411.8" r="0.6" fill="#c6c6c6"/><circle cx="434.7" cy="413.7" r="0.6" fill="#c6c6c6"/><circle cx="431.9" cy="406.9" r="0.6" fill="#c6c6c6"/><circle cx="426.6" cy="431.8" r="0.6" fill="#c6c6c6"/><circle cx="426.5" cy="410.6" r="0.6" fill="#c6c6c6"/><circle cx="430.7" cy="410.5" r="0.6" fill="#c6c6c6"/><circle cx="425.6" cy="437.0" r="0.6" fill="#c6c6c6"/><circle cx="428.8" cy="433.7" r="0.6" fill="#c6c6c6"/><circle cx="431.0" cy="439.6" r="0.6" fill="#c6c6c6"/><circle cx="425.9" cy="440.9" r="0.6" fill="#c6c6c6"/><circle cx="434.6" cy="410.6" r="0.6" fill="#c6c6c6"/><circle cx="438.4" cy="411.0" r="0.6" fill="#c6c6c6"/><circle cx="427.5" cy="411.7" r="0.6" fill="#c6c6c6"/><circle cx="420.6" cy="440.4" r="0.6" fill="#c6c6c6"/><circle cx="419.7" cy="417.6" r="0.6" fill="#c6c6c6"/><circle cx="428.0" cy="396.5" r="0.6" fill="#c6c6c6"/><circle cx="433.8" cy="413.3" r="0.6" fill="#c6c6c6"/><circle cx="428.6" cy="432.4" r="0.6" fill="#c6c6c6"/><circle cx="438.2" cy="399.9" r="0.6" fill="#c6c6c6"/><circle cx="427.9" cy="432.3" r="0.6" fill="#c6c6c6"/><circle cx="427.8" cy="430.9" r="0.6" fill="#c6c6c6"/><circle cx="434.6" cy="431.5" r="0.6" fill="#c6c6c6"/><circle cx="428.0" cy="407.5" r="0.6" fill="#c6c6c6"/><circle cx="423.2" cy="431.0" r="0.6" fill="#c6c6c6"/><circle cx="422.7" cy="409.7" r="0.6" fill="#c6c6c6"/><circle cx="425.0" cy="409.1" r="0.6" fill="#c6c6c6"/><circle cx="432.0" cy="434.9" r="0.6" fill="#c6c6c6"/><circle cx="433.3" cy="416.0" r="0.6" fill="#c6c6c6"/><circle cx="425.1" cy="437.6" r="0.6" fill="#c6c6c6"/><circle cx="440.1" cy="439.1" r="0.6" fill="#c6c6c6"/><circle cx="436.0" cy="437.9" r="0.6" fill="#c6c6c6"/><circle cx="432.7" cy="431.3" r="0.6" fill="#c6c6c6"/><circle cx="423.7" cy="441.2" r="0.6" fill="#c6c6c6"/><circle cx="428.6" cy="431.6" r="0.6" fill="#c6c6c6"/><circle cx="427.9" cy="417.4" r="0.6" fill="#c6c6c6"/><circle cx="435.7" cy="401.7" r="0.6" fill="#c6c6c6"/><circle cx="436.4" cy="433.3" r="0.6" fill="#c6c6c6"/><circle cx="419.6" cy="431.5" r="0.6" fill="#c6c6c6"/><circle cx="426.6" cy="417.7" r="0.6" fill="#c6c6c6"/><circle cx="430.5" cy="453.2" r="0.6" fill="#c6c6c6"/><circle cx="422.5" cy="413.6" r="0.6" fill="#c6c6c6"/><circle cx="435.7" cy="416.6" r="0.6" fill="#c6c6c6"/><circle cx="421.0" cy="412.4" r="0.6" fill="#c6c6c6"/><circle cx="423.9" cy="409.3" r="0.6" fill="#c6c6c6"/><circle cx="429.0" cy="414.3" r="0.6" fill="#c6c6c6"/><circle cx="426.4" cy="440.1" r="0.6" fill="#c6c6c6"/><circle cx="424.6" cy="435.7" r="0.6" fill="#c6c6c6"/><circle cx="426.1" cy="407.2" r="0.6" fill="#c6c6c6"/><circle cx="429.0" cy="414.0" r="0.6" fill="#c6c6c6"/><circle cx="425.0" cy="437.5" r="0.6" fill="#c6c6c6"/><circle cx="422.2" cy="443.9" r="0.6" fill="#c6c6c6"/><circle cx="434.5" cy="410.9" r="0.6" fill="#c6c6c6"/><circle cx="427.7" cy="439.0" r="0.6" fill="#c6c6c6"/><circle cx="423.1" cy="436.0" r="0.6" fill="#c6c6c6"/><circle cx="431.8" cy="417.5" r="0.6" fill="#c6c6c6"/><circle cx="428.9" cy="403.0" r="0.6" fill="#c6c6c6"/><circle cx="427.9" cy="409.6" r="0.6" fill="#c6c6c6"/><circle cx="419.3" cy="409.9" r="0.6" fill="#c6c6c6"/><circle cx="426.9" cy="416.6" r="0.6" fill="#c6c6c6"/><circle cx="425.1" cy="432.2" r="0.6" fill="#c6c6c6"/><circle cx="428.8" cy="434.7" r="0.6" fill="#c6c6c6"/><circle cx="438.5" cy="412.9" r="0.6" fill="#c6c6c6"/><circle cx="429.2" cy="432.1" r="0.6" fill="#c6c6c6"/><circle cx="429.9" cy="416.0" r="0.6" fill="#c6c6c6"/><circle cx="421.8" cy="446.5" r="0.6" fill="#c6c6c6"/><circle cx="432.1" cy="414.9" r="0.6" fill="#c6c6c6"/><circle cx="429.7" cy="434.9" r="0.6" fill="#c6c6c6"/><circle cx="429.6" cy="415.5" r="0.6" fill="#c6c6c6"/><circle cx="430.9" cy="415.7" r="0.6" fill="#c6c6c6"/><circle cx="431.2" cy="437.6" r="0.6" fill="#c6c6c6"/><circle cx="418.3" cy="436.2" r="0.6" fill="#c6c6c6"/><circle cx="428.6" cy="416.8" r="0.6" fill="#c6c6c6"/><circle cx="430.6" cy="433.5" r="0.6" fill="#c6c6c6"/><circle cx="432.2" cy="413.2" r="0.6" fill="#c6c6c6"/><circle cx="423.2" cy="407.9" r="0.6" fill="#c6c6c6"/><circle cx="430.4" cy="395.1" r="0.6" fill="#c6c6c6"/><circle cx="418.3" cy="407.7" r="0.6" fill="#c6c6c6"/><circle cx="431.2" cy="449.8" r="0.6" fill="#c6c6c6"/><circle cx="435.5" cy="415.7" r="0.6" fill="#c6c6c6"/><circle cx="429.6" cy="416.3" r="0.6" fill="#c6c6c6"/><circle cx="426.3" cy="411.9" r="0.6" fill="#c6c6c6"/><circle cx="428.4" cy="402.4" r="0.6" fill="#c6c6c6"/><circle cx="423.1" cy="409.9" r="0.6" fill="#c6c6c6"/><circle cx="431.1" cy="417.3" r="0.6" fill="#c6c6c6"/><circle cx="426.1" cy="405.7" r="0.6" fill="#c6c6c6"/><circle cx="419.2" cy="415.9" r="0.6" fill="#c6c6c6"/><circle cx="419.7" cy="444.4" r="0.6" fill="#c6c6c6"/><circle cx="420.8" cy="412.5" r="0.6" fill="#c6c6c6"/><circle cx="420.7" cy="401.0" r="0.6" fill="#c6c6c6"/><circle cx="436.2" cy="436.8" r="0.6" fill="#c6c6c6"/><circle cx="429.9" cy="439.0" r="0.6" fill="#c6c6c6"/><circle cx="425.8" cy="435.3" r="0.6" fill="#c6c6c6"/><circle cx="427.2" cy="406.3" r="0.6" fill="#c6c6c6"/><circle cx="430.7" cy="415.6" r="0.6" fill="#c6c6c6"/><circle cx="424.7" cy="437.6" r="0.6" fill="#c6c6c6"/><circle cx="414.5" cy="430.4" r="0.6" fill="#c6c6c6"/><circle cx="426.3" cy="417.6" r="0.6" fill="#c6c6c6"/><circle cx="425.7" cy="441.5" r="0.6" fill="#c6c6c6"/><circle cx="424.3" cy="417.1" r="0.6" fill="#c6c6c6"/><circle cx="419.0" cy="431.5" r="0.6" fill="#c6c6c6"/><circle cx="425.5" cy="408.6" r="0.6" fill="#c6c6c6"/><circle cx="427.8" cy="436.2" r="0.6" fill="#c6c6c6"/><circle cx="427.8" cy="436.5" r="0.6" fill="#c6c6c6"/><circle cx="420.9" cy="430.2" r="0.6" fill="#c6c6c6"/><circle cx="432.4" cy="414.6" r="0.6" fill="#c6c6c6"/><circle cx="424.0" cy="446.4" r="0.6" fill="#c6c6c6"/><circle cx="424.6" cy="413.1" r="0.6" fill="#c6c6c6"/><circle cx="431.4" cy="443.8" r="0.6" fill="#c6c6c6"/><circle cx="433.6" cy="436.7" r="0.6" fill="#c6c6c6"/><circle cx="424.2" cy="445.7" r="0.6" fill="#c6c6c6"/><circle cx="430.9" cy="403.4" r="0.6" fill="#c6c6c6"/><circle cx="427.0" cy="398.1" r="0.6" fill="#c6c6c6"/><circle cx="421.7" cy="430.6" r="0.6" fill="#c6c6c6"/><circle cx="417.5" cy="442.5" r="0.6" fill="#c6c6c6"/><circle cx="425.4" cy="432.6" r="0.6" fill="#c6c6c6"/><circle cx="438.3" cy="446.0" r="0.6" fill="#c6c6c6"/><circle cx="425.3" cy="435.3" r="0.6" fill="#c6c6c6"/><circle cx="427.4" cy="455.6" r="0.6" fill="#c6c6c6"/><circle cx="432.6" cy="407.9" r="0.6" fill="#c6c6c6"/><circle cx="432.7" cy="441.2" r="0.6" fill="#c6c6c6"/><circle cx="431.4" cy="438.2" r="0.6" fill="#c6c6c6"/><circle cx="422.6" cy="410.1" r="0.6" fill="#c6c6c6"/><circle cx="425.9" cy="416.5" r="0.6" fill="#c6c6c6"/><circle cx="427.7" cy="436.1" r="0.6" fill="#c6c6c6"/><circle cx="427.9" cy="443.5" r="0.6" fill="#c6c6c6"/><circle cx="424.9" cy="411.5" r="0.6" fill="#c6c6c6"/><circle cx="421.7" cy="440.8" r="0.6" fill="#c6c6c6"/><circle cx="420.6" cy="447.7" r="0.6" fill="#c6c6c6"/><circle cx="423.3" cy="451.1" r="0.6" fill="#c6c6c6"/><circle cx="435.5" cy="414.4" r="0.6" fill="#c6c6c6"/><circle cx="425.4" cy="407.4" r="0.6" fill="#c6c6c6"/><circle cx="436.9" cy="433.9" r="0.6" fill="#c6c6c6"/><circle cx="417.9" cy="415.5" r="0.6" fill="#c6c6c6"/><circle cx="428.8" cy="406.9" r="0.6" fill="#c6c6c6"/><circle cx="425.6" cy="415.0" r="0.6" fill="#c6c6c6"/><circle cx="422.6" cy="438.6" r="0.6" fill="#c6c6c6"/><circle cx="423.0" cy="410.9" r="0.6" fill="#c6c6c6"/><circle cx="427.1" cy="440.0" r="0.6" fill="#c6c6c6"/><circle cx="430.7" cy="436.6" r="0.6" fill="#c6c6c6"/><circle cx="427.1" cy="441.2" r="0.6" fill="#c6c6c6"/><circle cx="437.2" cy="410.8" r="0.6" fill="#c6c6c6"/><circle cx="421.9" cy="435.6" r="0.6" fill="#c6c6c6"/><circle cx="435.0" cy="411.4" r="0.6" fill="#c6c6c6"/><circle cx="432.0" cy="415.3" r="0.6" fill="#c6c6c6"/><circle cx="418.1" cy="416.6" r="0.6" fill="#c6c6c6"/><circle cx="418.9" cy="439.1" r="0.6" fill="#c6c6c6"/><circle cx="428.1" cy="396.2" r="0.6" fill="#c6c6c6"/><circle cx="428.7" cy="433.2" r="0.6" fill="#c6c6c6"/><circle cx="427.3" cy="414.7" r="0.6" fill="#c6c6c6"/><circle cx="421.2" cy="407.7" r="0.6" fill="#c6c6c6"/><circle cx="429.7" cy="440.5" r="0.6" fill="#c6c6c6"/><circle cx="431.0" cy="432.1" r="0.6" fill="#c6c6c6"/><circle cx="425.5" cy="432.1" r="0.6" fill="#c6c6c6"/><circle cx="427.9" cy="414.6" r="0.6" fill="#c6c6c6"/><circle cx="426.8" cy="413.9" r="0.6" fill="#c6c6c6"/><circle cx="427.1" cy="436.1" r="0.6" fill="#c6c6c6"/><circle cx="421.6" cy="440.2" r="0.6" fill="#c6c6c6"/><circle cx="440.6" cy="415.9" r="0.6" fill="#c6c6c6"/><circle cx="430.1" cy="439.1" r="0.6" fill="#c6c6c6"/><circle cx="426.3" cy="412.8" r="0.6" fill="#c6c6c6"/><circle cx="423.9" cy="432.5" r="0.6" fill="#c6c6c6"/><circle cx="420.9" cy="409.0" r="0.6" fill="#c6c6c6"/><circle cx="428.8" cy="411.5" r="0.6" fill="#c6c6c6"/><circle cx="422.7" cy="416.6" r="0.6" fill="#c6c6c6"/><circle cx="420.7" cy="410.9" r="0.6" fill="#c6c6c6"/><circle cx="422.5" cy="398.6" r="0.6" fill="#c6c6c6"/><circle cx="417.8" cy="440.8" r="0.6" fill="#c6c6c6"/><circle cx="431.2" cy="434.1" r="0.6" fill="#c6c6c6"/><circle cx="434.8" cy="437.4" r="0.6" fill="#c6c6c6"/><circle cx="420.0" cy="414.4" r="0.6" fill="#c6c6c6"/><circle cx="423.4" cy="454.0" r="0.6" fill="#c6c6c6"/><circle cx="422.9" cy="417.6" r="0.6" fill="#c6c6c6"/><circle cx="425.6" cy="417.3" r="0.6" fill="#c6c6c6"/><circle cx="422.5" cy="431.6" r="0.6" fill="#c6c6c6"/><circle cx="431.9" cy="436.4" r="0.6" fill="#c6c6c6"/><circle cx="437.7" cy="403.7" r="0.6" fill="#c6c6c6"/><circle cx="421.6" cy="439.2" r="0.6" fill="#c6c6c6"/><circle cx="431.1" cy="431.1" r="0.6" fill="#c6c6c6"/><circle cx="417.8" cy="430.2" r="0.6" fill="#c6c6c6"/><circle cx="434.9" cy="455.1" r="0.6" fill="#c6c6c6"/><circle cx="422.2" cy="416.5" r="0.6" fill="#c6c6c6"/><circle cx="421.9" cy="436.8" r="0.6" fill="#c6c6c6"/><circle cx="425.3" cy="440.2" r="0.6" fill="#c6c6c6"/><circle cx="425.5" cy="404.8" r="0.6" fill="#c6c6c6"/><circle cx="418.6" cy="433.9" r="0.6" fill="#c6c6c6"/><circle cx="435.9" cy="410.6" r="0.6" fill="#c6c6c6"/><circle cx="432.3" cy="391.2" r="0.6" fill="#c6c6c6"/><circle cx="423.5" cy="437.9" r="0.6" fill="#c6c6c6"/><circle cx="425.1" cy="436.7" r="0.6" fill="#c6c6c6"/><circle cx="428.6" cy="436.1" r="0.6" fill="#c6c6c6"/><circle cx="417.2" cy="416.7" r="0.6" fill="#c6c6c6"/><circle cx="431.5" cy="438.5" r="0.6" fill="#c6c6c6"/><circle cx="427.3" cy="434.6" r="0.6" fill="#c6c6c6"/><circle cx="430.3" cy="436.2" r="0.6" fill="#c6c6c6"/><circle cx="424.9" cy="415.2" r="0.6" fill="#c6c6c6"/><circle cx="428.1" cy="430.5" r="0.6" fill="#c6c6c6"/><circle cx="422.4" cy="417.3" r="0.6" fill="#c6c6c6"/><circle cx="425.4" cy="433.9" r="0.6" fill="#c6c6c6"/><circle cx="423.7" cy="432.5" r="0.6" fill="#c6c6c6"/><circle cx="422.0" cy="432.0" r="0.6" fill="#c6c6c6"/><circle cx="432.5" cy="402.9" r="0.6" fill="#c6c6c6"/><circle cx="430.1" cy="450.2" r="0.6" fill="#c6c6c6"/><circle cx="416.6" cy="415.9" r="0.6" fill="#c6c6c6"/><circle cx="433.9" cy="410.1" r="0.6" fill="#c6c6c6"/><circle cx="425.5" cy="402.9" r="0.6" fill="#c6c6c6"/><circle cx="430.8" cy="432.4" r="0.6" fill="#c6c6c6"/><circle cx="423.6" cy="416.3" r="0.6" fill="#c6c6c6"/><circle cx="423.0" cy="434.4" r="0.6" fill="#c6c6c6"/><circle cx="423.8" cy="416.1" r="0.6" fill="#c6c6c6"/><circle cx="435.0" cy="416.9" r="0.6" fill="#c6c6c6"/><circle cx="424.8" cy="441.3" r="0.6" fill="#c6c6c6"/><circle cx="424.7" cy="410.0" r="0.6" fill="#c6c6c6"/><circle cx="427.9" cy="444.3" r="0.6" fill="#c6c6c6"/><circle cx="420.3" cy="416.5" r="0.6" fill="#c6c6c6"/><circle cx="427.2" cy="433.2" r="0.6" fill="#c6c6c6"/><circle cx="430.4" cy="432.6" r="0.6" fill="#c6c6c6"/><circle cx="422.1" cy="415.2" r="0.6" fill="#c6c6c6"/><circle cx="433.2" cy="413.7" r="0.6" fill="#c6c6c6"/><circle cx="429.7" cy="417.9" r="0.6" fill="#c6c6c6"/><circle cx="427.5" cy="412.1" r="0.6" fill="#c6c6c6"/><circle cx="424.3" cy="412.3" r="0.6" fill="#c6c6c6"/><circle cx="421.6" cy="437.0" r="0.6" fill="#c6c6c6"/><circle cx="436.9" cy="439.3" r="0.6" fill="#c6c6c6"/><circle cx="421.1" cy="439.2" r="0.6" fill="#c6c6c6"/><circle cx="426.5" cy="408.0" r="0.6" fill="#c6c6c6"/><circle cx="426.4" cy="445.3" r="0.6" fill="#c6c6c6"/><circle cx="424.6" cy="430.3" r="0.6" fill="#c6c6c6"/><circle cx="427.7" cy="402.5" r="0.6" fill="#c6c6c6"/><circle cx="428.5" cy="431.3" r="0.6" fill="#c6c6c6"/><circle cx="430.0" cy="436.9" r="0.6" fill="#c6c6c6"/><circle cx="419.6" cy="430.4" r="0.6" fill="#c6c6c6"/><circle cx="420.7" cy="400.7" r="0.6" fill="#c6c6c6"/><circle cx="423.0" cy="444.6" r="0.6" fill="#c6c6c6"/><circle cx="421.5" cy="417.5" r="0.6" fill="#c6c6c6"/><circle cx="440.8" cy="437.6" r="0.6" fill="#c6c6c6"/><circle cx="426.1" cy="456.8" r="0.6" fill="#c6c6c6"/><circle cx="424.9" cy="416.5" r="0.6" fill="#c6c6c6"/><circle cx="426.5" cy="408.3" r="0.6" fill="#c6c6c6"/><circle cx="431.4" cy="398.6" r="0.6" fill="#c6c6c6"/><circle cx="421.7" cy="417.1" r="0.6" fill="#c6c6c6"/><circle cx="419.4" cy="434.6" r="0.6" fill="#c6c6c6"/><circle cx="431.8" cy="432.9" r="0.6" fill="#c6c6c6"/><circle cx="423.3" cy="410.3" r="0.6" fill="#c6c6c6"/><circle cx="425.3" cy="431.2" r="0.6" fill="#c6c6c6"/><circle cx="425.8" cy="414.6" r="0.6" fill="#c6c6c6"/><circle cx="423.5" cy="417.4" r="0.6" fill="#c6c6c6"/><circle cx="421.8" cy="433.8" r="0.6" fill="#c6c6c6"/><circle cx="425.7" cy="431.3" r="0.6" fill="#c6c6c6"/><circle cx="436.3" cy="430.2" r="0.6" fill="#c6c6c6"/><circle cx="424.7" cy="416.5" r="0.6" fill="#c6c6c6"/><circle cx="423.8" cy="412.8" r="0.6" fill="#c6c6c6"/><circle cx="427.2" cy="410.5" r="0.6" fill="#c6c6c6"/><circle cx="425.3" cy="415.3" r="0.6" fill="#c6c6c6"/><circle cx="423.6" cy="445.5" r="0.6" fill="#c6c6c6"/><circle cx="418.3" cy="410.0" r="0.6" fill="#c6c6c6"/><circle cx="424.5" cy="430.2" r="0.6" fill="#c6c6c6"/><circle cx="435.0" cy="394.7" r="0.6" fill="#c6c6c6"/><circle cx="427.0" cy="414.4" r="0.6" fill="#c6c6c6"/><circle cx="438.3" cy="435.2" r="0.6" fill="#c6c6c6"/><circle cx="427.9" cy="413.7" r="0.6" fill="#c6c6c6"/><circle cx="436.5" cy="443.1" r="0.6" fill="#c6c6c6"/><circle cx="425.6" cy="440.5" r="0.6" fill="#c6c6c6"/><circle cx="432.2" cy="408.4" r="0.6" fill="#c6c6c6"/><circle cx="428.8" cy="415.2" r="0.6" fill="#c6c6c6"/><circle cx="426.2" cy="409.5" r="0.6" fill="#c6c6c6"/><circle cx="426.0" cy="410.9" r="0.6" fill="#c6c6c6"/><circle cx="432.3" cy="434.4" r="0.6" fill="#c6c6c6"/><circle cx="432.3" cy="416.8" r="0.6" fill="#c6c6c6"/><circle cx="419.7" cy="412.7" r="0.6" fill="#c6c6c6"/><circle cx="434.5" cy="416.5" r="0.6" fill="#c6c6c6"/><circle cx="425.5" cy="401.3" r="0.6" fill="#c6c6c6"/><circle cx="428.6" cy="430.4" r="0.6" fill="#c6c6c6"/><circle cx="417.5" cy="445.7" r="0.6" fill="#c6c6c6"/><circle cx="429.7" cy="416.7" r="0.6" fill="#c6c6c6"/><circle cx="427.8" cy="411.8" r="0.6" fill="#c6c6c6"/><circle cx="422.9" cy="401.6" r="0.6" fill="#c6c6c6"/><circle cx="429.5" cy="432.1" r="0.6" fill="#c6c6c6"/><circle cx="425.8" cy="416.7" r="0.6" fill="#c6c6c6"/><circle cx="429.9" cy="414.1" r="0.6" fill="#c6c6c6"/><circle cx="433.8" cy="412.6" r="0.6" fill="#c6c6c6"/><circle cx="432.3" cy="411.2" r="0.6" fill="#c6c6c6"/><circle cx="432.1" cy="437.7" r="0.6" fill="#c6c6c6"/><circle cx="430.5" cy="413.6" r="0.6" fill="#c6c6c6"/><circle cx="424.3" cy="399.5" r="0.6" fill="#c6c6c6"/><circle cx="427.2" cy="438.6" r="0.6" fill="#c6c6c6"/><circle cx="430.7" cy="435.9" r="0.6" fill="#c6c6c6"/><circle cx="430.4" cy="439.6" r="0.6" fill="#c6c6c6"/><circle cx="432.6" cy="437.0" r="0.6" fill="#c6c6c6"/><circle cx="427.7" cy="418.0" r="0.6" fill="#c6c6c6"/><circle cx="417.2" cy="435.1" r="0.6" fill="#c6c6c6"/><circle cx="425.0" cy="408.9" r="0.6" fill="#c6c6c6"/><circle cx="419.3" cy="403.6" r="0.6" fill="#c6c6c6"/><circle cx="425.5" cy="437.8" r="0.6" fill="#c6c6c6"/><circle cx="432.1" cy="439.3" r="0.6" fill="#c6c6c6"/><circle cx="422.4" cy="446.9" r="0.6" fill="#c6c6c6"/><circle cx="426.5" cy="434.8" r="0.6" fill="#c6c6c6"/><circle cx="425.8" cy="413.7" r="0.6" fill="#c6c6c6"/><circle cx="425.5" cy="441.5" r="0.6" fill="#c6c6c6"/><circle cx="429.4" cy="412.6" r="0.6" fill="#c6c6c6"/><circle cx="433.1" cy="401.5" r="0.6" fill="#c6c6c6"/><circle cx="430.0" cy="430.7" r="0.6" fill="#c6c6c6"/><circle cx="431.6" cy="436.4" r="0.6" fill="#c6c6c6"/><circle cx="436.2" cy="410.4" r="0.6" fill="#c6c6c6"/><circle cx="424.9" cy="417.4" r="0.6" fill="#c6c6c6"/><circle cx="426.6" cy="413.7" r="0.6" fill="#c6c6c6"/><circle cx="425.3" cy="432.5" r="0.6" fill="#c6c6c6"/><circle cx="427.2" cy="440.1" r="0.6" fill="#c6c6c6"/><circle cx="434.3" cy="401.8" r="0.6" fill="#c6c6c6"/><circle cx="424.3" cy="409.9" r="0.6" fill="#c6c6c6"/><circle cx="426.3" cy="439.9" r="0.6" fill="#c6c6c6"/><circle cx="432.0" cy="442.6" r="0.6" fill="#c6c6c6"/><circle cx="428.7" cy="406.3" r="0.6" fill="#c6c6c6"/><circle cx="431.9" cy="416.0" r="0.6" fill="#c6c6c6"/><circle cx="425.7" cy="441.5" r="0.6" fill="#c6c6c6"/><circle cx="428.4" cy="417.4" r="0.6" fill="#c6c6c6"/><circle cx="432.3" cy="432.2" r="0.6" fill="#c6c6c6"/><circle cx="423.8" cy="440.2" r="0.6" fill="#c6c6c6"/><circle cx="424.8" cy="433.1" r="0.6" fill="#c6c6c6"/><circle cx="430.4" cy="417.0" r="0.6" fill="#c6c6c6"/><circle cx="427.6" cy="432.8" r="0.6" fill="#c6c6c6"/><circle cx="431.6" cy="438.7" r="0.6" fill="#c6c6c6"/><circle cx="425.1" cy="433.7" r="0.6" fill="#c6c6c6"/><circle cx="425.1" cy="448.2" r="0.6" fill="#c6c6c6"/><circle cx="417.3" cy="438.7" r="0.6" fill="#c6c6c6"/><circle cx="430.9" cy="431.2" r="0.6" fill="#c6c6c6"/><circle cx="422.5" cy="410.6" r="0.6" fill="#c6c6c6"/><circle cx="422.4" cy="431.0" r="0.6" fill="#c6c6c6"/><circle cx="420.2" cy="417.4" r="0.6" fill="#c6c6c6"/><circle cx="431.5" cy="438.9" r="0.6" fill="#c6c6c6"/><circle cx="436.0" cy="417.0" r="0.6" fill="#c6c6c6"/><circle cx="420.5" cy="432.9" r="0.6" fill="#c6c6c6"/><circle cx="417.1" cy="405.7" r="0.6" fill="#c6c6c6"/><circle cx="421.7" cy="411.9" r="0.6" fill="#c6c6c6"/><circle cx="428.2" cy="418.0" r="0.6" fill="#c6c6c6"/><circle cx="433.6" cy="411.6" r="0.6" fill="#c6c6c6"/><circle cx="429.9" cy="437.5" r="0.6" fill="#c6c6c6"/><circle cx="427.1" cy="408.4" r="0.6" fill="#c6c6c6"/><circle cx="419.0" cy="404.3" r="0.6" fill="#c6c6c6"/><circle cx="437.6" cy="416.7" r="0.6" fill="#c6c6c6"/><circle cx="428.5" cy="433.6" r="0.6" fill="#c6c6c6"/><circle cx="426.6" cy="433.2" r="0.6" fill="#c6c6c6"/><circle cx="427.9" cy="439.4" r="0.6" fill="#c6c6c6"/><circle cx="438.4" cy="411.5" r="0.6" fill="#c6c6c6"/><circle cx="432.3" cy="405.9" r="0.6" fill="#c6c6c6"/><circle cx="434.1" cy="415.0" r="0.6" fill="#c6c6c6"/><circle cx="434.2" cy="408.8" r="0.6" fill="#c6c6c6"/><circle cx="433.5" cy="414.6" r="0.6" fill="#c6c6c6"/><circle cx="422.8" cy="399.3" r="0.6" fill="#c6c6c6"/><circle cx="425.3" cy="432.7" r="0.6" fill="#c6c6c6"/><circle cx="433.6" cy="414.1" r="0.6" fill="#c6c6c6"/><circle cx="424.7" cy="448.9" r="0.6" fill="#c6c6c6"/><circle cx="432.7" cy="415.3" r="0.6" fill="#c6c6c6"/><circle cx="414.1" cy="436.2" r="0.6" fill="#c6c6c6"/><circle cx="426.6" cy="406.8" r="0.6" fill="#c6c6c6"/><circle cx="430.9" cy="442.7" r="0.6" fill="#c6c6c6"/><circle cx="423.7" cy="437.9" r="0.6" fill="#c6c6c6"/><circle cx="425.7" cy="408.2" r="0.6" fill="#c6c6c6"/><circle cx="429.2" cy="433.1" r="0.6" fill="#c6c6c6"/><circle cx="418.9" cy="417.7" r="0.6" fill="#c6c6c6"/><circle cx="424.3" cy="434.1" r="0.6" fill="#c6c6c6"/><circle cx="424.4" cy="432.9" r="0.6" fill="#c6c6c6"/><circle cx="420.6" cy="437.1" r="0.6" fill="#c6c6c6"/><circle cx="418.1" cy="441.4" r="0.6" fill="#c6c6c6"/><circle cx="420.1" cy="410.9" r="0.6" fill="#c6c6c6"/><circle cx="422.3" cy="434.5" r="0.6" fill="#c6c6c6"/><circle cx="423.6" cy="436.6" r="0.6" fill="#c6c6c6"/><circle cx="429.0" cy="442.7" r="0.6" fill="#c6c6c6"/><circle cx="420.8" cy="409.6" r="0.6" fill="#c6c6c6"/><circle cx="425.6" cy="433.8" r="0.6" fill="#c6c6c6"/><circle cx="430.6" cy="414.4" r="0.6" fill="#c6c6c6"/><circle cx="428.8" cy="433.3" r="0.6" fill="#c6c6c6"/><circle cx="428.3" cy="415.7" r="0.6" fill="#c6c6c6"/><circle cx="426.8" cy="436.3" r="0.6" fill="#c6c6c6"/><circle cx="422.9" cy="410.0" r="0.6" fill="#c6c6c6"/><circle cx="425.1" cy="409.0" r="0.6" fill="#c6c6c6"/><circle cx="426.4" cy="432.2" r="0.6" fill="#c6c6c6"/><circle cx="428.1" cy="410.5" r="0.6" fill="#c6c6c6"/><circle cx="428.1" cy="432.4" r="0.6" fill="#c6c6c6"/><circle cx="425.8" cy="417.1" r="0.6" fill="#c6c6c6"/><circle cx="422.8" cy="413.5" r="0.6" fill="#c6c6c6"/><circle cx="422.2" cy="434.0" r="0.6" fill="#c6c6c6"/><circle cx="418.9" cy="445.5" r="0.6" fill="#c6c6c6"/><circle cx="424.1" cy="432.1" r="0.6" fill="#c6c6c6"/><circle cx="432.3" cy="411.9" r="0.6" fill="#c6c6c6"/><circle cx="431.1" cy="413.0" r="0.6" fill="#c6c6c6"/><circle cx="433.6" cy="430.6" r="0.6" fill="#c6c6c6"/><circle cx="435.2" cy="434.0" r="0.6" fill="#c6c6c6"/><circle cx="417.4" cy="432.6" r="0.6" fill="#c6c6c6"/><circle cx="430.1" cy="408.9" r="0.6" fill="#c6c6c6"/><circle cx="418.2" cy="431.4" r="0.6" fill="#c6c6c6"/><circle cx="418.0" cy="436.6" r="0.6" fill="#c6c6c6"/><circle cx="429.1" cy="415.3" r="0.6" fill="#c6c6c6"/><circle cx="433.8" cy="399.1" r="0.6" fill="#c6c6c6"/><circle cx="421.0" cy="433.7" r="0.6" fill="#c6c6c6"/><circle cx="424.9" cy="402.9" r="0.6" fill="#c6c6c6"/><circle cx="432.0" cy="404.8" r="0.6" fill="#c6c6c6"/><circle cx="424.3" cy="431.2" r="0.6" fill="#c6c6c6"/><circle cx="430.4" cy="433.0" r="0.6" fill="#c6c6c6"/><circle cx="419.9" cy="410.9" r="0.6" fill="#c6c6c6"/><circle cx="423.0" cy="417.2" r="0.6" fill="#c6c6c6"/><circle cx="426.2" cy="404.7" r="0.6" fill="#c6c6c6"/><circle cx="428.9" cy="434.5" r="0.6" fill="#c6c6c6"/><circle cx="426.2" cy="430.4" r="0.6" fill="#c6c6c6"/><circle cx="429.2" cy="410.5" r="0.6" fill="#c6c6c6"/><circle cx="433.3" cy="396.4" r="0.6" fill="#c6c6c6"/><circle cx="426.9" cy="446.3" r="0.6" fill="#c6c6c6"/><circle cx="427.3" cy="413.6" r="0.6" fill="#c6c6c6"/><circle cx="427.9" cy="448.9" r="0.6" fill="#c6c6c6"/><circle cx="423.8" cy="417.2" r="0.6" fill="#c6c6c6"/><circle cx="427.0" cy="442.8" r="0.6" fill="#c6c6c6"/><circle cx="427.5" cy="408.6" r="0.6" fill="#c6c6c6"/><circle cx="421.5" cy="416.3" r="0.6" fill="#c6c6c6"/><circle cx="423.2" cy="405.2" r="0.6" fill="#c6c6c6"/><circle cx="423.8" cy="416.0" r="0.6" fill="#c6c6c6"/><circle cx="422.7" cy="412.5" r="0.6" fill="#c6c6c6"/><circle cx="431.5" cy="434.5" r="0.6" fill="#c6c6c6"/><circle cx="427.3" cy="416.1" r="0.6" fill="#c6c6c6"/><circle cx="423.4" cy="412.4" r="0.6" fill="#c6c6c6"/><circle cx="418.0" cy="408.9" r="0.6" fill="#c6c6c6"/><circle cx="427.7" cy="414.2" r="0.6" fill="#c6c6c6"/><circle cx="426.9" cy="436.4" r="0.6" fill="#c6c6c6"/><circle cx="427.1" cy="414.4" r="0.6" fill="#c6c6c6"/><circle cx="422.9" cy="443.9" r="0.6" fill="#c6c6c6"/><circle cx="424.7" cy="408.8" r="0.6" fill="#c6c6c6"/><circle cx="417.2" cy="415.2" r="0.6" fill="#c6c6c6"/><circle cx="431.0" cy="448.5" r="0.6" fill="#c6c6c6"/><circle cx="438.7" cy="412.7" r="0.6" fill="#c6c6c6"/><circle cx="430.1" cy="430.3" r="0.6" fill="#c6c6c6"/><circle cx="429.8" cy="412.8" r="0.6" fill="#c6c6c6"/><circle cx="430.8" cy="406.7" r="0.6" fill="#c6c6c6"/><circle cx="435.1" cy="440.6" r="0.6" fill="#c6c6c6"/><circle cx="430.7" cy="415.7" r="0.6" fill="#c6c6c6"/><circle cx="415.4" cy="440.4" r="0.6" fill="#c6c6c6"/><circle cx="427.4" cy="414.9" r="0.6" fill="#c6c6c6"/><circle cx="426.0" cy="410.0" r="0.6" fill="#c6c6c6"/><circle cx="428.2" cy="416.9" r="0.6" fill="#c6c6c6"/><circle cx="421.4" cy="432.6" r="0.6" fill="#c6c6c6"/><circle cx="426.3" cy="431.6" r="0.6" fill="#c6c6c6"/><circle cx="423.4" cy="409.1" r="0.6" fill="#c6c6c6"/><circle cx="426.3" cy="415.1" r="0.6" fill="#c6c6c6"/><circle cx="425.8" cy="413.8" r="0.6" fill="#c6c6c6"/><circle cx="425.5" cy="430.2" r="0.6" fill="#c6c6c6"/><circle cx="422.9" cy="437.4" r="0.6" fill="#c6c6c6"/><circle cx="429.0" cy="430.6" r="0.6" fill="#c6c6c6"/><circle cx="420.7" cy="414.4" r="0.6" fill="#c6c6c6"/><circle cx="426.6" cy="440.5" r="0.6" fill="#c6c6c6"/><circle cx="432.4" cy="446.1" r="0.6" fill="#c6c6c6"/><circle cx="423.8" cy="438.8" r="0.6" fill="#c6c6c6"/><circle cx="420.8" cy="435.2" r="0.6" fill="#c6c6c6"/><circle cx="427.7" cy="432.3" r="0.6" fill="#c6c6c6"/><circle cx="421.2" cy="438.0" r="0.6" fill="#c6c6c6"/><circle cx="432.3" cy="414.9" r="0.6" fill="#c6c6c6"/><circle cx="429.6" cy="431.7" r="0.6" fill="#c6c6c6"/><circle cx="432.1" cy="406.3" r="0.6" fill="#c6c6c6"/><circle cx="426.1" cy="437.6" r="0.6" fill="#c6c6c6"/><circle cx="430.4" cy="430.3" r="0.6" fill="#c6c6c6"/><circle cx="433.3" cy="407.4" r="0.6" fill="#c6c6c6"/><circle cx="433.9" cy="436.8" r="0.6" fill="#c6c6c6"/><circle cx="438.1" cy="437.7" r="0.6" fill="#c6c6c6"/><circle cx="432.5" cy="415.9" r="0.6" fill="#c6c6c6"/><circle cx="435.4" cy="441.2" r="0.6" fill="#c6c6c6"/><circle cx="430.7" cy="411.2" r="0.6" fill="#c6c6c6"/><circle cx="425.4" cy="414.2" r="0.6" fill="#c6c6c6"/><circle cx="421.5" cy="412.6" r="0.6" fill="#c6c6c6"/><circle cx="416.1" cy="441.9" r="0.6" fill="#c6c6c6"/><circle cx="434.9" cy="408.8" r="0.6" fill="#c6c6c6"/><circle cx="426.8" cy="439.8" r="0.6" fill="#c6c6c6"/><circle cx="422.7" cy="435.1" r="0.6" fill="#c6c6c6"/><circle cx="426.2" cy="416.4" r="0.6" fill="#c6c6c6"/><circle cx="428.7" cy="443.9" r="0.6" fill="#c6c6c6"/><circle cx="430.4" cy="416.3" r="0.6" fill="#c6c6c6"/><circle cx="429.2" cy="399.6" r="0.6" fill="#c6c6c6"/><circle cx="437.7" cy="443.9" r="0.6" fill="#c6c6c6"/><circle cx="425.3" cy="439.8" r="0.6" fill="#c6c6c6"/><circle cx="427.3" cy="407.5" r="0.6" fill="#c6c6c6"/><circle cx="418.8" cy="415.9" r="0.6" fill="#c6c6c6"/><circle cx="424.6" cy="433.8" r="0.6" fill="#c6c6c6"/><circle cx="427.5" cy="436.2" r="0.6" fill="#c6c6c6"/><circle cx="438.1" cy="436.2" r="0.6" fill="#c6c6c6"/><circle cx="432.3" cy="443.4" r="0.6" fill="#c6c6c6"/><circle cx="434.3" cy="436.5" r="0.6" fill="#c6c6c6"/><circle cx="427.4" cy="415.7" r="0.6" fill="#c6c6c6"/><circle cx="425.8" cy="440.2" r="0.6" fill="#c6c6c6"/><circle cx="432.4" cy="430.6" r="0.6" fill="#c6c6c6"/><circle cx="422.4" cy="406.3" r="0.6" fill="#c6c6c6"/><circle cx="425.3" cy="432.6" r="0.6" fill="#c6c6c6"/><circle cx="425.0" cy="402.3" r="0.6" fill="#c6c6c6"/><circle cx="428.2" cy="439.3" r="0.6" fill="#c6c6c6"/><circle cx="424.1" cy="416.7" r="0.6" fill="#c6c6c6"/><circle cx="423.4" cy="414.0" r="0.6" fill="#c6c6c6"/><circle cx="427.6" cy="439.0" r="0.6" fill="#c6c6c6"/><circle cx="433.4" cy="411.1" r="0.6" fill="#c6c6c6"/><circle cx="431.5" cy="439.0" r="0.6" fill="#c6c6c6"/><circle cx="428.2" cy="407.3" r="0.7" fill="#c6c6c6"/><circle cx="424.4" cy="402.7" r="0.7" fill="#c6c6c6"/><circle cx="428.9" cy="402.4" r="0.7" fill="#c6c6c6"/><circle cx="429.1" cy="416.4" r="0.7" fill="#c6c6c6"/><circle cx="429.0" cy="411.4" r="0.7" fill="#c6c6c6"/><circle cx="430.9" cy="417.1" r="0.7" fill="#c6c6c6"/><circle cx="430.9" cy="417.6" r="0.7" fill="#c6c6c6"/><circle cx="426.1" cy="401.7" r="0.7" fill="#c6c6c6"/><circle cx="428.2" cy="411.9" r="0.7" fill="#c6c6c6"/><circle cx="431.6" cy="411.5" r="0.7" fill="#c6c6c6"/><circle cx="424.8" cy="401.6" r="0.7" fill="#c6c6c6"/><circle cx="431.2" cy="411.7" r="0.7" fill="#c6c6c6"/><circle cx="433.3" cy="411.2" r="0.7" fill="#c6c6c6"/><circle cx="431.5" cy="414.1" r="0.7" fill="#c6c6c6"/><circle cx="433.4" cy="409.0" r="0.7" fill="#c6c6c6"/><circle cx="432.1" cy="408.0" r="0.7" fill="#c6c6c6"/><circle cx="420.0" cy="406.8" r="0.7" fill="#c6c6c6"/><circle cx="424.6" cy="417.7" r="0.7" fill="#c6c6c6"/><circle cx="425.2" cy="406.0" r="0.7" fill="#c6c6c6"/><circle cx="429.3" cy="403.1" r="0.7" fill="#c6c6c6"/><circle cx="424.0" cy="407.9" r="0.7" fill="#c6c6c6"/><circle cx="421.5" cy="411.2" r="0.7" fill="#c6c6c6"/><circle cx="425.6" cy="414.6" r="0.7" fill="#c6c6c6"/><circle cx="424.5" cy="417.4" r="0.7" fill="#c6c6c6"/><circle cx="422.5" cy="410.2" r="0.7" fill="#c6c6c6"/><circle cx="422.9" cy="401.7" r="0.7" fill="#c6c6c6"/><circle cx="423.9" cy="416.1" r="0.7" fill="#c6c6c6"/><circle cx="423.8" cy="409.5" r="0.7" fill="#c6c6c6"/><circle cx="427.0" cy="405.8" r="0.7" fill="#c6c6c6"/><circle cx="427.1" cy="402.6" r="0.7" fill="#c6c6c6"/><circle cx="424.6" cy="406.1" r="0.7" fill="#c6c6c6"/><circle cx="431.0" cy="414.1" r="0.7" fill="#c6c6c6"/><circle cx="429.4" cy="411.2" r="0.7" fill="#c6c6c6"/><circle cx="431.7" cy="413.6" r="0.7" fill="#c6c6c6"/><circle cx="420.6" cy="403.6" r="0.7" fill="#c6c6c6"/><circle cx="430.0" cy="415.2" r="0.7" fill="#c6c6c6"/><circle cx="433.4" cy="414.1" r="0.7" fill="#c6c6c6"/><circle cx="422.0" cy="410.7" r="0.7" fill="#c6c6c6"/><circle cx="428.4" cy="411.4" r="0.7" fill="#c6c6c6"/><circle cx="421.6" cy="417.3" r="0.7" fill="#c6c6c6"/><circle cx="426.8" cy="405.9" r="0.7" fill="#c6c6c6"/><circle cx="433.2" cy="407.8" r="0.7" fill="#c6c6c6"/><circle cx="420.8" cy="412.4" r="0.7" fill="#c6c6c6"/><circle cx="423.4" cy="405.1" r="0.7" fill="#c6c6c6"/><circle cx="423.9" cy="411.4" r="0.7" fill="#c6c6c6"/><circle cx="424.2" cy="412.3" r="0.7" fill="#c6c6c6"/><circle cx="432.2" cy="417.7" r="0.7" fill="#c6c6c6"/><circle cx="432.0" cy="416.5" r="0.7" fill="#c6c6c6"/><circle cx="423.3" cy="414.9" r="0.7" fill="#c6c6c6"/><circle cx="421.0" cy="411.0" r="0.7" fill="#c6c6c6"/><circle cx="420.8" cy="403.1" r="0.7" fill="#c6c6c6"/><circle cx="432.8" cy="403.6" r="0.7" fill="#c6c6c6"/><circle cx="429.6" cy="410.1" r="0.7" fill="#c6c6c6"/><circle cx="419.8" cy="414.4" r="0.7" fill="#c6c6c6"/><circle cx="420.6" cy="416.0" r="0.7" fill="#c6c6c6"/><circle cx="431.0" cy="409.6" r="0.7" fill="#c6c6c6"/><circle cx="425.9" cy="402.0" r="0.7" fill="#c6c6c6"/><circle cx="429.4" cy="402.1" r="0.7" fill="#c6c6c6"/><circle cx="427.0" cy="416.6" r="0.7" fill="#c6c6c6"/><circle cx="429.1" cy="403.4" r="0.7" fill="#c6c6c6"/><circle cx="429.7" cy="412.9" r="0.7" fill="#c6c6c6"/><circle cx="424.3" cy="414.1" r="0.7" fill="#c6c6c6"/><circle cx="427.7" cy="408.2" r="0.7" fill="#c6c6c6"/><circle cx="427.0" cy="406.0" r="0.7" fill="#c6c6c6"/><circle cx="423.7" cy="416.0" r="0.7" fill="#c6c6c6"/><circle cx="424.6" cy="414.1" r="0.7" fill="#c6c6c6"/><circle cx="424.8" cy="404.6" r="0.7" fill="#c6c6c6"/><circle cx="419.8" cy="417.2" r="0.7" fill="#c6c6c6"/><circle cx="430.1" cy="417.5" r="0.7" fill="#c6c6c6"/><circle cx="427.9" cy="402.5" r="0.7" fill="#c6c6c6"/><circle cx="422.0" cy="402.3" r="0.7" fill="#c6c6c6"/><circle cx="428.2" cy="411.6" r="0.7" fill="#c6c6c6"/><circle cx="432.9" cy="406.3" r="0.7" fill="#c6c6c6"/><circle cx="423.0" cy="405.1" r="0.7" fill="#c6c6c6"/><circle cx="421.8" cy="402.0" r="0.7" fill="#c6c6c6"/><circle cx="426.6" cy="408.3" r="0.7" fill="#c6c6c6"/><circle cx="424.8" cy="417.0" r="0.7" fill="#c6c6c6"/><circle cx="424.1" cy="415.0" r="0.7" fill="#c6c6c6"/><circle cx="427.1" cy="403.2" r="0.7" fill="#c6c6c6"/><circle cx="420.2" cy="411.4" r="0.7" fill="#c6c6c6"/><circle cx="431.8" cy="402.3" r="0.7" fill="#c6c6c6"/><circle cx="429.4" cy="405.3" r="0.7" fill="#c6c6c6"/><circle cx="429.2" cy="415.1" r="0.7" fill="#c6c6c6"/><circle cx="429.8" cy="405.5" r="0.7" fill="#c6c6c6"/><circle cx="421.9" cy="417.3" r="0.7" fill="#c6c6c6"/><circle cx="432.3" cy="416.6" r="0.7" fill="#c6c6c6"/><circle cx="427.2" cy="402.3" r="0.7" fill="#c6c6c6"/><circle cx="424.9" cy="416.3" r="0.7" fill="#c6c6c6"/><circle cx="420.7" cy="406.3" r="0.7" fill="#c6c6c6"/><circle cx="420.4" cy="415.9" r="0.7" fill="#c6c6c6"/><circle cx="424.6" cy="402.8" r="0.7" fill="#c6c6c6"/><circle cx="424.7" cy="404.8" r="0.7" fill="#c6c6c6"/><circle cx="425.7" cy="411.5" r="0.7" fill="#c6c6c6"/><circle cx="428.8" cy="403.1" r="0.7" fill="#c6c6c6"/><circle cx="427.1" cy="402.4" r="0.7" fill="#c6c6c6"/><circle cx="425.8" cy="414.7" r="0.7" fill="#c6c6c6"/><circle cx="423.4" cy="414.9" r="0.7" fill="#c6c6c6"/><circle cx="423.1" cy="407.9" r="0.7" fill="#c6c6c6"/><circle cx="430.7" cy="401.6" r="0.7" fill="#c6c6c6"/><circle cx="427.4" cy="410.2" r="0.7" fill="#c6c6c6"/><circle cx="429.6" cy="417.0" r="0.7" fill="#c6c6c6"/><circle cx="429.3" cy="405.1" r="0.7" fill="#c6c6c6"/><circle cx="422.5" cy="409.4" r="0.7" fill="#c6c6c6"/><circle cx="423.7" cy="410.5" r="0.7" fill="#c6c6c6"/><circle cx="421.0" cy="412.8" r="0.7" fill="#c6c6c6"/><circle cx="425.5" cy="402.3" r="0.7" fill="#c6c6c6"/><circle cx="421.5" cy="416.7" r="0.7" fill="#c6c6c6"/><circle cx="431.4" cy="415.9" r="0.7" fill="#c6c6c6"/><circle cx="425.1" cy="417.5" r="0.7" fill="#c6c6c6"/><circle cx="422.1" cy="413.3" r="0.7" fill="#c6c6c6"/><circle cx="432.7" cy="404.9" r="0.7" fill="#c6c6c6"/><circle cx="419.9" cy="403.6" r="0.7" fill="#c6c6c6"/><circle cx="420.9" cy="414.6" r="0.7" fill="#c6c6c6"/><circle cx="428.1" cy="409.3" r="0.7" fill="#c6c6c6"/><circle cx="421.4" cy="412.0" r="0.7" fill="#c6c6c6"/><circle cx="421.7" cy="403.7" r="0.7" fill="#c6c6c6"/><circle cx="427.9" cy="412.0" r="0.7" fill="#c6c6c6"/><circle cx="430.8" cy="415.0" r="0.7" fill="#c6c6c6"/><circle cx="421.7" cy="406.5" r="0.7" fill="#c6c6c6"/><circle cx="421.8" cy="409.5" r="0.7" fill="#c6c6c6"/><circle cx="420.2" cy="415.6" r="0.7" fill="#c6c6c6"/><circle cx="429.1" cy="414.7" r="0.7" fill="#c6c6c6"/><circle cx="426.5" cy="416.4" r="0.7" fill="#c6c6c6"/><circle cx="431.2" cy="415.0" r="0.7" fill="#c6c6c6"/><circle cx="430.8" cy="405.0" r="0.7" fill="#c6c6c6"/><circle cx="424.5" cy="402.4" r="0.7" fill="#c6c6c6"/><circle cx="430.3" cy="409.2" r="0.7" fill="#c6c6c6"/><circle cx="433.3" cy="406.2" r="0.7" fill="#c6c6c6"/><circle cx="425.7" cy="415.6" r="0.7" fill="#c6c6c6"/><circle cx="433.1" cy="413.8" r="0.7" fill="#c6c6c6"/><circle cx="431.9" cy="416.6" r="0.7" fill="#c6c6c6"/><circle cx="423.5" cy="411.6" r="0.7" fill="#c6c6c6"/><circle cx="420.7" cy="412.5" r="0.7" fill="#c6c6c6"/><circle cx="432.8" cy="409.7" r="0.7" fill="#c6c6c6"/><circle cx="421.8" cy="410.8" r="0.7" fill="#c6c6c6"/><circle cx="420.7" cy="409.0" r="0.7" fill="#c6c6c6"/><circle cx="420.9" cy="408.3" r="0.7" fill="#c6c6c6"/><circle cx="431.0" cy="413.6" r="0.7" fill="#c6c6c6"/><circle cx="431.5" cy="409.0" r="0.7" fill="#c6c6c6"/><circle cx="425.8" cy="402.4" r="0.7" fill="#c6c6c6"/><circle cx="430.6" cy="410.8" r="0.7" fill="#c6c6c6"/><circle cx="425.4" cy="403.9" r="0.7" fill="#c6c6c6"/><circle cx="426.1" cy="402.5" r="0.7" fill="#c6c6c6"/><circle cx="421.4" cy="402.8" r="0.7" fill="#c6c6c6"/><circle cx="425.6" cy="403.7" r="0.7" fill="#c6c6c6"/><circle cx="431.1" cy="411.4" r="0.7" fill="#c6c6c6"/><circle cx="431.7" cy="410.5" r="0.7" fill="#c6c6c6"/><circle cx="422.0" cy="406.0" r="0.7" fill="#c6c6c6"/><circle cx="431.3" cy="411.0" r="0.7" fill="#c6c6c6"/><circle cx="428.7" cy="411.8" r="0.7" fill="#c6c6c6"/><circle cx="420.5" cy="404.8" r="0.7" fill="#c6c6c6"/><circle cx="425.7" cy="415.3" r="0.7" fill="#c6c6c6"/><circle cx="432.7" cy="411.1" r="0.7" fill="#c6c6c6"/><circle cx="423.4" cy="402.3" r="0.7" fill="#c6c6c6"/><circle cx="427.5" cy="408.2" r="0.7" fill="#c6c6c6"/><circle cx="432.6" cy="404.9" r="0.7" fill="#c6c6c6"/><circle cx="422.6" cy="401.8" r="0.7" fill="#c6c6c6"/><circle cx="420.2" cy="414.7" r="0.7" fill="#c6c6c6"/><circle cx="431.7" cy="404.0" r="0.7" fill="#c6c6c6"/><circle cx="420.0" cy="410.9" r="0.7" fill="#c6c6c6"/><circle cx="423.2" cy="411.5" r="0.7" fill="#c6c6c6"/><circle cx="432.3" cy="413.7" r="0.7" fill="#c6c6c6"/><circle cx="423.6" cy="411.4" r="0.7" fill="#c6c6c6"/><circle cx="423.8" cy="413.9" r="0.7" fill="#c6c6c6"/><circle cx="423.3" cy="415.7" r="0.7" fill="#c6c6c6"/><circle cx="429.1" cy="416.0" r="0.7" fill="#c6c6c6"/><circle cx="424.5" cy="417.1" r="0.7" fill="#c6c6c6"/><circle cx="427.8" cy="405.7" r="0.7" fill="#c6c6c6"/><circle cx="428.7" cy="406.6" r="0.7" fill="#c6c6c6"/><circle cx="421.4" cy="402.1" r="0.7" fill="#c6c6c6"/><circle cx="428.2" cy="405.4" r="0.7" fill="#c6c6c6"/><circle cx="421.2" cy="414.2" r="0.7" fill="#c6c6c6"/><circle cx="421.7" cy="413.8" r="0.7" fill="#c6c6c6"/><circle cx="423.5" cy="407.4" r="0.7" fill="#c6c6c6"/><circle cx="432.6" cy="415.0" r="0.7" fill="#c6c6c6"/><circle cx="431.2" cy="417.5" r="0.7" fill="#c6c6c6"/><circle cx="428.1" cy="416.7" r="0.7" fill="#c6c6c6"/><circle cx="428.3" cy="411.0" r="0.7" fill="#c6c6c6"/><circle cx="424.2" cy="407.7" r="0.7" fill="#c6c6c6"/><circle cx="427.6" cy="405.5" r="0.7" fill="#c6c6c6"/><circle cx="428.6" cy="415.6" r="0.7" fill="#c6c6c6"/><circle cx="429.7" cy="405.2" r="0.7" fill="#c6c6c6"/><circle cx="420.2" cy="407.5" r="0.7" fill="#c6c6c6"/><circle cx="425.7" cy="415.3" r="0.7" fill="#c6c6c6"/><circle cx="427.3" cy="409.9" r="0.7" fill="#c6c6c6"/><circle cx="428.1" cy="410.5" r="0.7" fill="#c6c6c6"/><circle cx="429.1" cy="410.6" r="0.7" fill="#c6c6c6"/><circle cx="427.4" cy="405.3" r="0.7" fill="#c6c6c6"/><circle cx="421.5" cy="408.7" r="0.7" fill="#c6c6c6"/><circle cx="431.9" cy="416.9" r="0.7" fill="#c6c6c6"/><circle cx="423.8" cy="410.9" r="0.7" fill="#c6c6c6"/><circle cx="426.9" cy="408.9" r="0.7" fill="#c6c6c6"/><circle cx="422.2" cy="414.4" r="0.7" fill="#c6c6c6"/><circle cx="421.0" cy="405.2" r="0.7" fill="#c6c6c6"/><circle cx="423.6" cy="404.8" r="0.7" fill="#c6c6c6"/><circle cx="422.4" cy="402.8" r="0.7" fill="#c6c6c6"/><circle cx="427.0" cy="404.3" r="0.7" fill="#c6c6c6"/><circle cx="428.6" cy="411.3" r="0.7" fill="#c6c6c6"/><circle cx="428.4" cy="409.3" r="0.7" fill="#c6c6c6"/><circle cx="428.2" cy="406.3" r="0.7" fill="#c6c6c6"/><circle cx="426.2" cy="412.7" r="0.7" fill="#c6c6c6"/><circle cx="422.8" cy="413.5" r="0.7" fill="#c6c6c6"/><circle cx="427.8" cy="417.4" r="0.7" fill="#c6c6c6"/><circle cx="428.2" cy="410.4" r="0.7" fill="#c6c6c6"/><circle cx="430.3" cy="406.2" r="0.7" fill="#c6c6c6"/><circle cx="424.9" cy="408.5" r="0.7" fill="#c6c6c6"/><circle cx="429.9" cy="413.2" r="0.7" fill="#c6c6c6"/><circle cx="422.3" cy="417.1" r="0.7" fill="#c6c6c6"/><circle cx="433.3" cy="409.6" r="0.7" fill="#c6c6c6"/><circle cx="433.4" cy="411.6" r="0.7" fill="#c6c6c6"/><circle cx="425.1" cy="402.9" r="0.7" fill="#c6c6c6"/><circle cx="420.0" cy="411.1" r="0.7" fill="#c6c6c6"/><circle cx="429.6" cy="411.5" r="0.7" fill="#c6c6c6"/><circle cx="430.5" cy="408.6" r="0.7" fill="#c6c6c6"/><circle cx="430.0" cy="411.3" r="0.7" fill="#c6c6c6"/><circle cx="428.5" cy="410.4" r="0.7" fill="#c6c6c6"/><circle cx="428.9" cy="410.6" r="0.7" fill="#c6c6c6"/><circle cx="421.0" cy="412.5" r="0.7" fill="#c6c6c6"/><circle cx="429.4" cy="408.5" r="0.7" fill="#c6c6c6"/><circle cx="433.1" cy="409.3" r="0.7" fill="#c6c6c6"/><circle cx="422.1" cy="409.8" r="0.7" fill="#c6c6c6"/><circle cx="424.7" cy="404.2" r="0.7" fill="#c6c6c6"/><circle cx="432.0" cy="404.4" r="0.7" fill="#c6c6c6"/><circle cx="429.6" cy="404.3" r="0.7" fill="#c6c6c6"/><circle cx="426.9" cy="417.7" r="0.7" fill="#c6c6c6"/><circle cx="421.0" cy="415.5" r="0.7" fill="#c6c6c6"/><circle cx="419.9" cy="417.4" r="0.7" fill="#c6c6c6"/><circle cx="432.2" cy="408.8" r="0.7" fill="#c6c6c6"/><circle cx="428.5" cy="409.0" r="0.7" fill="#c6c6c6"/><circle cx="422.0" cy="407.3" r="0.7" fill="#c6c6c6"/><circle cx="425.8" cy="415.7" r="0.7" fill="#c6c6c6"/><circle cx="421.4" cy="410.3" r="0.7" fill="#c6c6c6"/><circle cx="426.3" cy="410.5" r="0.7" fill="#c6c6c6"/><circle cx="430.7" cy="411.3" r="0.7" fill="#c6c6c6"/><circle cx="424.2" cy="417.1" r="0.7" fill="#c6c6c6"/><circle cx="428.0" cy="405.9" r="0.7" fill="#c6c6c6"/><circle cx="427.3" cy="415.6" r="0.7" fill="#c6c6c6"/><circle cx="420.4" cy="412.1" r="0.7" fill="#c6c6c6"/><circle cx="426.5" cy="406.2" r="0.7" fill="#c6c6c6"/><circle cx="422.0" cy="405.3" r="0.7" fill="#c6c6c6"/><circle cx="425.8" cy="408.4" r="0.7" fill="#c6c6c6"/><circle cx="428.0" cy="405.9" r="0.7" fill="#c6c6c6"/><circle cx="428.3" cy="409.2" r="0.7" fill="#c6c6c6"/><circle cx="430.7" cy="414.6" r="0.7" fill="#c6c6c6"/><circle cx="423.0" cy="417.4" r="0.7" fill="#c6c6c6"/><circle cx="427.3" cy="407.0" r="0.7" fill="#c6c6c6"/><circle cx="423.3" cy="413.1" r="0.7" fill="#c6c6c6"/><circle cx="425.8" cy="412.6" r="0.7" fill="#c6c6c6"/><circle cx="423.3" cy="415.5" r="0.7" fill="#c6c6c6"/><circle cx="423.4" cy="415.7" r="0.7" fill="#c6c6c6"/><circle cx="425.8" cy="408.0" r="0.7" fill="#c6c6c6"/><circle cx="427.7" cy="410.0" r="0.7" fill="#c6c6c6"/><circle cx="427.3" cy="410.6" r="0.7" fill="#c6c6c6"/><circle cx="432.8" cy="413.6" r="0.7" fill="#c6c6c6"/><circle cx="421.1" cy="417.6" r="0.7" fill="#c6c6c6"/><circle cx="420.0" cy="402.4" r="0.7" fill="#c6c6c6"/><circle cx="431.0" cy="406.0" r="0.7" fill="#c6c6c6"/><circle cx="420.2" cy="404.4" r="0.7" fill="#c6c6c6"/><circle cx="426.6" cy="415.3" r="0.7" fill="#c6c6c6"/><circle cx="420.1" cy="404.2" r="0.7" fill="#c6c6c6"/><circle cx="421.0" cy="431.7" r="0.7" fill="#c6c6c6"/><circle cx="424.8" cy="437.5" r="0.7" fill="#c6c6c6"/><circle cx="433.1" cy="439.6" r="0.7" fill="#c6c6c6"/><circle cx="431.7" cy="438.8" r="0.7" fill="#c6c6c6"/><circle cx="432.4" cy="439.9" r="0.7" fill="#c6c6c6"/><circle cx="423.8" cy="435.9" r="0.7" fill="#c6c6c6"/><circle cx="426.9" cy="432.5" r="0.7" fill="#c6c6c6"/><circle cx="432.5" cy="437.4" r="0.7" fill="#c6c6c6"/><circle cx="423.3" cy="437.5" r="0.7" fill="#c6c6c6"/><circle cx="431.0" cy="434.6" r="0.7" fill="#c6c6c6"/><circle cx="428.3" cy="432.2" r="0.7" fill="#c6c6c6"/><circle cx="423.9" cy="433.5" r="0.7" fill="#c6c6c6"/><circle cx="427.2" cy="440.1" r="0.7" fill="#c6c6c6"/><circle cx="423.7" cy="440.1" r="0.7" fill="#c6c6c6"/><circle cx="428.2" cy="440.9" r="0.7" fill="#c6c6c6"/><circle cx="433.4" cy="435.4" r="0.7" fill="#c6c6c6"/><circle cx="433.5" cy="437.0" r="0.7" fill="#c6c6c6"/><circle cx="427.3" cy="433.3" r="0.7" fill="#c6c6c6"/><circle cx="421.9" cy="439.5" r="0.7" fill="#c6c6c6"/><circle cx="422.1" cy="431.5" r="0.7" fill="#c6c6c6"/><circle cx="421.9" cy="438.2" r="0.7" fill="#c6c6c6"/><circle cx="423.3" cy="434.5" r="0.7" fill="#c6c6c6"/><circle cx="430.5" cy="436.9" r="0.7" fill="#c6c6c6"/><circle cx="422.7" cy="440.0" r="0.7" fill="#c6c6c6"/><circle cx="433.4" cy="439.2" r="0.7" fill="#c6c6c6"/><circle cx="426.5" cy="438.1" r="0.7" fill="#c6c6c6"/><circle cx="429.7" cy="442.1" r="0.7" fill="#c6c6c6"/><circle cx="430.8" cy="434.3" r="0.7" fill="#c6c6c6"/><circle cx="430.7" cy="432.4" r="0.7" fill="#c6c6c6"/><circle cx="422.4" cy="437.7" r="0.7" fill="#c6c6c6"/><circle cx="423.1" cy="438.4" r="0.7" fill="#c6c6c6"/><circle cx="424.4" cy="443.5" r="0.7" fill="#c6c6c6"/><circle cx="426.3" cy="441.8" r="0.7" fill="#c6c6c6"/><circle cx="432.8" cy="437.0" r="0.7" fill="#c6c6c6"/><circle cx="430.6" cy="437.5" r="0.7" fill="#c6c6c6"/><circle cx="425.9" cy="432.6" r="0.7" fill="#c6c6c6"/><circle cx="429.2" cy="443.2" r="0.7" fill="#c6c6c6"/><circle cx="429.5" cy="435.2" r="0.7" fill="#c6c6c6"/><circle cx="427.5" cy="435.7" r="0.7" fill="#c6c6c6"/><circle cx="425.8" cy="441.2" r="0.7" fill="#c6c6c6"/><circle cx="420.9" cy="437.4" r="0.7" fill="#c6c6c6"/><circle cx="427.3" cy="432.9" r="0.7" fill="#c6c6c6"/><circle cx="430.1" cy="434.3" r="0.7" fill="#c6c6c6"/><circle cx="425.9" cy="434.3" r="0.7" fill="#c6c6c6"/><circle cx="428.4" cy="436.7" r="0.7" fill="#c6c6c6"/><circle cx="429.5" cy="436.6" r="0.7" fill="#c6c6c6"/><circle cx="430.8" cy="438.3" r="0.7" fill="#c6c6c6"/><circle cx="422.1" cy="437.5" r="0.7" fill="#c6c6c6"/><circle cx="424.0" cy="434.9" r="0.7" fill="#c6c6c6"/><circle cx="432.8" cy="437.3" r="0.7" fill="#c6c6c6"/><circle cx="430.2" cy="433.1" r="0.7" fill="#c6c6c6"/><circle cx="428.8" cy="432.6" r="0.7" fill="#c6c6c6"/><circle cx="423.6" cy="432.7" r="0.7" fill="#c6c6c6"/><circle cx="421.1" cy="443.0" r="0.7" fill="#c6c6c6"/><circle cx="433.0" cy="435.9" r="0.7" fill="#c6c6c6"/><circle cx="421.0" cy="440.7" r="0.7" fill="#c6c6c6"/><circle cx="429.2" cy="431.6" r="0.7" fill="#c6c6c6"/><circle cx="430.5" cy="431.9" r="0.7" fill="#c6c6c6"/><circle cx="423.8" cy="441.3" r="0.7" fill="#c6c6c6"/><circle cx="430.5" cy="434.1" r="0.7" fill="#c6c6c6"/><circle cx="427.3" cy="441.6" r="0.7" fill="#c6c6c6"/><circle cx="428.5" cy="437.9" r="0.7" fill="#c6c6c6"/><circle cx="423.1" cy="431.9" r="0.7" fill="#c6c6c6"/><circle cx="423.2" cy="437.9" r="0.7" fill="#c6c6c6"/><circle cx="428.4" cy="437.1" r="0.7" fill="#c6c6c6"/><circle cx="428.9" cy="438.4" r="0.7" fill="#c6c6c6"/><circle cx="429.0" cy="436.4" r="0.7" fill="#c6c6c6"/><circle cx="431.5" cy="438.0" r="0.7" fill="#c6c6c6"/><circle cx="432.0" cy="444.0" r="0.7" fill="#c6c6c6"/><circle cx="431.3" cy="441.2" r="0.7" fill="#c6c6c6"/><circle cx="429.6" cy="438.3" r="0.7" fill="#c6c6c6"/><circle cx="423.9" cy="432.4" r="0.7" fill="#c6c6c6"/><circle cx="429.2" cy="434.3" r="0.7" fill="#c6c6c6"/><circle cx="428.6" cy="438.3" r="0.7" fill="#c6c6c6"/><circle cx="428.5" cy="436.7" r="0.7" fill="#c6c6c6"/><circle cx="423.8" cy="435.0" r="0.7" fill="#c6c6c6"/><circle cx="429.6" cy="442.7" r="0.7" fill="#c6c6c6"/><circle cx="424.8" cy="435.1" r="0.7" fill="#c6c6c6"/><circle cx="426.5" cy="436.7" r="0.7" fill="#c6c6c6"/><circle cx="428.8" cy="441.0" r="0.7" fill="#c6c6c6"/><circle cx="430.5" cy="441.7" r="0.7" fill="#c6c6c6"/><circle cx="430.0" cy="443.8" r="0.7" fill="#c6c6c6"/><circle cx="426.5" cy="436.9" r="0.7" fill="#c6c6c6"/><circle cx="429.1" cy="435.1" r="0.7" fill="#c6c6c6"/><circle cx="431.3" cy="436.5" r="0.7" fill="#c6c6c6"/><circle cx="427.9" cy="437.9" r="0.7" fill="#c6c6c6"/><circle cx="425.4" cy="431.1" r="0.7" fill="#c6c6c6"/><circle cx="424.3" cy="437.3" r="0.7" fill="#c6c6c6"/><circle cx="432.9" cy="432.8" r="0.7" fill="#c6c6c6"/><circle cx="432.3" cy="443.8" r="0.7" fill="#c6c6c6"/><circle cx="430.8" cy="434.7" r="0.7" fill="#c6c6c6"/><circle cx="421.0" cy="442.6" r="0.7" fill="#c6c6c6"/><circle cx="421.7" cy="434.9" r="0.7" fill="#c6c6c6"/><circle cx="432.7" cy="439.9" r="0.7" fill="#c6c6c6"/><circle cx="431.3" cy="442.0" r="0.7" fill="#c6c6c6"/><circle cx="423.1" cy="437.7" r="0.7" fill="#c6c6c6"/><circle cx="422.0" cy="436.0" r="0.7" fill="#c6c6c6"/><circle cx="427.1" cy="441.8" r="0.7" fill="#c6c6c6"/><circle cx="424.5" cy="439.8" r="0.7" fill="#c6c6c6"/><circle cx="422.6" cy="434.4" r="0.7" fill="#c6c6c6"/><circle cx="421.5" cy="438.7" r="0.7" fill="#c6c6c6"/><circle cx="428.2" cy="440.4" r="0.7" fill="#c6c6c6"/><circle cx="426.1" cy="443.4" r="0.7" fill="#c6c6c6"/><circle cx="430.0" cy="438.5" r="0.7" fill="#c6c6c6"/><circle cx="431.9" cy="433.4" r="0.7" fill="#c6c6c6"/><circle cx="424.5" cy="438.3" r="0.7" fill="#c6c6c6"/><circle cx="428.4" cy="443.6" r="0.7" fill="#c6c6c6"/><circle cx="429.4" cy="431.6" r="0.7" fill="#c6c6c6"/><circle cx="432.8" cy="437.2" r="0.7" fill="#c6c6c6"/><circle cx="423.4" cy="441.1" r="0.7" fill="#c6c6c6"/><circle cx="428.8" cy="442.3" r="0.7" fill="#c6c6c6"/><circle cx="427.8" cy="434.4" r="0.7" fill="#c6c6c6"/><circle cx="426.8" cy="437.2" r="0.7" fill="#c6c6c6"/><circle cx="425.3" cy="438.7" r="0.7" fill="#c6c6c6"/><circle cx="422.7" cy="434.3" r="0.7" fill="#c6c6c6"/><circle cx="422.3" cy="431.4" r="0.7" fill="#c6c6c6"/><circle cx="427.5" cy="440.7" r="0.7" fill="#c6c6c6"/><circle cx="425.9" cy="442.9" r="0.7" fill="#c6c6c6"/><circle cx="428.5" cy="439.7" r="0.7" fill="#c6c6c6"/><circle cx="424.4" cy="442.9" r="0.7" fill="#c6c6c6"/><circle cx="425.2" cy="442.2" r="0.7" fill="#c6c6c6"/><circle cx="423.9" cy="443.6" r="0.7" fill="#c6c6c6"/><circle cx="429.5" cy="433.4" r="0.7" fill="#c6c6c6"/><circle cx="430.1" cy="433.1" r="0.7" fill="#c6c6c6"/><circle cx="425.7" cy="436.0" r="0.7" fill="#c6c6c6"/><circle cx="425.1" cy="435.8" r="0.7" fill="#c6c6c6"/><circle cx="422.8" cy="436.3" r="0.7" fill="#c6c6c6"/><circle cx="422.0" cy="441.5" r="0.7" fill="#c6c6c6"/><circle cx="425.3" cy="440.4" r="0.7" fill="#c6c6c6"/><circle cx="426.2" cy="443.9" r="0.7" fill="#c6c6c6"/><circle cx="432.0" cy="440.3" r="0.7" fill="#c6c6c6"/><circle cx="431.5" cy="443.1" r="0.7" fill="#c6c6c6"/><circle cx="432.6" cy="436.5" r="0.7" fill="#c6c6c6"/><circle cx="428.3" cy="431.9" r="0.7" fill="#c6c6c6"/><circle cx="425.4" cy="435.3" r="0.7" fill="#c6c6c6"/><circle cx="428.7" cy="431.1" r="0.7" fill="#c6c6c6"/><circle cx="430.4" cy="432.0" r="0.7" fill="#c6c6c6"/><circle cx="426.2" cy="437.4" r="0.7" fill="#c6c6c6"/><circle cx="431.5" cy="439.3" r="0.7" fill="#c6c6c6"/><circle cx="422.7" cy="439.8" r="0.7" fill="#c6c6c6"/><circle cx="423.8" cy="439.1" r="0.7" fill="#c6c6c6"/><circle cx="426.1" cy="443.6" r="0.7" fill="#c6c6c6"/><circle cx="426.5" cy="434.6" r="0.7" fill="#c6c6c6"/><circle cx="424.7" cy="443.6" r="0.7" fill="#c6c6c6"/><circle cx="425.2" cy="434.2" r="0.7" fill="#c6c6c6"/><circle cx="427.6" cy="439.8" r="0.7" fill="#c6c6c6"/><circle cx="432.7" cy="432.1" r="0.7" fill="#c6c6c6"/><circle cx="425.0" cy="440.5" r="0.7" fill="#c6c6c6"/><circle cx="427.1" cy="440.1" r="0.7" fill="#c6c6c6"/><circle cx="429.4" cy="432.2" r="0.7" fill="#c6c6c6"/><circle cx="421.4" cy="433.3" r="0.7" fill="#c6c6c6"/><circle cx="424.7" cy="433.4" r="0.7" fill="#c6c6c6"/><circle cx="424.4" cy="432.5" r="0.7" fill="#c6c6c6"/><circle cx="421.1" cy="437.9" r="0.7" fill="#c6c6c6"/><circle cx="430.4" cy="433.1" r="0.7" fill="#c6c6c6"/><circle cx="422.0" cy="440.6" r="0.7" fill="#c6c6c6"/><circle cx="421.8" cy="432.8" r="0.7" fill="#c6c6c6"/><circle cx="427.0" cy="434.9" r="0.7" fill="#c6c6c6"/><circle cx="430.8" cy="437.7" r="0.7" fill="#c6c6c6"/><circle cx="427.4" cy="435.9" r="0.7" fill="#c6c6c6"/><circle cx="421.2" cy="441.8" r="0.7" fill="#c6c6c6"/><circle cx="425.7" cy="441.9" r="0.7" fill="#c6c6c6"/><circle cx="422.1" cy="436.7" r="0.7" fill="#c6c6c6"/><circle cx="427.7" cy="433.0" r="0.7" fill="#c6c6c6"/><circle cx="421.7" cy="443.3" r="0.7" fill="#c6c6c6"/><circle cx="432.7" cy="444.2" r="0.7" fill="#c6c6c6"/><circle cx="427.7" cy="440.7" r="0.7" fill="#c6c6c6"/><circle cx="428.4" cy="437.3" r="0.7" fill="#c6c6c6"/><circle cx="423.0" cy="439.5" r="0.7" fill="#c6c6c6"/><circle cx="426.4" cy="440.0" r="0.7" fill="#c6c6c6"/><circle cx="421.3" cy="434.9" r="0.7" fill="#c6c6c6"/><circle cx="422.2" cy="441.1" r="0.7" fill="#c6c6c6"/><circle cx="426.9" cy="434.8" r="0.7" fill="#c6c6c6"/><circle cx="430.7" cy="437.9" r="0.7" fill="#c6c6c6"/><circle cx="424.5" cy="436.2" r="0.7" fill="#c6c6c6"/><circle cx="420.8" cy="431.8" r="0.7" fill="#c6c6c6"/><circle cx="421.3" cy="443.7" r="0.7" fill="#c6c6c6"/><circle cx="432.0" cy="438.2" r="0.7" fill="#c6c6c6"/><circle cx="432.8" cy="438.1" r="0.7" fill="#c6c6c6"/><circle cx="429.5" cy="432.4" r="0.7" fill="#c6c6c6"/><circle cx="426.3" cy="439.1" r="0.7" fill="#c6c6c6"/><circle cx="426.0" cy="439.6" r="0.7" fill="#c6c6c6"/><circle cx="425.2" cy="439.6" r="0.7" fill="#c6c6c6"/><circle cx="423.4" cy="437.5" r="0.7" fill="#c6c6c6"/><circle cx="426.2" cy="437.9" r="0.7" fill="#c6c6c6"/><circle cx="421.5" cy="434.2" r="0.7" fill="#c6c6c6"/><circle cx="429.9" cy="433.2" r="0.7" fill="#c6c6c6"/><circle cx="426.9" cy="444.1" r="0.7" fill="#c6c6c6"/><circle cx="428.5" cy="440.7" r="0.7" fill="#c6c6c6"/><circle cx="430.6" cy="443.8" r="0.7" fill="#c6c6c6"/><circle cx="425.7" cy="436.2" r="0.7" fill="#c6c6c6"/><circle cx="430.4" cy="431.3" r="0.7" fill="#c6c6c6"/><circle cx="426.8" cy="434.6" r="0.7" fill="#c6c6c6"/><circle cx="427.9" cy="440.7" r="0.7" fill="#c6c6c6"/><circle cx="431.7" cy="437.7" r="0.7" fill="#c6c6c6"/><circle cx="429.6" cy="432.0" r="0.7" fill="#c6c6c6"/><circle cx="429.2" cy="443.3" r="0.7" fill="#c6c6c6"/><circle cx="428.6" cy="437.5" r="0.7" fill="#c6c6c6"/><circle cx="427.3" cy="436.4" r="0.7" fill="#c6c6c6"/><circle cx="423.1" cy="433.6" r="0.7" fill="#c6c6c6"/><circle cx="430.9" cy="437.8" r="0.7" fill="#c6c6c6"/><circle cx="421.3" cy="439.1" r="0.7" fill="#c6c6c6"/><circle cx="431.3" cy="439.6" r="0.7" fill="#c6c6c6"/><circle cx="423.1" cy="443.6" r="0.7" fill="#c6c6c6"/><circle cx="423.1" cy="437.7" r="0.7" fill="#c6c6c6"/><circle cx="426.6" cy="433.2" r="0.7" fill="#c6c6c6"/><circle cx="424.2" cy="433.5" r="0.7" fill="#c6c6c6"/><circle cx="422.9" cy="431.5" r="0.7" fill="#c6c6c6"/><circle cx="429.0" cy="439.8" r="0.7" fill="#c6c6c6"/><circle cx="424.0" cy="443.6" r="0.7" fill="#c6c6c6"/><circle cx="426.2" cy="437.0" r="0.7" fill="#c6c6c6"/><circle cx="432.6" cy="439.6" r="0.7" fill="#c6c6c6"/><circle cx="426.7" cy="440.9" r="0.7" fill="#c6c6c6"/><circle cx="430.2" cy="435.1" r="0.7" fill="#c6c6c6"/><circle cx="421.7" cy="440.7" r="0.7" fill="#c6c6c6"/><circle cx="430.3" cy="438.9" r="0.7" fill="#c6c6c6"/><circle cx="422.3" cy="440.8" r="0.7" fill="#c6c6c6"/><circle cx="423.0" cy="441.5" r="0.7" fill="#c6c6c6"/><circle cx="428.7" cy="439.4" r="0.7" fill="#c6c6c6"/><circle cx="421.8" cy="435.8" r="0.7" fill="#c6c6c6"/><circle cx="430.1" cy="432.5" r="0.7" fill="#c6c6c6"/><circle cx="421.3" cy="436.5" r="0.7" fill="#c6c6c6"/><circle cx="431.6" cy="439.3" r="0.7" fill="#c6c6c6"/><circle cx="423.7" cy="432.1" r="0.7" fill="#c6c6c6"/><circle cx="431.4" cy="442.1" r="0.7" fill="#c6c6c6"/><circle cx="429.7" cy="433.7" r="0.7" fill="#c6c6c6"/><circle cx="430.3" cy="431.1" r="0.7" fill="#c6c6c6"/><circle cx="423.0" cy="435.2" r="0.7" fill="#c6c6c6"/><circle cx="433.0" cy="431.5" r="0.7" fill="#c6c6c6"/><circle cx="422.8" cy="440.7" r="0.7" fill="#c6c6c6"/><circle cx="430.5" cy="434.5" r="0.7" fill="#c6c6c6"/><circle cx="421.8" cy="442.3" r="0.7" fill="#c6c6c6"/><circle cx="433.1" cy="443.0" r="0.7" fill="#c6c6c6"/><circle cx="428.0" cy="432.1" r="0.7" fill="#c6c6c6"/><circle cx="430.2" cy="439.6" r="0.7" fill="#c6c6c6"/><circle cx="431.4" cy="441.0" r="0.7" fill="#c6c6c6"/><circle cx="427.2" cy="443.9" r="0.7" fill="#c6c6c6"/><circle cx="426.7" cy="436.9" r="0.7" fill="#c6c6c6"/><circle cx="428.9" cy="441.4" r="0.7" fill="#c6c6c6"/><circle cx="428.3" cy="443.4" r="0.7" fill="#c6c6c6"/><circle cx="424.2" cy="442.8" r="0.7" fill="#c6c6c6"/><circle cx="432.0" cy="435.6" r="0.7" fill="#c6c6c6"/><circle cx="421.2" cy="438.9" r="0.7" fill="#c6c6c6"/><circle cx="428.7" cy="443.7" r="0.7" fill="#c6c6c6"/><circle cx="427.9" cy="440.6" r="0.7" fill="#c6c6c6"/><circle cx="430.4" cy="433.2" r="0.7" fill="#c6c6c6"/><circle cx="429.3" cy="436.8" r="0.7" fill="#c6c6c6"/><circle cx="423.5" cy="434.6" r="0.7" fill="#c6c6c6"/><circle cx="425.4" cy="440.7" r="0.7" fill="#c6c6c6"/><circle cx="427.8" cy="435.2" r="0.7" fill="#c6c6c6"/><circle cx="421.5" cy="441.4" r="0.7" fill="#c6c6c6"/><circle cx="430.4" cy="442.0" r="0.7" fill="#c6c6c6"/><circle cx="430.8" cy="431.8" r="0.7" fill="#c6c6c6"/><circle cx="424.4" cy="437.1" r="0.7" fill="#c6c6c6"/><circle cx="424.6" cy="441.9" r="0.7" fill="#c6c6c6"/><circle cx="423.4" cy="431.2" r="0.7" fill="#c6c6c6"/><circle cx="426.5" cy="431.7" r="0.7" fill="#c6c6c6"/><circle cx="421.2" cy="439.0" r="0.7" fill="#c6c6c6"/><circle cx="428.5" cy="438.2" r="0.7" fill="#c6c6c6"/><circle cx="421.7" cy="438.4" r="0.7" fill="#c6c6c6"/>
<circle cx="403.6" cy="439.9" r="0.95" fill="#1f4486"/><circle cx="398.5" cy="446.1" r="0.95" fill="#1f4486"/><circle cx="418.1" cy="443.9" r="0.95" fill="#1f4486"/><circle cx="412.7" cy="448.9" r="0.95" fill="#1f4486"/><circle cx="391.3" cy="452.2" r="0.95" fill="#1f4486"/><circle cx="420.7" cy="444.2" r="0.95" fill="#1f4486"/><circle cx="422.8" cy="444.0" r="0.95" fill="#1f4486"/><circle cx="421.3" cy="437.3" r="0.95" fill="#1f4486"/><circle cx="365.0" cy="468.1" r="0.95" fill="#1f4486"/><circle cx="409.2" cy="439.6" r="0.95" fill="#1f4486"/><circle cx="398.6" cy="440.0" r="0.95" fill="#1f4486"/><circle cx="397.0" cy="438.2" r="0.95" fill="#1f4486"/><circle cx="394.9" cy="445.9" r="0.95" fill="#1f4486"/><circle cx="420.0" cy="440.0" r="0.95" fill="#1f4486"/><circle cx="419.0" cy="443.4" r="0.95" fill="#1f4486"/><circle cx="407.9" cy="437.7" r="0.95" fill="#1f4486"/><circle cx="419.8" cy="449.3" r="0.95" fill="#1f4486"/><circle cx="414.6" cy="442.8" r="0.95" fill="#1f4486"/><circle cx="422.0" cy="446.1" r="0.95" fill="#1f4486"/><circle cx="412.6" cy="446.2" r="0.95" fill="#1f4486"/><circle cx="406.4" cy="446.3" r="0.95" fill="#1f4486"/><circle cx="419.0" cy="437.6" r="0.95" fill="#1f4486"/><circle cx="385.3" cy="452.1" r="0.95" fill="#1f4486"/><circle cx="401.6" cy="442.1" r="0.95" fill="#1f4486"/><circle cx="418.0" cy="440.0" r="0.95" fill="#1f4486"/><circle cx="385.8" cy="436.9" r="0.95" fill="#1f4486"/><circle cx="404.9" cy="440.8" r="0.95" fill="#1f4486"/><circle cx="417.9" cy="448.4" r="0.95" fill="#1f4486"/><circle cx="398.4" cy="452.0" r="0.95" fill="#1f4486"/><circle cx="394.3" cy="449.6" r="0.95" fill="#1f4486"/><circle cx="399.9" cy="436.3" r="0.95" fill="#1f4486"/><circle cx="420.4" cy="448.8" r="0.95" fill="#1f4486"/><circle cx="367.4" cy="465.0" r="0.95" fill="#1f4486"/><circle cx="418.6" cy="443.1" r="0.95" fill="#1f4486"/><circle cx="418.3" cy="435.5" r="0.95" fill="#1f4486"/><circle cx="392.0" cy="458.8" r="0.95" fill="#1f4486"/><circle cx="412.4" cy="436.8" r="0.95" fill="#1f4486"/><circle cx="420.0" cy="437.0" r="0.95" fill="#1f4486"/><circle cx="416.1" cy="432.9" r="0.95" fill="#1f4486"/><circle cx="394.9" cy="451.9" r="0.95" fill="#1f4486"/><circle cx="402.0" cy="438.8" r="0.95" fill="#1f4486"/><circle cx="417.9" cy="440.7" r="0.95" fill="#1f4486"/><circle cx="407.0" cy="440.3" r="0.95" fill="#1f4486"/><circle cx="415.3" cy="446.6" r="0.95" fill="#1f4486"/><circle cx="416.3" cy="449.8" r="0.95" fill="#1f4486"/><circle cx="404.7" cy="453.2" r="0.95" fill="#1f4486"/><circle cx="423.2" cy="437.8" r="0.95" fill="#1f4486"/><circle cx="419.0" cy="438.0" r="0.95" fill="#1f4486"/><circle cx="377.0" cy="469.0" r="0.95" fill="#1f4486"/><circle cx="406.1" cy="438.2" r="0.95" fill="#1f4486"/><circle cx="418.0" cy="441.8" r="0.95" fill="#1f4486"/><circle cx="406.0" cy="448.2" r="0.95" fill="#1f4486"/><circle cx="406.6" cy="443.1" r="0.95" fill="#1f4486"/><circle cx="409.5" cy="436.1" r="0.95" fill="#1f4486"/><circle cx="410.5" cy="447.3" r="0.95" fill="#1f4486"/><circle cx="402.0" cy="457.1" r="0.95" fill="#1f4486"/><circle cx="362.4" cy="462.9" r="0.95" fill="#1f4486"/><circle cx="364.9" cy="436.3" r="0.95" fill="#1f4486"/><circle cx="422.8" cy="444.8" r="0.95" fill="#1f4486"/><circle cx="379.8" cy="447.0" r="0.95" fill="#1f4486"/><circle cx="418.4" cy="435.6" r="0.95" fill="#1f4486"/><circle cx="410.5" cy="437.3" r="0.95" fill="#1f4486"/><circle cx="421.4" cy="436.9" r="0.95" fill="#1f4486"/><circle cx="386.0" cy="451.1" r="0.95" fill="#1f4486"/><circle cx="413.8" cy="446.2" r="0.95" fill="#1f4486"/><circle cx="381.4" cy="453.8" r="0.95" fill="#1f4486"/><circle cx="414.4" cy="451.6" r="0.95" fill="#1f4486"/><circle cx="418.0" cy="444.5" r="0.95" fill="#1f4486"/><circle cx="398.1" cy="441.7" r="0.95" fill="#1f4486"/><circle cx="421.2" cy="435.5" r="0.95" fill="#1f4486"/><circle cx="412.2" cy="446.9" r="0.95" fill="#1f4486"/><circle cx="378.3" cy="450.6" r="0.95" fill="#1f4486"/><circle cx="384.7" cy="457.6" r="0.95" fill="#1f4486"/><circle cx="417.4" cy="434.8" r="0.95" fill="#1f4486"/><circle cx="365.3" cy="462.1" r="0.95" fill="#1f4486"/><circle cx="403.8" cy="438.9" r="0.95" fill="#1f4486"/><circle cx="420.4" cy="439.6" r="0.95" fill="#1f4486"/><circle cx="377.6" cy="458.6" r="0.95" fill="#1f4486"/><circle cx="383.7" cy="450.1" r="0.95" fill="#1f4486"/><circle cx="408.4" cy="451.0" r="0.95" fill="#1f4486"/><circle cx="414.3" cy="434.8" r="0.95" fill="#1f4486"/><circle cx="415.5" cy="445.8" r="0.95" fill="#1f4486"/><circle cx="387.4" cy="432.5" r="0.95" fill="#1f4486"/><circle cx="390.4" cy="445.6" r="0.95" fill="#1f4486"/><circle cx="383.9" cy="443.0" r="0.95" fill="#1f4486"/><circle cx="414.2" cy="436.3" r="0.95" fill="#1f4486"/><circle cx="419.3" cy="433.1" r="0.95" fill="#1f4486"/><circle cx="369.7" cy="439.9" r="0.95" fill="#1f4486"/><circle cx="401.1" cy="438.1" r="0.95" fill="#1f4486"/><circle cx="416.0" cy="441.6" r="0.95" fill="#1f4486"/><circle cx="405.1" cy="441.5" r="0.95" fill="#1f4486"/><circle cx="418.9" cy="441.4" r="0.95" fill="#1f4486"/><circle cx="408.3" cy="448.5" r="0.95" fill="#1f4486"/><circle cx="412.1" cy="441.3" r="0.95" fill="#1f4486"/><circle cx="402.9" cy="438.6" r="0.95" fill="#1f4486"/><circle cx="405.6" cy="455.8" r="0.95" fill="#1f4486"/><circle cx="416.7" cy="439.5" r="0.95" fill="#1f4486"/><circle cx="420.6" cy="435.8" r="0.95" fill="#1f4486"/><circle cx="407.5" cy="443.6" r="0.95" fill="#1f4486"/><circle cx="408.8" cy="450.8" r="0.95" fill="#1f4486"/><circle cx="402.5" cy="450.9" r="0.95" fill="#1f4486"/><circle cx="415.3" cy="440.3" r="0.95" fill="#1f4486"/><circle cx="398.0" cy="460.0" r="0.95" fill="#1f4486"/><circle cx="387.7" cy="450.7" r="0.95" fill="#1f4486"/><circle cx="393.8" cy="442.0" r="0.95" fill="#1f4486"/><circle cx="404.6" cy="450.3" r="0.95" fill="#1f4486"/><circle cx="415.7" cy="445.9" r="0.95" fill="#1f4486"/><circle cx="411.3" cy="441.3" r="0.95" fill="#1f4486"/><circle cx="420.2" cy="437.5" r="0.95" fill="#1f4486"/><circle cx="402.6" cy="443.3" r="0.95" fill="#1f4486"/><circle cx="392.7" cy="435.3" r="0.95" fill="#1f4486"/><circle cx="405.8" cy="441.8" r="0.95" fill="#1f4486"/><circle cx="420.1" cy="442.8" r="0.95" fill="#1f4486"/><circle cx="420.8" cy="435.2" r="0.95" fill="#1f4486"/><circle cx="408.9" cy="441.2" r="0.95" fill="#1f4486"/><circle cx="412.5" cy="441.0" r="0.95" fill="#1f4486"/><circle cx="418.8" cy="438.9" r="0.95" fill="#1f4486"/><circle cx="417.9" cy="436.2" r="0.95" fill="#1f4486"/><circle cx="359.7" cy="474.3" r="0.95" fill="#1f4486"/><circle cx="355.5" cy="448.2" r="0.95" fill="#1f4486"/><circle cx="354.5" cy="464.0" r="0.95" fill="#1f4486"/><circle cx="374.8" cy="442.6" r="0.95" fill="#1f4486"/><circle cx="370.5" cy="473.0" r="0.95" fill="#1f4486"/><circle cx="393.5" cy="450.5" r="0.95" fill="#1f4486"/><circle cx="377.8" cy="448.9" r="0.95" fill="#1f4486"/><circle cx="359.0" cy="452.8" r="0.95" fill="#1f4486"/><circle cx="389.3" cy="466.2" r="0.95" fill="#1f4486"/><circle cx="350.5" cy="469.5" r="0.95" fill="#1f4486"/><circle cx="365.1" cy="443.8" r="0.95" fill="#1f4486"/><circle cx="395.6" cy="441.7" r="0.95" fill="#1f4486"/><circle cx="390.6" cy="444.6" r="0.95" fill="#1f4486"/><circle cx="379.1" cy="450.6" r="0.95" fill="#1f4486"/><circle cx="362.1" cy="477.3" r="0.95" fill="#1f4486"/><circle cx="395.3" cy="451.2" r="0.95" fill="#1f4486"/><circle cx="370.2" cy="455.9" r="0.95" fill="#1f4486"/><circle cx="373.3" cy="461.9" r="0.95" fill="#1f4486"/><circle cx="382.6" cy="441.8" r="0.95" fill="#1f4486"/><circle cx="363.6" cy="458.9" r="0.95" fill="#1f4486"/><circle cx="372.9" cy="456.3" r="0.95" fill="#1f4486"/><circle cx="367.9" cy="448.2" r="0.95" fill="#1f4486"/><circle cx="365.4" cy="457.3" r="0.95" fill="#1f4486"/><circle cx="364.7" cy="439.0" r="0.95" fill="#1f4486"/><circle cx="382.7" cy="455.9" r="0.95" fill="#1f4486"/><circle cx="383.1" cy="444.6" r="0.95" fill="#1f4486"/><circle cx="370.2" cy="451.8" r="0.95" fill="#1f4486"/><circle cx="389.9" cy="450.3" r="0.95" fill="#1f4486"/><circle cx="368.6" cy="436.0" r="0.95" fill="#1f4486"/><circle cx="400.3" cy="454.7" r="0.95" fill="#1f4486"/><circle cx="391.0" cy="439.6" r="0.95" fill="#1f4486"/><circle cx="349.0" cy="465.9" r="0.95" fill="#1f4486"/><circle cx="361.6" cy="458.0" r="0.95" fill="#1f4486"/><circle cx="383.1" cy="452.9" r="0.95" fill="#1f4486"/><circle cx="392.5" cy="444.4" r="0.95" fill="#1f4486"/><circle cx="397.1" cy="458.4" r="0.95" fill="#1f4486"/><circle cx="400.8" cy="449.1" r="0.95" fill="#1f4486"/><circle cx="373.7" cy="442.3" r="0.95" fill="#1f4486"/><circle cx="369.9" cy="453.7" r="0.95" fill="#1f4486"/><circle cx="390.3" cy="448.4" r="0.95" fill="#1f4486"/><circle cx="395.5" cy="445.9" r="0.95" fill="#1f4486"/><circle cx="367.6" cy="463.1" r="0.95" fill="#1f4486"/><circle cx="386.8" cy="458.6" r="0.95" fill="#1f4486"/><circle cx="370.4" cy="455.9" r="0.95" fill="#1f4486"/><circle cx="377.0" cy="447.2" r="0.95" fill="#1f4486"/><circle cx="448.0" cy="405.7" r="0.95" fill="#4a9be0"/><circle cx="436.4" cy="417.2" r="0.95" fill="#4a9be0"/><circle cx="439.8" cy="410.9" r="0.95" fill="#4a9be0"/><circle cx="441.9" cy="409.3" r="0.95" fill="#4a9be0"/><circle cx="443.1" cy="415.9" r="0.95" fill="#4a9be0"/><circle cx="437.0" cy="415.1" r="0.95" fill="#4a9be0"/><circle cx="436.2" cy="417.8" r="0.95" fill="#4a9be0"/><circle cx="435.1" cy="408.0" r="0.95" fill="#4a9be0"/><circle cx="434.4" cy="410.7" r="0.95" fill="#4a9be0"/><circle cx="452.4" cy="405.5" r="0.95" fill="#4a9be0"/><circle cx="440.5" cy="402.1" r="0.95" fill="#4a9be0"/><circle cx="433.3" cy="403.3" r="0.95" fill="#4a9be0"/><circle cx="432.0" cy="411.0" r="0.95" fill="#4a9be0"/><circle cx="436.4" cy="409.9" r="0.95" fill="#4a9be0"/><circle cx="438.0" cy="411.7" r="0.95" fill="#4a9be0"/><circle cx="433.5" cy="401.7" r="0.95" fill="#4a9be0"/><circle cx="434.8" cy="402.7" r="0.95" fill="#4a9be0"/><circle cx="455.6" cy="403.1" r="0.95" fill="#4a9be0"/><circle cx="440.1" cy="401.6" r="0.95" fill="#4a9be0"/><circle cx="433.4" cy="411.8" r="0.95" fill="#4a9be0"/><circle cx="432.2" cy="413.6" r="0.95" fill="#4a9be0"/><circle cx="439.8" cy="417.2" r="0.95" fill="#4a9be0"/><circle cx="434.3" cy="404.5" r="0.95" fill="#4a9be0"/><circle cx="443.2" cy="415.1" r="0.95" fill="#4a9be0"/><circle cx="433.7" cy="412.4" r="0.95" fill="#4a9be0"/><circle cx="433.7" cy="417.9" r="0.95" fill="#4a9be0"/><circle cx="437.3" cy="412.5" r="0.95" fill="#4a9be0"/><circle cx="434.4" cy="401.7" r="0.95" fill="#4a9be0"/><circle cx="441.8" cy="400.8" r="0.95" fill="#4a9be0"/><circle cx="434.1" cy="406.9" r="0.95" fill="#4a9be0"/><circle cx="443.1" cy="409.2" r="0.95" fill="#4a9be0"/><circle cx="441.3" cy="401.5" r="0.95" fill="#4a9be0"/><circle cx="441.9" cy="408.6" r="0.95" fill="#4a9be0"/><circle cx="437.0" cy="408.4" r="0.95" fill="#4a9be0"/><circle cx="447.4" cy="414.8" r="0.95" fill="#4a9be0"/><circle cx="440.8" cy="411.0" r="0.95" fill="#4a9be0"/><circle cx="432.9" cy="400.8" r="0.95" fill="#4a9be0"/><circle cx="441.4" cy="416.5" r="0.95" fill="#4a9be0"/><circle cx="463.4" cy="392.3" r="0.95" fill="#4a9be0"/><circle cx="470.8" cy="390.0" r="0.95" fill="#4a9be0"/><circle cx="463.4" cy="403.4" r="0.95" fill="#4a9be0"/><circle cx="466.9" cy="403.8" r="0.95" fill="#4a9be0"/><circle cx="470.0" cy="405.8" r="0.95" fill="#4a9be0"/><circle cx="459.2" cy="406.2" r="0.95" fill="#4a9be0"/><circle cx="445.8" cy="416.2" r="0.95" fill="#4a9be0"/><circle cx="476.0" cy="364.0" r="0.95" fill="#4a9be0"/><circle cx="482.0" cy="392.3" r="0.95" fill="#2a5a8e"/><circle cx="461.8" cy="398.8" r="0.95" fill="#2a5a8e"/><circle cx="458.8" cy="399.7" r="0.95" fill="#2a5a8e"/><circle cx="453.0" cy="400.8" r="0.95" fill="#2a5a8e"/><circle cx="452.8" cy="404.3" r="0.95" fill="#2a5a8e"/><circle cx="443.8" cy="399.2" r="0.95" fill="#2a5a8e"/><circle cx="448.2" cy="410.0" r="0.95" fill="#2a5a8e"/><circle cx="440.8" cy="416.2" r="0.95" fill="#2a5a8e"/><circle cx="385.9" cy="396.5" r="0.95" fill="#d0208a"/><circle cx="402.3" cy="401.7" r="0.95" fill="#d0208a"/><circle cx="408.4" cy="405.2" r="0.95" fill="#d0208a"/><circle cx="411.8" cy="406.0" r="0.95" fill="#d0208a"/><circle cx="413.0" cy="403.5" r="0.95" fill="#d0208a"/><circle cx="414.4" cy="408.7" r="0.95" fill="#d0208a"/><circle cx="416.2" cy="411.2" r="0.95" fill="#d0208a"/><circle cx="397.5" cy="411.8" r="0.95" fill="#d0208a"/><circle cx="406.6" cy="415.9" r="0.95" fill="#d0208a"/><circle cx="415.3" cy="415.9" r="0.95" fill="#d0208a"/><circle cx="417.9" cy="415.2" r="0.95" fill="#d0208a"/><circle cx="419.3" cy="416.4" r="0.95" fill="#d0208a"/><circle cx="420.0" cy="414.7" r="0.95" fill="#d0208a"/><circle cx="418.0" cy="413.0" r="0.95" fill="#d0208a"/><circle cx="409.0" cy="412.0" r="0.95" fill="#d0208a"/><circle cx="390.2" cy="402.6" r="0.95" fill="#7e1048"/><circle cx="386.7" cy="410.4" r="0.95" fill="#7e1048"/><circle cx="414.4" cy="393.4" r="0.95" fill="#7e1048"/><circle cx="414.1" cy="395.8" r="0.95" fill="#7e1048"/><circle cx="406.6" cy="411.8" r="0.95" fill="#7e1048"/><circle cx="437.2" cy="431.5" r="0.95" fill="#4b1a6c"/><circle cx="437.9" cy="435.9" r="0.95" fill="#4b1a6c"/><circle cx="434.6" cy="443.2" r="0.95" fill="#4b1a6c"/><circle cx="440.6" cy="436.4" r="0.95" fill="#4b1a6c"/><circle cx="437.7" cy="432.8" r="0.95" fill="#4b1a6c"/><circle cx="446.1" cy="438.8" r="0.95" fill="#4b1a6c"/><circle cx="440.3" cy="439.7" r="0.95" fill="#4b1a6c"/><circle cx="437.8" cy="436.5" r="0.95" fill="#4b1a6c"/><circle cx="450.3" cy="430.9" r="0.95" fill="#4b1a6c"/><circle cx="440.0" cy="434.4" r="0.95" fill="#4b1a6c"/><circle cx="436.3" cy="439.9" r="0.95" fill="#4b1a6c"/><circle cx="434.8" cy="432.7" r="0.95" fill="#4b1a6c"/><circle cx="437.0" cy="441.8" r="0.95" fill="#4b1a6c"/><circle cx="437.7" cy="440.9" r="0.95" fill="#4b1a6c"/><circle cx="435.7" cy="430.9" r="0.95" fill="#4b1a6c"/><circle cx="439.4" cy="438.0" r="0.95" fill="#4b1a6c"/><circle cx="435.4" cy="432.3" r="0.95" fill="#3f1660"/><circle cx="438.5" cy="434.6" r="0.95" fill="#3f1660"/><circle cx="442.3" cy="433.0" r="0.95" fill="#3f1660"/><circle cx="446.9" cy="433.8" r="0.95" fill="#3f1660"/><circle cx="450.0" cy="436.2" r="0.95" fill="#3f1660"/><circle cx="440.0" cy="438.5" r="0.95" fill="#3f1660"/><circle cx="445.0" cy="479.5" r="0.95" fill="#3f1660"/><circle cx="443.8" cy="448.8" r="0.95" fill="#3f1660"/><circle cx="458.8" cy="451.2" r="0.95" fill="#3f1660"/><circle cx="460.5" cy="451.2" r="0.95" fill="#3f1660"/>
<text x="411.5" y="393.9" font-size="2.7" fill="#555" text-anchor="end">ANKRD58</text>
<text x="411.5" y="396.3" font-size="2.7" fill="#555" text-anchor="end">SLAMF7</text>
<text x="388.0" y="403.4" font-size="2.7" fill="#555" text-anchor="end">CD4</text>
<text x="384.5" y="411.2" font-size="2.7" fill="#555" text-anchor="end">PDIA5</text>
<text x="404.2" y="412.6" font-size="2.7" fill="#555" text-anchor="end">IL32</text>
<text x="480.0" y="393.2" font-size="2.7" fill="#555" text-anchor="end">CCL22</text>
<text x="457.5" y="399.7" font-size="2.7" fill="#555" text-anchor="end">IL10</text>
<text x="450.5" y="401.6" font-size="2.7" fill="#555" text-anchor="end">GZMK</text>
<text x="446.0" y="410.8" font-size="2.7" fill="#555" text-anchor="end">CTLA4</text>
<text x="439.0" y="417.0" font-size="2.7" fill="#555" text-anchor="end">TOX</text>
<text x="441.5" y="399.9" font-size="2.7" fill="#555" text-anchor="end">ICOS</text>
<text x="442.0" y="449.6" font-size="2.7" fill="#555" text-anchor="end">TNFRSF9</text>
<text x="457.0" y="452.0" font-size="2.7" fill="#555" text-anchor="end">KLRG1</text>
<text x="433.5" y="436.0" font-size="2.7" fill="#555" text-anchor="end">CD8A</text>
<text x="464" y="399.6" font-size="2.7" fill="#555">CCR8</text>
<text x="462.5" y="452.0" font-size="2.7" fill="#555">TNFSF4</text>
<text x="449.5" y="410.8" font-size="2.7" fill="#555">LAG3</text>
</g>
<line x1="345.5" y1="424.2" x2="496.5" y2="424.2" stroke="#111" stroke-width="1.1" stroke-dasharray="3.4 2.4"/>
<line x1="427.3" y1="359.0" x2="427.3" y2="494.5" stroke="#111" stroke-width="1.1" stroke-dasharray="3.4 2.4"/>
<rect x="345.5" y="359.0" width="151.0" height="135.5" fill="none" stroke="#111" stroke-width="1.2"/>
<line x1="342.90" y1="388.60" x2="345.50" y2="388.60" stroke="#111" stroke-width="1"/>
<text x="339.50" y="390.90" font-size="6.6" text-anchor="end">5</text>
<line x1="342.90" y1="424.00" x2="345.50" y2="424.00" stroke="#111" stroke-width="1"/>
<text x="339.50" y="426.30" font-size="6.6" text-anchor="end">0</text>
<line x1="342.90" y1="459.40" x2="345.50" y2="459.40" stroke="#111" stroke-width="1"/>
<text x="339.50" y="461.70" font-size="6.6" text-anchor="end">–5</text>
<line x1="351.00" y1="494.50" x2="351.00" y2="497.10" stroke="#111" stroke-width="1"/>
<text x="349.80" y="506.80" font-size="6.6" text-anchor="middle">–6</text>
<line x1="376.40" y1="494.50" x2="376.40" y2="497.10" stroke="#111" stroke-width="1"/>
<text x="375.20" y="506.80" font-size="6.6" text-anchor="middle">–4</text>
<line x1="401.80" y1="494.50" x2="401.80" y2="497.10" stroke="#111" stroke-width="1"/>
<text x="400.60" y="506.80" font-size="6.6" text-anchor="middle">–2</text>
<line x1="427.20" y1="494.50" x2="427.20" y2="497.10" stroke="#111" stroke-width="1"/>
<text x="427.20" y="506.80" font-size="6.6" text-anchor="middle">0</text>
<line x1="452.60" y1="494.50" x2="452.60" y2="497.10" stroke="#111" stroke-width="1"/>
<text x="452.60" y="506.80" font-size="6.6" text-anchor="middle">2</text>
<line x1="478.00" y1="494.50" x2="478.00" y2="497.10" stroke="#111" stroke-width="1"/>
<text x="478.00" y="506.80" font-size="6.6" text-anchor="middle">4</text>
<text x="421.00" y="518.60" font-size="8.3" stroke="#2a2a2a" stroke-width="0.2" text-anchor="middle" fill="#2a2a2a" textLength="73.5" lengthAdjust="spacingAndGlyphs">SPL DP – SPL DN log2FC</text>
<text x="327.20" y="427.30" font-size="8.3" stroke="#2a2a2a" stroke-width="0.2" text-anchor="middle" fill="#2a2a2a" textLength="76" lengthAdjust="spacingAndGlyphs" transform="rotate(-90 327.20 427.30)">ILE DP – SPL DN log2FC</text>
<path d="M53.80,617.60V623.60M55.97,617.60V623.60M56.34,617.60V623.60M56.43,617.60V623.60M56.65,617.60V623.60M57.34,617.60V623.60M57.94,617.60V623.60M58.15,617.60V623.60M58.47,617.60V623.60M58.61,617.60V623.60M58.98,617.60V623.60M60.00,617.60V623.60M60.51,617.60V623.60M61.18,617.60V623.60M61.64,617.60V623.60M61.90,617.60V623.60M65.50,617.60V623.60M66.17,617.60V623.60M82.37,617.60V623.60M91.52,617.60V623.60M93.01,617.60V623.60M97.62,617.60V623.60M99.76,617.60V623.60M110.51,617.60V623.60M117.51,617.60V623.60M123.84,617.60V623.60M137.38,617.60V623.60M142.99,617.60V623.60M148.51,617.60V623.60M153.28,617.60V623.60M158.67,617.60V623.60M163.25,617.60V623.60M171.71,617.60V623.60M176.12,617.60V623.60M178.34,617.60V623.60" stroke="#000" stroke-opacity="0.55" stroke-width="0.4" fill="none"/>
<path d="M53.96,617.60V623.60M57.14,617.60V623.60M57.71,617.60V623.60M59.12,617.60V623.60M60.99,617.60V623.60M61.40,617.60V623.60M62.24,617.60V623.60M64.56,617.60V623.60M68.43,617.60V623.60M73.55,617.60V623.60M75.18,617.60V623.60M77.91,617.60V623.60M102.06,617.60V623.60M104.88,617.60V623.60M106.37,617.60V623.60M130.84,617.60V623.60M138.86,617.60V623.60M140.80,617.60V623.60M146.67,617.60V623.60M150.02,617.60V623.60M156.70,617.60V623.60M168.48,617.60V623.60M169.46,617.60V623.60M174.84,617.60V623.60M176.54,617.60V623.60M176.96,617.60V623.60M178.12,617.60V623.60M178.72,617.60V623.60" stroke="#000" stroke-opacity="0.35" stroke-width="0.4" fill="none"/>
<path d="M54.14,617.60V623.60M54.97,617.60V623.60M55.77,617.60V623.60M56.11,617.60V623.60M56.89,617.60V623.60M57.29,617.60V623.60M57.36,617.60V623.60M58.24,617.60V623.60M59.62,617.60V623.60M61.71,617.60V623.60M62.28,617.60V623.60M62.65,617.60V623.60M63.06,617.60V623.60M70.43,617.60V623.60M72.01,617.60V623.60M84.41,617.60V623.60M86.88,617.60V623.60M90.44,617.60V623.60M95.10,617.60V623.60M95.58,617.60V623.60M105.32,617.60V623.60M114.01,617.60V623.60M115.55,617.60V623.60M116.52,617.60V623.60M118.16,617.60V623.60M119.15,617.60V623.60M121.04,617.60V623.60M123.31,617.60V623.60M127.69,617.60V623.60M129.41,617.60V623.60M134.97,617.60V623.60M137.64,617.60V623.60M141.27,617.60V623.60M148.92,617.60V623.60M150.52,617.60V623.60M154.42,617.60V623.60M160.90,617.60V623.60M166.95,617.60V623.60M167.98,617.60V623.60M175.01,617.60V623.60M177.71,617.60V623.60M178.90,617.60V623.60M179.18,617.60V623.60M179.60,617.60V623.60M179.98,617.60V623.60M180.16,617.60V623.60" stroke="#000" stroke-opacity="1.0" stroke-width="0.4" fill="none"/>
<path d="M54.34,617.60V623.60M54.56,617.60V623.60M54.75,617.60V623.60M54.99,617.60V623.60M55.12,617.60V623.60M55.34,617.60V623.60M55.51,617.60V623.60M55.73,617.60V623.60M55.89,617.60V623.60M56.25,617.60V623.60M56.28,617.60V623.60M56.84,617.60V623.60M57.09,617.60V623.60M57.57,617.60V623.60M57.64,617.60V623.60M61.52,617.60V623.60M62.86,617.60V623.60M67.12,617.60V623.60M68.67,617.60V623.60M70.62,617.60V623.60M73.73,617.60V623.60M76.29,617.60V623.60M78.15,617.60V623.60M78.48,617.60V623.60M79.14,617.60V623.60M81.67,617.60V623.60M89.38,617.60V623.60M102.37,617.60V623.60M108.07,617.60V623.60M111.55,617.60V623.60M118.57,617.60V623.60M124.13,617.60V623.60M126.38,617.60V623.60M128.72,617.60V623.60M132.76,617.60V623.60M133.90,617.60V623.60M135.28,617.60V623.60M145.16,617.60V623.60M152.48,617.60V623.60M162.04,617.60V623.60M164.96,617.60V623.60M166.15,617.60V623.60M173.91,617.60V623.60M174.26,617.60V623.60M174.54,617.60V623.60M174.75,617.60V623.60M175.44,617.60V623.60M175.90,617.60V623.60M177.34,617.60V623.60" stroke="#000" stroke-opacity="0.75" stroke-width="0.4" fill="none"/>
<line x1="47.90" y1="623.60" x2="187.40" y2="623.60" stroke="#111" stroke-width="1.0"/>
<line x1="48.50" y1="552.10" x2="186.80" y2="552.10" stroke="#c8284a" stroke-width="1.1" stroke-dasharray="3.2 2.3"/>
<line x1="48.50" y1="644.60" x2="186.80" y2="644.60" stroke="#c8284a" stroke-width="1.1" stroke-dasharray="3.2 2.3"/>
<path d="M54.20,623.60 L55.00,605.00 L55.80,590.00 L57.00,578.00 L58.50,570.00 L59.90,565.00 L61.50,556.00 L62.80,552.00 L65.00,552.30 L67.10,552.50 L70.60,554.00 L75.50,557.50 L78.10,557.80 L81.00,559.50 L85.00,562.50 L88.30,566.20 L95.00,574.00 L102.70,581.80 L110.00,589.50 L117.10,597.70 L124.00,605.50 L131.50,613.60 L136.50,618.80 L141.60,623.60 L146.00,627.80 L151.70,632.80 L156.00,636.00 L160.40,638.60 L166.00,641.80 L170.00,643.80 L172.30,644.40 L174.00,640.00 L176.00,635.00 L178.50,629.00 L180.60,623.60" stroke="#62ae44" stroke-width="1.05" fill="none" stroke-linejoin="round"/>
<rect x="47.9" y="547.0" width="139.5" height="102.29999999999995" fill="none" stroke="#111" stroke-width="1.2"/>
<line x1="44.90" y1="565.00" x2="47.90" y2="565.00" stroke="#111" stroke-width="1"/>
<text x="42.10" y="567.40" font-size="6.7" text-anchor="end">0.4</text>
<line x1="44.90" y1="594.30" x2="47.90" y2="594.30" stroke="#111" stroke-width="1"/>
<text x="42.10" y="596.70" font-size="6.7" text-anchor="end">0.2</text>
<line x1="44.90" y1="623.60" x2="47.90" y2="623.60" stroke="#111" stroke-width="1"/>
<text x="42.10" y="626.00" font-size="6.7" text-anchor="end">0.0</text>
<line x1="54.00" y1="649.30" x2="54.00" y2="652.30" stroke="#111" stroke-width="1"/>
<text x="54.00" y="661.70" font-size="6.8" text-anchor="middle">0</text>
<line x1="100.50" y1="649.30" x2="100.50" y2="652.30" stroke="#111" stroke-width="1"/>
<text x="100.50" y="661.70" font-size="6.8" text-anchor="middle">5000</text>
<line x1="147.00" y1="649.30" x2="147.00" y2="652.30" stroke="#111" stroke-width="1"/>
<text x="147.00" y="661.70" font-size="6.8" text-anchor="middle">10000</text>
<text x="117.70" y="674.00" font-size="8.9" stroke="#2a2a2a" stroke-width="0.2" text-anchor="middle" fill="#2a2a2a" textLength="15.8" lengthAdjust="spacingAndGlyphs">Rank</text>
<text x="26.80" y="598.30" font-size="8.6" stroke="#2a2a2a" stroke-width="0.2" text-anchor="middle" fill="#2a2a2a" textLength="53.5" lengthAdjust="spacingAndGlyphs" transform="rotate(-90 26.80 598.30)">Enrichment score</text>
<text x="47.60" y="542.00" font-size="6.5" textLength="120" lengthAdjust="spacingAndGlyphs">GSEA of lung_CD8_signature, P = 0.001</text>
<path d="M234.00,604.20V610.30M235.65,604.20V610.30M237.82,604.20V610.30M241.14,604.20V610.30M246.59,604.20V610.30M249.94,604.20V610.30M252.19,604.20V610.30M260.01,604.20V610.30M266.49,604.20V610.30M294.79,604.20V610.30M297.70,604.20V610.30M306.42,604.20V610.30M321.84,604.20V610.30M324.64,604.20V610.30M328.67,604.20V610.30M334.97,604.20V610.30M352.61,604.20V610.30M353.51,604.20V610.30M354.66,604.20V610.30M356.73,604.20V610.30" stroke="#000" stroke-opacity="1.0" stroke-width="0.4" fill="none"/>
<path d="M234.73,604.20V610.30M239.36,604.20V610.30M240.21,604.20V610.30M256.61,604.20V610.30M261.27,604.20V610.30M269.95,604.20V610.30M272.17,604.20V610.30M282.53,604.20V610.30M284.56,604.20V610.30M286.86,604.20V610.30M295.49,604.20V610.30M305.96,604.20V610.30M309.61,604.20V610.30M325.74,604.20V610.30M333.05,604.20V610.30M343.37,604.20V610.30M343.88,604.20V610.30M348.33,604.20V610.30M349.13,604.20V610.30M351.00,604.20V610.30M351.60,604.20V610.30M355.47,604.20V610.30" stroke="#000" stroke-opacity="0.55" stroke-width="0.4" fill="none"/>
<path d="M235.34,604.20V610.30M237.04,604.20V610.30M239.13,604.20V610.30M242.98,604.20V610.30M245.10,604.20V610.30M245.54,604.20V610.30M245.81,604.20V610.30M259.37,604.20V610.30M263.80,604.20V610.30M276.10,604.20V610.30M279.33,604.20V610.30M286.48,604.20V610.30M288.56,604.20V610.30M291.85,604.20V610.30M292.52,604.20V610.30M302.19,604.20V610.30M313.84,604.20V610.30M318.02,604.20V610.30M321.07,604.20V610.30M337.24,604.20V610.30M338.11,604.20V610.30M345.81,604.20V610.30M350.82,604.20V610.30M354.89,604.20V610.30" stroke="#000" stroke-opacity="0.35" stroke-width="0.4" fill="none"/>
<path d="M236.91,604.20V610.30M241.31,604.20V610.30M241.94,604.20V610.30M243.70,604.20V610.30M244.78,604.20V610.30M255.05,604.20V610.30M268.18,604.20V610.30M268.77,604.20V610.30M270.94,604.20V610.30M275.14,604.20V610.30M283.01,604.20V610.30M300.96,604.20V610.30M302.60,604.20V610.30M303.33,604.20V610.30M307.15,604.20V610.30M315.97,604.20V610.30M333.41,604.20V610.30M336.66,604.20V610.30M340.73,604.20V610.30M357.62,604.20V610.30" stroke="#000" stroke-opacity="0.75" stroke-width="0.4" fill="none"/>
<line x1="227.40" y1="610.30" x2="364.40" y2="610.30" stroke="#111" stroke-width="1.0"/>
<line x1="228.00" y1="551.50" x2="363.80" y2="551.50" stroke="#c8284a" stroke-width="1.1" stroke-dasharray="3.2 2.3"/>
<line x1="228.00" y1="644.40" x2="363.80" y2="644.40" stroke="#c8284a" stroke-width="1.1" stroke-dasharray="3.2 2.3"/>
<path d="M233.50,610.00 L234.30,595.00 L235.20,580.00 L236.40,568.00 L237.70,564.20 L239.00,561.00 L240.80,558.00 L243.50,554.00 L246.20,551.90 L248.50,552.30 L250.50,553.80 L252.50,555.50 L254.60,557.30 L256.00,555.50 L257.70,554.20 L259.50,555.50 L262.30,558.00 L266.00,561.30 L270.00,565.00 L280.00,575.00 L290.00,588.00 L300.00,601.00 L306.90,610.00 L315.00,618.50 L322.00,629.00 L330.00,637.00 L336.00,640.50 L341.00,642.50 L343.00,641.30 L345.50,643.00 L348.70,644.40 L351.00,641.50 L352.80,638.00 L354.20,630.00 L355.80,620.00 L357.80,610.30" stroke="#62ae44" stroke-width="1.05" fill="none" stroke-linejoin="round"/>
<rect x="227.4" y="547.0" width="136.99999999999997" height="102.39999999999998" fill="none" stroke="#111" stroke-width="1.2"/>
<line x1="224.40" y1="578.70" x2="227.40" y2="578.70" stroke="#111" stroke-width="1"/>
<text x="221.60" y="581.10" font-size="6.7" text-anchor="end">0.2</text>
<line x1="224.40" y1="610.30" x2="227.40" y2="610.30" stroke="#111" stroke-width="1"/>
<text x="221.60" y="612.70" font-size="6.7" text-anchor="end">0.0</text>
<line x1="224.40" y1="641.90" x2="227.40" y2="641.90" stroke="#111" stroke-width="1"/>
<text x="221.60" y="644.30" font-size="6.7" text-anchor="end">-0.2</text>
<line x1="233.80" y1="649.40" x2="233.80" y2="652.40" stroke="#111" stroke-width="1"/>
<text x="233.80" y="661.80" font-size="6.8" text-anchor="middle">0</text>
<line x1="279.85" y1="649.40" x2="279.85" y2="652.40" stroke="#111" stroke-width="1"/>
<text x="279.85" y="661.80" font-size="6.8" text-anchor="middle">5000</text>
<line x1="325.90" y1="649.40" x2="325.90" y2="652.40" stroke="#111" stroke-width="1"/>
<text x="325.90" y="661.80" font-size="6.8" text-anchor="middle">10000</text>
<text x="294.00" y="674.00" font-size="8.9" stroke="#2a2a2a" stroke-width="0.2" text-anchor="middle" fill="#2a2a2a" textLength="15.8" lengthAdjust="spacingAndGlyphs">Rank</text>
<text x="204.00" y="598.30" font-size="8.6" stroke="#2a2a2a" stroke-width="0.2" text-anchor="middle" fill="#2a2a2a" textLength="53.5" lengthAdjust="spacingAndGlyphs" transform="rotate(-90 204.00 598.30)">Enrichment score</text>
<text x="226.70" y="542.00" font-size="6.5" textLength="120" lengthAdjust="spacingAndGlyphs">GSEA of lung_CD4_signature, P = 0.012</text>
<rect x="0.6" y="0.6" width="518.8" height="681.8" fill="none" stroke="#000" stroke-width="1.3"/>
</svg></body></html>
